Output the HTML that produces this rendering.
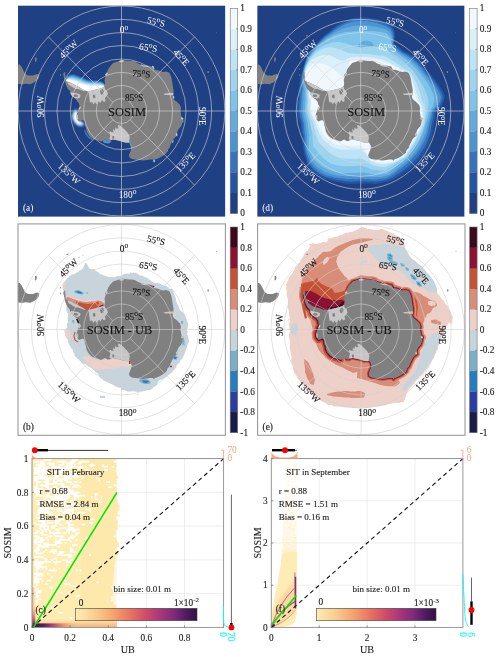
<!DOCTYPE html><html><head><meta charset="utf-8"><title>SOSIM vs UB sea ice</title>
<style>html,body{margin:0;padding:0;background:#fff}svg{display:block}text{font-family:"Liberation Serif","Times New Roman",serif;stroke-width:0.12px;paint-order:stroke}</style></head><body>
<svg width="500" height="657" viewBox="0 0 500 657">
<defs><clipPath id="pc"><rect x="0" y="0" width="207.4" height="211.4"/></clipPath>
<filter id="b1" x="-20%" y="-20%" width="140%" height="140%"><feGaussianBlur stdDeviation="0.9"/></filter>
<filter id="b05" x="-20%" y="-20%" width="140%" height="140%"><feGaussianBlur stdDeviation="0.45"/></filter>
</defs>
<rect width="500" height="657" fill="#fff"/>
<g transform="translate(18.0 5.4)"><g clip-path="url(#pc)">
<rect width="207.4" height="211.4" fill="#1f4082"/>
<g filter="url(#b05)"><path d="M47.0 75.1 C47.1 74.2 47.8 72.5 48.5 71.6 C49.2 70.6 49.9 69.9 51.0 69.4 C52.1 68.9 53.7 68.6 55.0 68.6 C56.3 68.6 57.5 69.1 59.0 69.6 C60.5 70.1 62.3 70.9 64.0 71.6 C65.7 72.3 67.3 73.1 69.0 73.6 C70.7 74.1 72.3 74.4 74.0 74.6 C75.7 74.8 77.3 74.5 79.0 74.8 C80.7 75.0 82.7 75.4 84.0 76.1 C85.3 76.8 86.6 78.0 87.0 79.1 C87.4 80.2 87.2 81.7 86.5 82.6 C85.8 83.5 84.4 84.0 83.0 84.6 C81.6 85.2 79.5 85.7 78.0 86.1 C76.5 86.5 75.3 86.8 74.0 87.1 C72.7 87.3 71.3 87.8 70.0 87.6 C68.7 87.4 67.3 86.7 66.0 86.1 C64.7 85.5 63.3 84.8 62.0 84.1 C60.7 83.4 59.3 82.8 58.0 82.1 C56.7 81.4 55.3 80.8 54.0 80.1 C52.7 79.4 51.0 78.6 50.0 78.1 C49.0 77.6 48.5 77.6 48.0 77.1 C47.5 76.6 46.9 76.0 47.0 75.1Z" fill="#2255a3"/><path d="M47.2 75.2 C47.3 74.3 48.0 72.8 48.7 71.9 C49.3 71.1 50.1 70.5 51.1 70.0 C52.2 69.6 53.7 69.3 55.0 69.4 C56.3 69.5 57.4 69.9 58.9 70.4 C60.4 70.9 62.1 71.7 63.8 72.4 C65.4 73.0 67.1 73.8 68.8 74.3 C70.4 74.8 72.1 75.1 73.8 75.3 C75.4 75.5 77.1 75.3 78.8 75.5 C80.4 75.7 82.4 76.0 83.8 76.6 C85.1 77.3 86.4 78.3 86.8 79.3 C87.3 80.3 87.1 81.7 86.5 82.6 C85.9 83.5 84.4 84.0 83.0 84.6 C81.6 85.2 79.5 85.7 78.0 86.1 C76.5 86.5 75.3 86.8 74.0 87.1 C72.7 87.3 71.3 87.8 70.0 87.6 C68.7 87.4 67.3 86.7 66.0 86.1 C64.7 85.5 63.3 84.8 62.0 84.1 C60.7 83.4 59.3 82.8 58.0 82.1 C56.7 81.4 55.3 80.8 54.0 80.1 C52.7 79.4 51.0 78.6 50.0 78.1 C49.0 77.6 48.5 77.6 48.0 77.1 C47.5 76.6 47.1 76.0 47.2 75.2Z" fill="#3574bc"/><path d="M47.3 75.2 C47.5 74.4 48.2 73.0 48.8 72.3 C49.5 71.5 50.2 71.0 51.2 70.7 C52.2 70.3 53.7 70.1 55.0 70.2 C56.3 70.3 57.4 70.8 58.8 71.3 C60.2 71.8 61.9 72.5 63.6 73.2 C65.2 73.8 66.9 74.6 68.6 75.0 C70.2 75.5 71.9 75.9 73.6 76.0 C75.2 76.2 76.9 76.0 78.6 76.2 C80.2 76.4 82.2 76.6 83.6 77.2 C84.9 77.7 86.2 78.6 86.7 79.5 C87.2 80.4 87.1 81.8 86.5 82.6 C85.9 83.4 84.4 84.0 83.0 84.6 C81.6 85.2 79.5 85.7 78.0 86.1 C76.5 86.5 75.3 86.8 74.0 87.1 C72.7 87.3 71.3 87.8 70.0 87.6 C68.7 87.4 67.3 86.7 66.0 86.1 C64.7 85.5 63.3 84.8 62.0 84.1 C60.7 83.4 59.3 82.8 58.0 82.1 C56.7 81.4 55.3 80.8 54.0 80.1 C52.7 79.4 51.0 78.6 50.0 78.1 C49.0 77.6 48.4 77.6 48.0 77.1 C47.6 76.6 47.2 76.0 47.3 75.2Z" fill="#4c93d1"/><path d="M47.5 75.3 C47.7 74.5 48.4 73.3 49.0 72.6 C49.6 71.9 50.3 71.6 51.3 71.3 C52.3 71.0 53.8 70.9 55.0 71.0 C56.2 71.2 57.3 71.6 58.7 72.1 C60.1 72.6 61.7 73.3 63.3 73.9 C64.9 74.5 66.7 75.3 68.3 75.8 C70.0 76.2 71.7 76.6 73.3 76.8 C75.0 77.0 76.7 76.7 78.3 76.9 C80.0 77.1 82.0 77.2 83.3 77.7 C84.7 78.2 86.0 78.9 86.5 79.7 C87.0 80.5 87.1 81.8 86.5 82.6 C85.9 83.4 84.4 84.0 83.0 84.6 C81.6 85.2 79.5 85.7 78.0 86.1 C76.5 86.5 75.3 86.8 74.0 87.1 C72.7 87.3 71.3 87.8 70.0 87.6 C68.7 87.4 67.3 86.7 66.0 86.1 C64.7 85.5 63.3 84.8 62.0 84.1 C60.7 83.4 59.3 82.8 58.0 82.1 C56.7 81.4 55.3 80.8 54.0 80.1 C52.7 79.4 51.0 78.6 50.0 78.1 C49.0 77.6 48.4 77.6 48.0 77.1 C47.6 76.6 47.3 76.0 47.5 75.3Z" fill="#62abdf"/><path d="M47.7 75.3 C47.9 74.6 48.5 73.5 49.2 72.9 C49.8 72.4 50.5 72.1 51.4 71.9 C52.4 71.8 53.8 71.7 55.0 71.8 C56.2 72.0 57.2 72.5 58.6 72.9 C59.9 73.4 61.5 74.1 63.1 74.7 C64.7 75.3 66.4 76.0 68.1 76.5 C69.8 77.0 71.4 77.3 73.1 77.5 C74.8 77.7 76.4 77.5 78.1 77.6 C79.8 77.7 81.7 77.8 83.1 78.2 C84.5 78.6 85.8 79.2 86.3 79.9 C86.9 80.6 87.1 81.8 86.5 82.6 C85.9 83.4 84.4 84.0 83.0 84.6 C81.6 85.2 79.5 85.7 78.0 86.1 C76.5 86.5 75.3 86.8 74.0 87.1 C72.7 87.3 71.3 87.8 70.0 87.6 C68.7 87.4 67.3 86.7 66.0 86.1 C64.7 85.5 63.3 84.8 62.0 84.1 C60.7 83.4 59.3 82.8 58.0 82.1 C56.7 81.4 55.3 80.8 54.0 80.1 C52.7 79.4 51.0 78.6 50.0 78.1 C49.0 77.6 48.4 77.6 48.0 77.1 C47.6 76.6 47.5 76.0 47.7 75.3Z" fill="#7ec3e9"/><path d="M47.8 75.4 C48.1 74.7 48.7 73.7 49.3 73.3 C50.0 72.8 50.6 72.7 51.6 72.6 C52.5 72.5 53.9 72.5 55.0 72.7 C56.1 72.9 57.1 73.3 58.4 73.8 C59.8 74.2 61.3 74.9 62.9 75.5 C64.5 76.1 66.2 76.8 67.9 77.2 C69.6 77.7 71.2 78.0 72.9 78.2 C74.6 78.4 76.2 78.2 77.9 78.3 C79.6 78.4 81.5 78.5 82.9 78.8 C84.3 79.1 85.6 79.5 86.2 80.1 C86.8 80.7 87.0 81.8 86.5 82.6 C86.0 83.3 84.4 84.0 83.0 84.6 C81.6 85.2 79.5 85.7 78.0 86.1 C76.5 86.5 75.3 86.8 74.0 87.1 C72.7 87.3 71.3 87.8 70.0 87.6 C68.7 87.4 67.3 86.7 66.0 86.1 C64.7 85.5 63.3 84.8 62.0 84.1 C60.7 83.4 59.3 82.8 58.0 82.1 C56.7 81.4 55.3 80.8 54.0 80.1 C52.7 79.4 51.0 78.6 50.0 78.1 C49.0 77.6 48.4 77.6 48.0 77.1 C47.6 76.6 47.6 76.0 47.8 75.4Z" fill="#9dd4f0"/><path d="M48.0 75.4 C48.2 74.8 48.9 74.0 49.5 73.6 C50.1 73.2 50.8 73.2 51.7 73.2 C52.6 73.2 53.9 73.2 55.0 73.5 C56.1 73.7 57.1 74.1 58.3 74.6 C59.6 75.1 61.1 75.7 62.7 76.3 C64.2 76.8 66.0 77.5 67.7 77.9 C69.3 78.4 71.0 78.8 72.7 78.9 C74.3 79.1 76.0 78.9 77.7 79.0 C79.3 79.1 81.3 79.1 82.7 79.3 C84.1 79.5 85.4 79.8 86.0 80.3 C86.6 80.8 87.0 81.9 86.5 82.6 C86.0 83.3 84.4 84.0 83.0 84.6 C81.6 85.2 79.5 85.7 78.0 86.1 C76.5 86.5 75.3 86.8 74.0 87.1 C72.7 87.3 71.3 87.8 70.0 87.6 C68.7 87.4 67.3 86.7 66.0 86.1 C64.7 85.5 63.3 84.8 62.0 84.1 C60.7 83.4 59.3 82.8 58.0 82.1 C56.7 81.4 55.3 80.8 54.0 80.1 C52.7 79.4 51.0 78.6 50.0 78.1 C49.0 77.6 48.3 77.5 48.0 77.1 C47.7 76.7 47.8 76.0 48.0 75.4Z" fill="#bde3f6"/><path d="M48.2 75.5 C48.4 75.0 49.1 74.2 49.7 73.9 C50.3 73.7 50.9 73.8 51.8 73.8 C52.7 73.9 53.9 74.0 55.0 74.3 C56.1 74.5 57.0 75.0 58.2 75.4 C59.5 75.9 60.9 76.5 62.4 77.0 C64.0 77.6 65.8 78.2 67.4 78.7 C69.1 79.1 70.8 79.5 72.4 79.7 C74.1 79.8 75.8 79.7 77.4 79.7 C79.1 79.7 81.0 79.7 82.4 79.8 C83.8 80.0 85.2 80.0 85.8 80.5 C86.5 81.0 87.0 81.9 86.5 82.6 C86.0 83.3 84.4 84.0 83.0 84.6 C81.6 85.2 79.5 85.7 78.0 86.1 C76.5 86.5 75.3 86.8 74.0 87.1 C72.7 87.3 71.3 87.8 70.0 87.6 C68.7 87.4 67.3 86.7 66.0 86.1 C64.7 85.5 63.3 84.8 62.0 84.1 C60.7 83.4 59.3 82.8 58.0 82.1 C56.7 81.4 55.3 80.8 54.0 80.1 C52.7 79.4 51.0 78.6 50.0 78.1 C49.0 77.6 48.3 77.5 48.0 77.1 C47.7 76.7 47.9 76.0 48.2 75.5Z" fill="#dcf0fa"/><path d="M48.3 75.5 C48.6 75.1 49.2 74.4 49.8 74.3 C50.4 74.1 51.0 74.3 51.9 74.5 C52.8 74.6 54.0 74.8 55.0 75.1 C56.0 75.4 56.9 75.8 58.1 76.3 C59.3 76.7 60.7 77.3 62.2 77.8 C63.7 78.3 65.6 79.0 67.2 79.4 C68.9 79.8 70.6 80.2 72.2 80.4 C73.9 80.5 75.6 80.4 77.2 80.4 C78.9 80.4 80.8 80.3 82.2 80.4 C83.6 80.4 85.0 80.3 85.7 80.7 C86.4 81.1 86.9 81.9 86.5 82.6 C86.1 83.2 84.4 84.0 83.0 84.6 C81.6 85.2 79.5 85.7 78.0 86.1 C76.5 86.5 75.3 86.8 74.0 87.1 C72.7 87.3 71.3 87.8 70.0 87.6 C68.7 87.4 67.3 86.7 66.0 86.1 C64.7 85.5 63.3 84.8 62.0 84.1 C60.7 83.4 59.3 82.8 58.0 82.1 C56.7 81.4 55.3 80.8 54.0 80.1 C52.7 79.4 51.0 78.6 50.0 78.1 C49.0 77.6 48.3 77.5 48.0 77.1 C47.7 76.7 48.0 76.0 48.3 75.5Z" fill="#f0f8fd"/><path d="M48.5 75.6 C48.8 75.2 49.4 74.7 50.0 74.6 C50.6 74.5 51.2 74.9 52.0 75.1 C52.8 75.3 54.0 75.6 55.0 75.9 C56.0 76.2 56.8 76.6 58.0 77.1 C59.2 77.5 60.5 78.1 62.0 78.6 C63.5 79.1 65.3 79.7 67.0 80.1 C68.7 80.5 70.3 80.9 72.0 81.1 C73.7 81.3 75.3 81.1 77.0 81.1 C78.7 81.1 80.6 80.9 82.0 80.9 C83.4 80.9 84.8 80.6 85.5 80.9 C86.2 81.2 86.9 82.0 86.5 82.6 C86.1 83.2 84.4 84.0 83.0 84.6 C81.6 85.2 79.5 85.7 78.0 86.1 C76.5 86.5 75.3 86.8 74.0 87.1 C72.7 87.3 71.3 87.8 70.0 87.6 C68.7 87.4 67.3 86.7 66.0 86.1 C64.7 85.5 63.3 84.8 62.0 84.1 C60.7 83.4 59.3 82.8 58.0 82.1 C56.7 81.4 55.3 80.8 54.0 80.1 C52.7 79.4 51.0 78.6 50.0 78.1 C49.0 77.6 48.2 77.5 48.0 77.1 C47.8 76.7 48.2 76.0 48.5 75.6Z" fill="#ffffff"/></g><g filter="url(#b1)"><path d="M56.5 103.6 C57.5 102.8 58.8 103.4 59.5 104.1 C60.2 104.8 60.9 106.5 61.0 107.6 C61.1 108.7 60.1 109.5 60.0 110.6 C59.9 111.7 60.1 113.1 60.5 114.1 C60.9 115.1 61.6 116.1 62.5 116.6 C63.4 117.1 65.2 116.5 66.0 117.1 C66.8 117.7 67.7 119.3 67.0 120.1 C66.3 120.9 63.6 122.0 62.0 121.8 C60.4 121.6 58.8 120.3 57.5 119.1 C56.2 117.9 54.9 116.3 54.2 114.6 C53.6 112.8 53.2 110.4 53.6 108.6 C54.0 106.8 55.5 104.3 56.5 103.6Z" fill="#2255a3"/><path d="M56.6 104.3 C57.5 103.6 58.7 104.0 59.4 104.6 C60.1 105.2 60.7 106.8 60.7 107.8 C60.8 108.9 59.9 109.7 59.8 110.7 C59.7 111.7 59.9 113.1 60.3 114.0 C60.7 115.0 61.3 116.0 62.2 116.5 C63.1 117.0 64.8 116.5 65.5 117.0 C66.2 117.6 67.0 119.1 66.3 119.8 C65.7 120.5 63.2 121.4 61.8 121.2 C60.3 121.0 58.8 119.7 57.6 118.6 C56.4 117.4 55.2 116.0 54.6 114.3 C54.0 112.7 53.7 110.5 54.0 108.8 C54.4 107.2 55.8 105.0 56.6 104.3Z" fill="#3574bc"/><path d="M56.8 104.9 C57.6 104.3 58.7 104.6 59.3 105.1 C59.9 105.7 60.4 107.2 60.5 108.1 C60.5 109.0 59.7 109.8 59.6 110.8 C59.5 111.7 59.7 113.0 60.1 113.9 C60.5 114.9 61.1 115.8 61.9 116.3 C62.8 116.8 64.4 116.4 65.0 116.9 C65.6 117.5 66.2 118.9 65.7 119.5 C65.1 120.1 62.8 120.8 61.5 120.5 C60.2 120.3 58.8 119.1 57.7 118.1 C56.6 117.0 55.5 115.6 54.9 114.1 C54.4 112.6 54.2 110.6 54.5 109.1 C54.8 107.6 56.0 105.6 56.8 104.9Z" fill="#4c93d1"/><path d="M57.0 105.6 C57.7 105.0 58.6 105.2 59.1 105.6 C59.7 106.1 60.2 107.5 60.2 108.3 C60.2 109.2 59.5 109.9 59.4 110.8 C59.3 111.8 59.5 113.0 59.9 113.8 C60.2 114.7 60.9 115.7 61.6 116.2 C62.4 116.7 63.9 116.4 64.5 116.8 C65.1 117.3 65.5 118.6 65.0 119.1 C64.5 119.7 62.5 120.2 61.2 119.9 C60.0 119.6 58.7 118.6 57.8 117.5 C56.8 116.5 55.8 115.2 55.3 113.8 C54.8 112.5 54.6 110.7 54.9 109.3 C55.2 108.0 56.2 106.2 57.0 105.6Z" fill="#7ec3e9"/><path d="M57.1 106.3 C57.7 105.7 58.6 105.8 59.0 106.2 C59.5 106.6 59.9 107.8 59.9 108.6 C60.0 109.4 59.2 110.1 59.2 110.9 C59.1 111.8 59.3 112.9 59.6 113.8 C60.0 114.6 60.6 115.6 61.4 116.1 C62.1 116.6 63.5 116.3 64.0 116.8 C64.5 117.2 64.8 118.4 64.3 118.8 C63.8 119.2 62.1 119.6 61.0 119.3 C59.9 119.0 58.7 118.0 57.8 117.0 C56.9 116.1 56.1 114.8 55.7 113.6 C55.3 112.4 55.1 110.8 55.3 109.6 C55.6 108.4 56.5 106.8 57.1 106.3Z" fill="#bde3f6"/><path d="M57.3 106.9 C57.8 106.4 58.5 106.4 58.9 106.7 C59.3 107.0 59.7 108.1 59.7 108.8 C59.7 109.6 59.0 110.2 59.0 111.0 C59.0 111.8 59.1 112.9 59.4 113.7 C59.8 114.5 60.4 115.4 61.1 115.9 C61.8 116.4 63.1 116.3 63.5 116.7 C63.9 117.1 64.1 118.2 63.7 118.5 C63.2 118.8 61.7 119.0 60.8 118.6 C59.8 118.3 58.7 117.4 57.9 116.5 C57.1 115.6 56.4 114.5 56.0 113.3 C55.7 112.2 55.6 110.9 55.8 109.8 C56.0 108.8 56.7 107.5 57.3 106.9Z" fill="#f0f8fd"/><path d="M57.4 107.6 C57.8 107.1 58.5 106.9 58.8 107.2 C59.1 107.4 59.4 108.4 59.4 109.1 C59.4 109.8 58.8 110.3 58.8 111.1 C58.8 111.8 58.9 112.8 59.2 113.6 C59.5 114.4 60.2 115.3 60.8 115.8 C61.4 116.3 62.6 116.2 63.0 116.6 C63.4 117.0 63.4 118.0 63.0 118.2 C62.6 118.4 61.3 118.4 60.5 118.0 C59.7 117.6 58.7 116.8 58.0 116.0 C57.3 115.2 56.7 114.1 56.4 113.1 C56.1 112.1 56.0 111.0 56.2 110.1 C56.4 109.2 57.0 108.1 57.4 107.6Z" fill="#ffffff"/></g><g filter="url(#b05)"><path d="M57.5 91.1 C57.8 90.7 58.3 90.7 59.0 91.1 C59.7 91.5 60.9 92.7 61.5 93.6 C62.1 94.5 62.6 95.9 62.5 96.6 C62.4 97.3 61.6 97.8 61.0 97.6 C60.4 97.4 59.6 96.3 59.0 95.6 C58.4 94.9 57.8 94.3 57.5 93.6 C57.2 92.8 57.2 91.5 57.5 91.1Z" fill="#3574bc"/><path d="M58.5 92.1 C58.7 91.8 59.0 91.8 59.5 92.1 C60.0 92.4 60.8 93.4 61.2 94.1 C61.7 94.8 62.0 95.9 62.0 96.3 C62.0 96.8 61.4 97.1 61.0 97.0 C60.6 96.9 60.0 96.0 59.6 95.5 C59.2 95.0 58.7 94.5 58.5 93.9 C58.3 93.3 58.3 92.4 58.5 92.1Z" fill="#7ec3e9"/><path d="M59.5 93.1 C59.6 92.9 59.8 92.8 60.0 93.1 C60.2 93.3 60.8 94.1 61.0 94.6 C61.2 95.1 61.5 95.8 61.5 96.1 C61.5 96.4 61.2 96.5 61.0 96.4 C60.8 96.3 60.5 95.8 60.2 95.4 C60.0 95.0 59.6 94.6 59.5 94.2 C59.4 93.8 59.4 93.3 59.5 93.1Z" fill="#dcf0fa"/></g><g filter="url(#b05)"><path d="M67.0 124.6 C67.5 125.0 68.2 127.0 69.0 128.1 C69.8 129.2 70.6 130.3 71.5 131.1 C72.4 131.9 74.1 132.5 74.5 133.1 C74.9 133.7 74.7 134.7 74.0 134.6 C73.3 134.5 71.6 133.5 70.5 132.6 C69.4 131.7 68.2 130.3 67.5 129.1 C66.8 127.9 66.3 126.3 66.2 125.6 C66.1 124.8 66.5 124.2 67.0 124.6Z" fill="#3574bc"/><path d="M85.0 135.1 C85.2 134.5 86.2 134.0 87.0 134.1 C87.8 134.2 88.8 135.3 89.5 135.6 C90.2 135.8 90.9 135.8 91.5 135.6 C92.1 135.4 92.8 134.4 93.0 134.6 C93.2 134.8 93.5 136.0 93.0 136.6 C92.5 137.2 91.2 137.9 90.0 138.0 C88.8 138.1 86.8 137.9 86.0 137.4 C85.2 136.9 84.8 135.7 85.0 135.1Z" fill="#4c93d1"/><path d="M110.8 135.6 C110.9 135.3 112.0 135.8 112.6 136.6 C113.2 137.4 113.9 139.4 114.2 140.6 C114.5 141.8 114.7 142.8 114.6 143.6 C114.5 144.3 113.7 145.4 113.4 145.1 C113.1 144.8 113.1 142.7 112.8 141.6 C112.5 140.5 112.1 139.6 111.8 138.6 C111.5 137.6 110.7 135.9 110.8 135.6Z" fill="#62abdf"/><path d="M134.0 60.6 C134.2 60.1 135.4 60.5 135.8 61.1 C136.2 61.7 136.4 63.6 136.2 64.1 C136.0 64.6 135.2 64.7 134.8 64.1 C134.4 63.5 133.8 61.1 134.0 60.6Z" fill="#9dd4f0"/><path d="M154.8 90.6 C155.0 90.2 155.8 90.2 156.0 90.6 C156.2 91.0 156.4 92.8 156.2 93.2 C156.0 93.6 155.2 93.4 155.0 93.0 C154.8 92.6 154.6 91.0 154.8 90.6Z" fill="#9dd4f0"/><path d="M164.4 114.6 C164.6 114.2 165.3 114.2 165.4 114.6 C165.5 115.0 165.4 116.8 165.2 117.2 C165.0 117.6 164.3 117.4 164.2 117.0 C164.1 116.6 164.2 115.0 164.4 114.6Z" fill="#62abdf"/><path d="M135.2 154.6 C135.5 154.2 136.7 154.1 137.0 154.4 C137.3 154.7 137.3 156.2 137.0 156.6 C136.7 157.0 135.7 156.9 135.4 156.6 C135.1 156.3 134.9 155.0 135.2 154.6Z" fill="#7ec3e9"/><path d="M154.4 135.1 C154.7 134.7 155.5 134.3 155.6 134.6 C155.7 134.9 155.5 136.6 155.2 137.0 C154.9 137.4 154.1 137.5 154.0 137.2 C153.9 136.9 154.1 135.5 154.4 135.1Z" fill="#7ec3e9"/><path d="M148.6 144.2 C148.8 144.0 149.7 144.1 149.8 144.4 C149.9 144.7 149.6 146.0 149.4 146.2 C149.2 146.4 148.5 146.1 148.4 145.8 C148.3 145.5 148.4 144.4 148.6 144.2Z" fill="#7ec3e9"/></g>
<path d="M46.3 66.6 L47.2 66.9 L47.5 71.6 L48.0 75.6 L52.0 77.1 L55.0 78.6 L58.0 80.1 L61.0 81.6 L64.0 83.6 L67.0 85.1 L70.0 86.1 L74.0 85.1 L78.0 84.1 L82.0 83.1 L85.0 82.1 L86.5 80.6 L87.0 77.6 L86.5 74.6 L87.5 71.6 L87.0 69.1 L89.0 67.1 L90.0 64.1 L92.0 61.1 L93.5 59.4 L95.0 57.6 L98.0 56.6 L101.0 55.6 L103.5 54.6 L107.0 55.1 L111.0 55.6 L115.0 55.6 L117.0 56.1 L120.0 58.1 L123.0 59.1 L126.0 60.1 L130.0 60.4 L134.0 61.1 L135.5 64.1 L139.0 64.6 L142.0 65.6 L145.0 66.6 L148.0 66.1 L151.0 67.1 L152.5 69.6 L153.5 72.6 L154.0 75.6 L154.5 78.6 L155.0 81.6 L155.5 84.6 L155.5 87.6 L155.0 90.1 L154.7 91.6 L155.5 93.6 L157.0 95.1 L158.5 96.1 L160.0 97.6 L162.0 99.6 L163.0 102.6 L162.5 105.6 L163.0 108.6 L163.5 111.6 L165.5 113.1 L164.5 115.6 L164.0 118.6 L163.0 121.1 L161.5 122.6 L160.0 124.6 L159.0 127.6 L159.5 130.1 L157.0 132.1 L155.5 133.6 L154.0 136.6 L152.5 139.6 L151.5 142.6 L149.5 144.6 L148.5 147.6 L146.0 149.6 L143.0 151.6 L140.0 153.1 L137.0 154.1 L136.0 155.6 L135.0 154.1 L132.0 154.1 L129.0 154.6 L125.0 155.1 L121.0 154.6 L117.0 154.1 L114.0 153.6 L111.5 152.1 L111.0 149.6 L112.0 147.1 L113.0 144.6 L114.0 142.1 L113.0 139.1 L111.5 136.9 L110.2 137.3 L106.8 137.1 L102.0 135.6 L97.7 134.7 L94.8 134.0 L93.0 134.6 L91.5 135.6 L89.5 135.6 L87.0 134.1 L85.0 135.1 L83.0 136.1 L80.5 135.1 L77.0 134.1 L74.5 133.1 L72.0 131.1 L70.0 128.6 L68.5 125.6 L68.0 122.6 L67.0 119.6 L66.5 116.1 L65.0 114.6 L61.0 116.1 L59.0 113.6 L58.5 109.6 L59.5 106.6 L60.5 103.6 L62.0 100.6 L61.0 99.1 L60.5 96.6 L59.0 94.6 L57.0 93.1 L55.0 91.6 L53.5 89.6 L53.0 87.1 L51.5 85.1 L49.5 83.1 L48.0 79.6 L47.0 76.6 L46.0 72.6Z" fill="#808080"/><path d="M70.5 86.1 L74.0 85.1 L78.0 84.1 L82.0 83.1 L85.0 82.1 L86.5 81.1 L87.0 83.6 L89.0 85.6 L90.0 88.6 L88.5 90.6 L87.0 92.6 L87.5 95.6 L86.0 96.6 L84.0 94.6 L82.5 97.6 L80.5 95.6 L78.5 99.1 L77.0 96.6 L75.5 99.1 L74.0 96.6 L72.0 97.1 L71.5 93.6 L71.0 89.6Z" fill="#c6c6c6"/><path d="M93.0 134.6 L94.8 134.0 L97.7 134.7 L102.0 135.6 L106.8 137.1 L110.2 137.3 L111.5 136.9 L111.1 135.4 L111.8 132.5 L111.1 129.6 L109.2 126.8 L106.8 124.4 L104.4 122.0 L102.0 120.0 L100.3 119.6 L99.8 121.0 L100.8 122.9 L98.6 123.4 L97.7 121.7 L97.2 123.4 L96.7 125.3 L95.5 123.4 L95.0 125.3 L95.8 126.8 L93.8 126.8 L91.9 125.8 L91.2 127.7 L92.4 129.6 L91.9 131.6 L91.4 133.5Z" fill="#c6c6c6"/><path d="M145.5 88.4 L150.0 87.9 L155.4 87.4 L155.2 89.8 L150.0 89.6 L147.0 89.6Z" fill="#c6c6c6"/><path d="M49.5 76.6 L53.0 77.6 L56.0 79.1 L59.0 80.8 L62.0 82.4 L65.0 84.1 L67.5 85.4 L66.0 85.8 L63.0 84.6 L60.0 83.6 L58.0 83.6 L55.0 82.1 L52.0 80.1 L50.0 78.6Z" fill="#c6c6c6"/><path d="M52.5 86.6 L56.0 87.6 L60.0 88.1 L62.5 89.6 L62.0 92.1 L60.0 93.1 L57.0 92.6 L54.0 90.6 L52.5 88.6Z" fill="#c6c6c6"/><path d="M87.0 69.1 L89.0 67.1 L90.0 68.1 L88.5 70.1Z" fill="#c6c6c6"/><path d="M101.0 55.6 L103.5 54.6 L106.0 55.1 L105.5 56.6 L102.0 56.9Z" fill="#c6c6c6"/><path d="M163.5 111.6 L165.5 113.1 L164.5 114.6 L163.0 113.6Z" fill="#c6c6c6"/><path d="M159.0 127.6 L159.5 130.1 L158.0 130.6 L157.8 128.1Z" fill="#c6c6c6"/><path d="M58.5 109.6 L59.0 113.6 L60.3 113.6 L59.9 109.6Z" fill="#c6c6c6"/><path d="M60.5 103.6 L62.0 100.6 L63.0 101.6 L61.7 104.6Z" fill="#c6c6c6"/><path d="M123.0 59.1 L126.0 60.1 L130.0 60.4 L129.5 61.4 L125.5 61.2 L123.0 60.2Z" fill="#c6c6c6"/><path d="M82.5 84.6 L85.0 83.6 L86.0 86.6 L85.0 89.6 L83.0 89.1 L82.0 86.6Z" fill="#808080"/><path d="M75.0 89.6 L77.0 89.1 L77.5 92.1 L76.0 93.1 L74.8 91.6Z" fill="#808080"/><path d="M56.0 89.1 L59.5 89.4 L60.0 91.4 L57.0 91.6 L55.5 90.6Z" fill="#808080"/><path d="M94.3 130.6 L96.2 130.6 L96.2 133.5 L94.5 133.3Z" fill="#808080"/><path d="M0.0 59.2 L1.6 59.2 L3.4 61.0 L5.2 64.6 L7.0 68.2 L10.0 70.0 L14.8 70.0 L19.0 68.6 L21.4 69.4 L20.8 72.4 L19.0 74.8 L16.0 77.2 L12.4 78.8 L7.6 78.4 L4.0 79.0 L0.0 78.4Z" fill="#808080"/><path d="M17.0 52.4 L18.3 51.8 L18.8 53.6 L18.2 56.1 L17.0 56.6Z" fill="#808080"/><path d="M48.5 30.0 L50.5 29.6 L50.6 30.6 L48.8 31.0Z" fill="#808080"/><path d="M45.3 68.1 L46.3 67.6 L46.6 70.6 L45.6 71.1Z" fill="#808080"/><path d="M42.0 63.1 L42.8 63.1 L42.8 64.6 L42.0 64.6Z" fill="#808080"/><path d="M42.2 68.6 L43.0 68.6 L43.0 70.6 L42.2 70.6Z" fill="#808080"/><path d="M189.5 65.6 L190.8 65.6 L190.8 67.6 L189.5 67.6Z" fill="#808080"/><path d="M198.0 27.1 L198.8 27.1 L198.8 27.9 L198.0 27.9Z" fill="#808080"/>
<g fill="none" stroke="#d6d6d6" stroke-width="0.60"><ellipse cx="103.5" cy="105.6" rx="12.3" ry="12.5"/><ellipse cx="103.5" cy="105.6" rx="25.1" ry="25.5"/><ellipse cx="103.5" cy="105.6" rx="38.0" ry="38.6"/><ellipse cx="103.5" cy="105.6" rx="51.2" ry="52.0"/><ellipse cx="103.5" cy="105.6" rx="64.5" ry="65.5"/><ellipse cx="103.5" cy="105.6" rx="77.0" ry="78.3"/><ellipse cx="103.5" cy="105.6" rx="90.1" ry="91.6"/><ellipse cx="103.5" cy="105.6" rx="103.3" ry="105.0"/><path d="M103.5 0.6 V210.6 M0.2 105.6 H206.8"/><path d="M112.2 96.8 L176.6 31.4"/><path d="M112.2 114.4 L176.6 179.8"/><path d="M94.8 114.4 L30.4 179.8"/><path d="M94.8 96.8 L30.4 31.4"/></g>
<text transform="translate(106.0 27.8) rotate(0)" text-anchor="middle" font-size="9.3" fill="#fff">0<tspan font-size="7.6" dy="-3.3">o</tspan><tspan font-size="9.3" dy="3.3"></tspan></text><text transform="translate(109.6 192.2) rotate(0)" text-anchor="middle" font-size="9.3" fill="#fff">180<tspan font-size="7.6" dy="-3.3">o</tspan><tspan font-size="9.3" dy="3.3"></tspan></text><text transform="translate(137.3 19.5) rotate(13)" text-anchor="middle" font-size="9.3" fill="#fff">55<tspan font-size="7.6" dy="-3.3">o</tspan><tspan font-size="9.3" dy="3.3">S</tspan></text><text transform="translate(129.8 45.2) rotate(9)" text-anchor="middle" font-size="9.3" fill="#fff">65<tspan font-size="7.6" dy="-3.3">o</tspan><tspan font-size="9.3" dy="3.3">S</tspan></text><text transform="translate(123.0 71.5) rotate(5)" text-anchor="middle" font-size="9.3" fill="#111" stroke="#111">75<tspan font-size="7.6" dy="-3.3">o</tspan><tspan font-size="9.3" dy="3.3">S</tspan></text><text transform="translate(116.0 95.8) rotate(0)" text-anchor="middle" font-size="9.3" fill="#111" stroke="#111">85<tspan font-size="7.6" dy="-3.3">o</tspan><tspan font-size="9.3" dy="3.3">S</tspan></text><text transform="translate(52.8 46.2) rotate(-45)" text-anchor="middle" font-size="9.3" fill="#fff">45<tspan font-size="7.6" dy="-3.3">o</tspan><tspan font-size="9.3" dy="3.3">W</tspan></text><text transform="translate(161.0 54.0) rotate(48)" text-anchor="middle" font-size="9.3" fill="#fff">45<tspan font-size="7.6" dy="-3.3">o</tspan><tspan font-size="9.3" dy="3.3">E</tspan></text><text transform="translate(49.0 170.5) rotate(43)" text-anchor="middle" font-size="9.3" fill="#fff">135<tspan font-size="7.6" dy="-3.3">o</tspan><tspan font-size="9.3" dy="3.3">W</tspan></text><text transform="translate(169.8 158.8) rotate(-45)" text-anchor="middle" font-size="9.3" fill="#fff">135<tspan font-size="7.6" dy="-3.3">o</tspan><tspan font-size="9.3" dy="3.3">E</tspan></text><text transform="translate(25.8 101.2) rotate(-90)" text-anchor="middle" font-size="9.3" fill="#fff">90<tspan font-size="7.6" dy="-3.3">o</tspan><tspan font-size="9.3" dy="3.3">W</tspan></text><text transform="translate(181.0 111.0) rotate(90)" text-anchor="middle" font-size="9.3" fill="#fff">90<tspan font-size="7.6" dy="-3.3">o</tspan><tspan font-size="9.3" dy="3.3">E</tspan></text><text x="109.0" y="110.3" text-anchor="middle" font-size="12.4" fill="#111" stroke="#111">SOSIM</text>
<text x="5" y="205.5" font-size="9.3" fill="#fff">(a)</text>
</g>
</g>
<g transform="translate(257.2 5.4)"><g clip-path="url(#pc)">
<rect width="207.4" height="211.4" fill="#1f4082"/>
<path d="M103.5 11.8 C105.1 11.8 106.7 11.9 108.3 12.1 C109.9 12.2 111.5 12.4 113.1 12.6 C114.7 12.8 116.3 13.1 117.9 13.4 C119.4 13.7 121.0 14.2 122.5 14.7 C124.1 15.1 125.6 15.7 127.1 16.3 C128.5 16.8 130.1 17.3 131.5 18.1 C132.9 18.9 134.5 19.2 135.5 20.8 C136.5 22.4 137.3 24.8 137.7 27.6 C138.0 30.5 136.9 35.9 137.4 38.1 C137.8 40.2 139.4 39.7 140.5 40.6 C141.5 41.4 142.4 42.3 143.4 43.2 C144.4 44.0 145.4 44.8 146.5 45.5 C147.6 46.2 148.8 46.6 150.0 47.2 C151.2 47.8 152.4 48.5 153.5 49.2 C154.7 49.8 155.8 50.5 156.9 51.3 C158.0 52.1 159.0 53.0 160.0 53.9 C161.0 54.8 162.1 55.7 163.0 56.6 C164.0 57.6 164.9 58.6 165.8 59.6 C166.7 60.6 167.5 61.7 168.4 62.8 C169.2 63.9 169.9 65.0 170.8 66.1 C171.7 67.2 172.8 68.1 173.8 69.2 C174.8 70.3 175.7 71.4 176.7 72.5 C177.6 73.6 178.5 74.8 179.4 76.0 C180.3 77.2 181.1 78.4 182.0 79.7 C182.8 81.0 183.6 82.2 184.4 83.6 C185.2 84.9 186.1 86.2 186.6 87.6 C187.2 89.1 187.7 90.5 187.6 92.1 C187.5 93.6 186.8 95.2 186.1 96.8 C185.4 98.3 184.7 99.9 183.6 101.3 C182.4 102.8 180.1 104.2 179.3 105.6 C178.5 107.0 178.9 108.3 178.7 109.6 C178.5 110.9 178.3 112.2 178.0 113.6 C177.7 114.9 177.3 116.1 177.0 117.4 C176.8 118.7 176.6 120.0 176.4 121.3 C176.2 122.7 176.1 124.0 175.9 125.3 C175.6 126.6 175.4 127.9 175.1 129.2 C174.8 130.5 174.5 131.9 174.1 133.1 C173.7 134.4 173.2 135.7 172.7 136.9 C172.2 138.2 171.6 139.4 171.0 140.6 C170.4 141.8 169.8 142.9 169.1 144.1 C168.5 145.3 167.8 146.4 167.0 147.5 C166.3 148.7 165.6 149.8 164.8 150.8 C164.0 151.9 163.1 152.9 162.2 153.9 C161.4 154.9 160.5 155.9 159.6 156.9 C158.6 157.8 157.7 158.8 156.7 159.7 C155.8 160.6 154.8 161.5 153.8 162.4 C152.8 163.2 151.8 164.1 150.7 164.9 C149.7 165.7 148.6 166.4 147.5 167.2 C146.4 167.9 145.3 168.6 144.2 169.3 C143.1 170.0 142.0 170.8 140.9 171.4 C139.8 172.1 138.6 172.7 137.5 173.3 C136.3 173.9 135.1 174.5 133.9 175.0 C132.7 175.5 131.5 175.9 130.2 176.3 C129.0 176.7 127.7 177.0 126.4 177.2 C125.1 177.5 123.9 177.7 122.6 178.0 C121.3 178.2 120.0 178.4 118.7 178.5 C117.5 178.6 116.1 178.5 114.9 178.4 C113.6 178.4 112.3 178.2 111.0 178.2 C109.7 178.2 108.5 178.3 107.2 178.3 C106.0 178.2 104.8 178.1 103.5 178.1 C102.2 178.1 101.0 178.3 99.7 178.4 C98.5 178.5 97.2 178.5 96.0 178.5 C94.7 178.5 93.4 178.4 92.2 178.4 C90.9 178.3 89.6 178.2 88.3 178.1 C87.1 177.9 85.8 177.8 84.5 177.6 C83.3 177.4 82.0 177.1 80.7 176.9 C79.4 176.6 78.2 176.3 76.9 176.0 C75.6 175.7 74.3 175.4 73.1 175.1 C71.8 174.7 70.5 174.3 69.2 173.9 C68.0 173.5 66.7 173.1 65.5 172.5 C64.3 172.0 63.1 171.2 62.0 170.5 C60.9 169.8 59.7 169.1 58.7 168.3 C57.6 167.5 56.5 166.7 55.6 165.8 C54.6 164.8 53.8 163.7 52.9 162.7 C52.1 161.6 51.1 160.7 50.5 159.5 C49.8 158.3 49.4 156.8 48.9 155.5 C48.5 154.2 48.1 152.9 47.7 151.5 C47.3 150.2 47.0 148.9 46.7 147.6 C46.4 146.2 46.1 144.9 45.9 143.6 C45.7 142.3 45.5 141.0 45.4 139.7 C45.3 138.4 45.2 137.1 45.1 135.8 C45.0 134.6 45.0 133.3 44.8 132.1 C44.7 131.0 44.4 129.9 44.2 128.7 C44.1 127.6 43.9 126.4 43.8 125.3 C43.7 124.2 43.7 123.0 43.6 121.9 C43.5 120.8 43.4 119.7 43.2 118.6 C42.9 117.6 42.4 116.5 42.1 115.5 C41.8 114.4 41.5 113.3 41.2 112.3 C40.9 111.2 40.6 110.1 40.4 109.0 C40.2 107.9 39.9 106.7 39.8 105.6 C39.7 104.5 39.8 103.3 39.8 102.2 C39.9 101.1 39.9 99.9 40.0 98.8 C40.1 97.7 40.3 96.6 40.4 95.4 C40.5 94.3 40.6 93.2 40.7 92.0 C40.8 90.9 40.8 89.7 40.9 88.6 C41.0 87.4 41.1 86.2 41.3 85.1 C41.5 83.9 41.7 82.7 41.9 81.6 C42.0 80.4 42.1 79.1 42.3 77.9 C42.4 76.7 42.6 75.4 42.9 74.2 C43.1 73.0 43.4 71.7 43.6 70.5 C43.9 69.2 44.3 68.0 44.6 66.7 C45.0 65.5 45.3 64.2 45.7 62.9 C46.1 61.6 46.5 60.4 46.9 59.0 C47.3 57.7 47.7 56.3 48.1 54.9 C48.6 53.5 48.9 52.1 49.6 50.8 C50.2 49.5 51.1 48.5 51.9 47.4 C52.7 46.2 53.6 45.2 54.4 44.0 C55.3 42.9 56.2 41.8 57.1 40.7 C58.0 39.6 58.9 38.4 59.9 37.4 C60.9 36.3 61.9 35.3 62.9 34.2 C63.9 33.1 64.9 31.8 66.0 30.8 C67.1 29.7 68.3 28.9 69.5 27.9 C70.7 27.0 71.9 26.2 73.1 25.2 C74.3 24.1 75.5 22.9 76.7 21.9 C78.0 20.9 79.3 20.0 80.7 19.1 C82.1 18.3 83.4 17.3 84.9 16.6 C86.3 15.9 87.8 15.3 89.3 14.7 C90.8 14.2 92.4 13.5 93.9 13.1 C95.5 12.7 97.1 12.5 98.7 12.3 C100.3 12.1 101.9 11.8 103.5 11.8Z" fill="#2255a3"/><path d="M103.5 13.6 C105.1 13.6 106.7 13.8 108.2 13.9 C109.8 14.0 111.4 14.2 112.9 14.5 C114.5 14.7 116.0 14.9 117.6 15.3 C119.1 15.6 120.6 16.1 122.1 16.5 C123.6 17.0 125.1 17.6 126.6 18.2 C128.0 18.7 129.5 19.2 130.9 20.0 C132.2 20.8 133.7 21.4 134.7 23.0 C135.7 24.6 136.5 26.9 136.8 29.6 C137.1 32.4 136.2 37.4 136.7 39.4 C137.2 41.4 138.8 40.9 139.8 41.8 C140.8 42.6 141.7 43.5 142.7 44.3 C143.7 45.1 144.6 45.9 145.7 46.5 C146.8 47.2 148.0 47.7 149.1 48.3 C150.3 48.9 151.4 49.6 152.5 50.3 C153.6 51.0 154.7 51.7 155.8 52.5 C156.8 53.2 157.8 54.1 158.8 55.0 C159.8 55.9 160.8 56.8 161.7 57.7 C162.6 58.7 163.5 59.6 164.4 60.6 C165.3 61.6 166.1 62.7 166.9 63.7 C167.8 64.8 168.5 65.9 169.3 67.0 C170.2 68.0 171.3 69.0 172.2 70.0 C173.2 71.1 174.1 72.1 175.0 73.3 C175.9 74.4 176.7 75.5 177.6 76.7 C178.4 77.9 179.3 79.1 180.1 80.3 C180.9 81.5 181.7 82.8 182.5 84.1 C183.3 85.4 184.2 86.7 184.7 88.1 C185.2 89.4 185.7 90.9 185.6 92.4 C185.5 93.9 184.8 95.5 184.1 97.0 C183.5 98.5 182.8 100.0 181.6 101.4 C180.5 102.9 178.1 104.3 177.3 105.6 C176.5 106.9 176.9 108.2 176.7 109.5 C176.4 110.8 176.2 112.1 175.9 113.3 C175.6 114.6 175.1 115.8 174.9 117.1 C174.6 118.3 174.4 119.6 174.2 120.9 C173.9 122.1 173.8 123.4 173.5 124.7 C173.3 125.9 173.0 127.2 172.7 128.4 C172.4 129.7 172.0 131.0 171.6 132.2 C171.2 133.4 170.7 134.6 170.2 135.8 C169.7 137.0 169.1 138.1 168.5 139.3 C167.9 140.4 167.3 141.5 166.6 142.6 C166.0 143.8 165.3 144.9 164.6 145.9 C163.9 147.0 163.1 148.0 162.4 149.1 C161.6 150.1 160.8 151.1 159.9 152.0 C159.1 153.0 158.2 154.0 157.4 154.9 C156.5 155.8 155.6 156.7 154.6 157.6 C153.7 158.5 152.8 159.3 151.9 160.2 C150.9 161.0 149.9 161.8 148.9 162.6 C147.9 163.4 146.9 164.2 145.9 164.9 C144.9 165.6 143.8 166.3 142.8 167.0 C141.7 167.8 140.7 168.5 139.6 169.2 C138.6 169.9 137.5 170.6 136.4 171.3 C135.3 171.9 134.2 172.6 133.1 173.1 C131.9 173.7 130.7 174.0 129.5 174.4 C128.3 174.7 127.0 175.0 125.8 175.2 C124.5 175.5 123.3 175.7 122.0 175.8 C120.8 176.0 119.5 176.2 118.3 176.3 C117.0 176.3 115.8 176.3 114.5 176.2 C113.3 176.2 112.0 176.0 110.8 176.0 C109.5 175.9 108.3 175.9 107.1 175.9 C105.9 175.8 104.7 175.6 103.5 175.6 C102.3 175.6 101.1 175.8 99.9 175.9 C98.7 176.0 97.4 176.0 96.2 176.1 C95.0 176.1 93.8 176.0 92.5 176.0 C91.3 175.9 90.1 175.9 88.8 175.8 C87.6 175.7 86.3 175.6 85.1 175.4 C83.9 175.2 82.6 175.0 81.4 174.8 C80.1 174.6 78.9 174.3 77.6 174.1 C76.4 173.8 75.1 173.5 73.9 173.2 C72.6 172.9 71.4 172.6 70.1 172.2 C68.9 171.8 67.6 171.4 66.4 170.9 C65.2 170.4 64.1 169.6 63.0 169.0 C61.9 168.3 60.8 167.6 59.7 166.8 C58.7 166.1 57.6 165.3 56.7 164.3 C55.8 163.4 55.0 162.3 54.1 161.3 C53.3 160.3 52.4 159.3 51.8 158.2 C51.1 157.0 50.7 155.6 50.2 154.4 C49.7 153.1 49.3 151.8 48.9 150.5 C48.5 149.3 48.1 148.0 47.8 146.7 C47.5 145.4 47.3 144.1 47.2 142.8 C47.0 141.5 46.9 140.2 46.8 138.9 C46.7 137.6 46.7 136.3 46.6 135.1 C46.6 133.8 46.5 132.6 46.4 131.4 C46.3 130.3 46.0 129.2 45.9 128.1 C45.7 127.0 45.6 125.9 45.5 124.8 C45.4 123.7 45.4 122.5 45.3 121.5 C45.2 120.4 45.1 119.3 44.9 118.3 C44.7 117.2 44.2 116.2 43.9 115.2 C43.6 114.2 43.3 113.1 43.1 112.1 C42.8 111.0 42.6 109.9 42.4 108.9 C42.2 107.8 42.0 106.7 41.9 105.6 C41.8 104.5 41.9 103.4 41.9 102.3 C41.9 101.2 41.9 100.1 42.0 99.0 C42.1 97.9 42.2 96.9 42.3 95.8 C42.4 94.7 42.6 93.6 42.6 92.5 C42.7 91.3 42.7 90.2 42.7 89.1 C42.8 87.9 42.9 86.8 43.0 85.6 C43.2 84.5 43.4 83.4 43.5 82.2 C43.6 81.0 43.5 79.7 43.6 78.5 C43.6 77.2 43.7 76.0 43.8 74.7 C44.0 73.4 44.2 72.2 44.4 70.9 C44.6 69.7 44.9 68.4 45.2 67.1 C45.5 65.8 45.8 64.5 46.1 63.2 C46.5 61.9 46.9 60.7 47.3 59.3 C47.7 58.0 48.1 56.7 48.6 55.3 C49.0 54.0 49.5 52.6 50.1 51.3 C50.7 50.1 51.6 49.0 52.4 47.9 C53.2 46.8 54.1 45.7 54.9 44.6 C55.8 43.5 56.6 42.4 57.5 41.3 C58.4 40.2 59.3 39.1 60.3 38.0 C61.3 37.0 62.4 36.1 63.4 35.0 C64.4 34.0 65.4 32.8 66.5 31.8 C67.6 30.8 68.8 30.0 70.0 29.1 C71.2 28.2 72.4 27.4 73.6 26.4 C74.8 25.4 76.0 24.3 77.2 23.4 C78.5 22.4 79.8 21.6 81.1 20.7 C82.5 19.9 83.8 19.0 85.2 18.3 C86.7 17.6 88.1 17.0 89.6 16.5 C91.1 15.9 92.6 15.2 94.1 14.8 C95.6 14.5 97.2 14.3 98.8 14.1 C100.3 13.9 101.9 13.6 103.5 13.6Z" fill="#3574bc"/><path d="M103.5 15.4 C105.0 15.4 106.6 15.6 108.1 15.7 C109.7 15.9 111.2 16.1 112.7 16.3 C114.3 16.5 115.8 16.8 117.3 17.1 C118.8 17.5 120.3 17.9 121.7 18.4 C123.2 18.9 124.6 19.5 126.1 20.1 C127.5 20.6 129.0 21.1 130.3 21.9 C131.6 22.8 133.0 23.5 133.9 25.1 C134.8 26.7 135.6 29.0 135.9 31.6 C136.3 34.2 135.5 38.8 136.0 40.7 C136.6 42.6 138.1 42.2 139.1 43.0 C140.1 43.7 141.0 44.6 142.0 45.4 C143.0 46.1 143.9 46.9 145.0 47.6 C146.0 48.3 147.2 48.8 148.3 49.4 C149.4 50.1 150.4 50.7 151.5 51.4 C152.6 52.1 153.6 52.8 154.6 53.6 C155.7 54.4 156.6 55.3 157.6 56.1 C158.5 57.0 159.5 57.9 160.4 58.8 C161.3 59.7 162.2 60.7 163.0 61.7 C163.9 62.6 164.7 63.7 165.5 64.7 C166.3 65.7 167.0 66.8 167.8 67.8 C168.7 68.9 169.7 69.8 170.6 70.8 C171.5 71.9 172.4 72.9 173.3 74.0 C174.1 75.1 174.9 76.3 175.8 77.4 C176.6 78.6 177.4 79.7 178.2 80.9 C179.0 82.1 179.8 83.4 180.6 84.6 C181.3 85.9 182.3 87.1 182.8 88.5 C183.3 89.8 183.8 91.2 183.7 92.7 C183.6 94.1 182.9 95.7 182.2 97.2 C181.5 98.7 180.8 100.1 179.7 101.5 C178.5 102.9 176.2 104.3 175.3 105.6 C174.5 106.9 174.9 108.1 174.6 109.4 C174.4 110.6 174.1 111.9 173.8 113.1 C173.4 114.3 173.0 115.5 172.7 116.7 C172.4 118.0 172.2 119.2 171.9 120.4 C171.7 121.6 171.5 122.8 171.2 124.0 C170.9 125.2 170.6 126.4 170.3 127.6 C169.9 128.8 169.6 130.0 169.1 131.2 C168.7 132.4 168.2 133.5 167.7 134.7 C167.2 135.8 166.6 136.9 166.0 138.0 C165.4 139.1 164.8 140.1 164.2 141.2 C163.5 142.3 162.9 143.3 162.2 144.3 C161.5 145.3 160.7 146.3 160.0 147.3 C159.2 148.3 158.4 149.2 157.6 150.2 C156.8 151.1 156.0 152.0 155.2 152.9 C154.3 153.8 153.4 154.6 152.6 155.5 C151.7 156.3 150.8 157.2 149.9 158.0 C149.0 158.8 148.1 159.6 147.2 160.4 C146.2 161.2 145.3 161.9 144.3 162.6 C143.3 163.4 142.3 164.0 141.3 164.7 C140.3 165.5 139.4 166.3 138.4 167.0 C137.4 167.8 136.4 168.5 135.4 169.2 C134.4 169.9 133.4 170.7 132.3 171.2 C131.2 171.8 130.0 172.1 128.8 172.5 C127.6 172.8 126.3 173.0 125.1 173.2 C123.9 173.4 122.7 173.6 121.5 173.7 C120.3 173.9 119.0 174.0 117.8 174.1 C116.6 174.1 115.4 174.1 114.2 174.0 C112.9 173.9 111.7 173.8 110.5 173.7 C109.4 173.6 108.2 173.6 107.0 173.5 C105.8 173.4 104.7 173.1 103.5 173.1 C102.3 173.1 101.2 173.4 100.0 173.5 C98.8 173.5 97.6 173.6 96.5 173.6 C95.3 173.6 94.1 173.6 92.9 173.6 C91.7 173.6 90.5 173.5 89.3 173.5 C88.1 173.4 86.9 173.3 85.7 173.2 C84.5 173.1 83.2 172.9 82.0 172.7 C80.8 172.6 79.6 172.3 78.4 172.1 C77.1 171.9 75.9 171.7 74.7 171.4 C73.5 171.1 72.2 170.8 71.0 170.4 C69.8 170.1 68.5 169.8 67.3 169.3 C66.2 168.7 65.1 168.0 64.0 167.4 C62.9 166.8 61.8 166.1 60.8 165.4 C59.7 164.6 58.7 163.8 57.8 162.9 C56.9 162.0 56.1 161.0 55.3 160.0 C54.5 158.9 53.7 158.0 53.1 156.9 C52.4 155.7 52.0 154.4 51.5 153.2 C51.0 152.0 50.5 150.8 50.1 149.5 C49.7 148.3 49.2 147.1 49.0 145.9 C48.7 144.6 48.6 143.2 48.4 141.9 C48.3 140.6 48.2 139.4 48.1 138.1 C48.1 136.8 48.1 135.5 48.1 134.3 C48.1 133.1 48.1 131.9 48.0 130.7 C47.9 129.6 47.6 128.5 47.5 127.5 C47.3 126.4 47.2 125.3 47.1 124.2 C47.0 123.1 47.0 122.1 46.9 121.0 C46.9 119.9 46.8 118.9 46.6 117.9 C46.4 116.9 46.0 115.9 45.7 114.9 C45.4 113.9 45.2 112.9 45.0 111.9 C44.8 110.8 44.6 109.8 44.4 108.7 C44.2 107.7 44.0 106.7 44.0 105.6 C43.9 104.5 43.9 103.5 43.9 102.4 C43.9 101.4 44.0 100.3 44.0 99.2 C44.1 98.2 44.2 97.1 44.3 96.1 C44.4 95.0 44.5 94.0 44.5 92.9 C44.6 91.8 44.5 90.7 44.6 89.6 C44.6 88.4 44.7 87.3 44.8 86.2 C44.9 85.1 45.1 84.0 45.2 82.8 C45.2 81.7 44.9 80.3 44.9 79.1 C44.8 77.8 44.8 76.5 44.8 75.2 C44.9 73.9 45.0 72.6 45.1 71.3 C45.3 70.1 45.5 68.8 45.7 67.5 C46.0 66.2 46.3 64.9 46.6 63.6 C46.9 62.3 47.3 61.0 47.7 59.7 C48.1 58.4 48.5 57.0 49.0 55.7 C49.5 54.4 50.0 53.1 50.6 51.9 C51.3 50.6 52.1 49.6 52.9 48.5 C53.7 47.4 54.5 46.3 55.4 45.2 C56.2 44.1 57.1 43.0 58.0 41.9 C58.8 40.8 59.8 39.7 60.8 38.7 C61.8 37.7 62.8 36.9 63.9 35.9 C64.9 34.9 65.9 33.8 67.0 32.9 C68.1 31.9 69.3 31.1 70.5 30.2 C71.7 29.4 72.9 28.5 74.1 27.6 C75.3 26.7 76.4 25.7 77.7 24.8 C78.9 23.9 80.2 23.1 81.5 22.3 C82.9 21.5 84.2 20.7 85.6 20.0 C87.0 19.3 88.4 18.8 89.9 18.2 C91.3 17.6 92.8 17.0 94.3 16.6 C95.8 16.2 97.3 16.1 98.9 15.9 C100.4 15.7 102.0 15.4 103.5 15.4Z" fill="#4c93d1"/><path d="M103.5 20.1 C105.0 20.0 106.4 20.1 107.9 20.2 C109.4 20.2 110.8 20.3 112.3 20.5 C113.8 20.6 115.2 20.8 116.7 21.0 C118.1 21.2 119.6 21.5 121.0 21.9 C122.4 22.2 123.9 22.6 125.3 23.1 C126.7 23.5 128.2 23.7 129.4 24.5 C130.7 25.2 132.0 26.1 132.9 27.6 C133.9 29.2 134.6 31.3 135.0 33.7 C135.4 36.0 134.9 40.2 135.4 41.9 C136.0 43.7 137.5 43.4 138.4 44.1 C139.4 44.9 140.3 45.7 141.3 46.5 C142.2 47.3 143.2 48.0 144.2 48.7 C145.2 49.4 146.3 49.9 147.3 50.6 C148.4 51.3 149.4 51.9 150.4 52.7 C151.4 53.4 152.4 54.1 153.4 54.9 C154.4 55.7 155.3 56.5 156.2 57.3 C157.2 58.2 158.1 59.0 159.0 59.9 C159.9 60.8 160.7 61.8 161.6 62.7 C162.4 63.7 163.2 64.7 164.0 65.7 C164.8 66.7 165.5 67.7 166.3 68.7 C167.1 69.8 168.1 70.7 168.9 71.7 C169.8 72.7 170.6 73.8 171.4 74.9 C172.2 76.0 173.0 77.1 173.7 78.2 C174.5 79.3 175.2 80.5 175.9 81.7 C176.6 82.9 177.3 84.1 178.0 85.3 C178.6 86.6 179.4 87.8 179.8 89.1 C180.3 90.4 180.7 91.8 180.7 93.2 C180.7 94.6 180.2 96.1 179.7 97.5 C179.2 98.9 178.6 100.3 177.7 101.6 C176.7 103.0 174.7 104.3 174.0 105.6 C173.3 106.9 173.5 108.1 173.3 109.3 C173.0 110.5 172.7 111.8 172.3 112.9 C172.0 114.1 171.5 115.3 171.2 116.5 C170.9 117.7 170.6 118.9 170.3 120.0 C170.0 121.2 169.7 122.4 169.4 123.5 C169.1 124.7 168.7 125.9 168.4 127.0 C168.0 128.2 167.6 129.3 167.1 130.4 C166.7 131.5 166.2 132.6 165.7 133.7 C165.2 134.8 164.6 135.9 164.0 137.0 C163.5 138.0 162.9 139.0 162.3 140.1 C161.6 141.1 161.0 142.1 160.3 143.1 C159.6 144.1 158.9 145.0 158.2 146.0 C157.5 147.0 156.8 147.9 156.1 148.9 C155.3 149.8 154.5 150.7 153.7 151.6 C153.0 152.5 152.1 153.3 151.3 154.2 C150.5 155.0 149.6 155.8 148.7 156.6 C147.8 157.4 146.9 158.2 146.0 158.9 C145.0 159.6 144.1 160.4 143.1 161.0 C142.2 161.7 141.1 162.3 140.2 163.0 C139.2 163.7 138.4 164.6 137.4 165.3 C136.5 166.1 135.5 166.8 134.6 167.5 C133.6 168.2 132.6 169.0 131.5 169.6 C130.5 170.1 129.3 170.4 128.1 170.7 C126.9 171.0 125.7 171.1 124.5 171.3 C123.3 171.5 122.1 171.6 120.9 171.7 C119.7 171.8 118.6 171.9 117.4 171.9 C116.2 171.8 115.0 171.7 113.8 171.6 C112.6 171.4 111.4 171.2 110.3 171.0 C109.1 170.9 108.0 170.9 106.9 170.7 C105.7 170.6 104.6 170.3 103.5 170.3 C102.4 170.3 101.3 170.6 100.1 170.7 C99.0 170.8 97.9 170.8 96.7 170.9 C95.6 170.9 94.5 170.9 93.3 170.9 C92.2 170.9 91.0 170.9 89.8 170.9 C88.7 170.9 87.5 170.8 86.3 170.7 C85.2 170.6 84.0 170.5 82.8 170.3 C81.6 170.2 80.4 170.0 79.3 169.8 C78.1 169.6 76.9 169.3 75.7 169.0 C74.5 168.7 73.4 168.4 72.2 168.1 C71.0 167.7 69.8 167.4 68.7 166.9 C67.5 166.4 66.5 165.8 65.5 165.1 C64.4 164.5 63.3 163.9 62.3 163.2 C61.3 162.5 60.3 161.7 59.4 160.9 C58.5 160.1 57.8 159.1 56.9 158.1 C56.1 157.2 55.3 156.3 54.6 155.3 C54.0 154.2 53.5 153.0 52.9 151.9 C52.4 150.7 51.9 149.6 51.5 148.4 C51.0 147.3 50.5 146.2 50.2 144.9 C49.9 143.7 49.9 142.3 49.8 141.0 C49.7 139.7 49.7 138.4 49.7 137.2 C49.7 135.9 49.8 134.6 49.8 133.4 C49.8 132.2 49.9 131.0 49.8 129.9 C49.7 128.8 49.4 127.8 49.3 126.8 C49.1 125.7 49.0 124.7 48.9 123.6 C48.8 122.6 48.8 121.5 48.7 120.5 C48.6 119.5 48.5 118.5 48.3 117.5 C48.1 116.5 47.7 115.6 47.4 114.6 C47.2 113.6 46.9 112.7 46.7 111.7 C46.5 110.7 46.3 109.7 46.1 108.7 C46.0 107.6 45.8 106.6 45.7 105.6 C45.6 104.6 45.6 103.5 45.7 102.5 C45.7 101.5 45.7 100.5 45.8 99.4 C45.8 98.4 46.0 97.4 46.0 96.4 C46.1 95.3 46.2 94.3 46.3 93.2 C46.3 92.2 46.2 91.1 46.2 90.0 C46.2 88.9 46.2 87.8 46.3 86.7 C46.4 85.6 46.7 84.6 46.6 83.4 C46.6 82.2 46.1 80.9 45.9 79.6 C45.8 78.3 45.6 76.9 45.5 75.6 C45.5 74.3 45.5 73.0 45.6 71.6 C45.7 70.3 45.9 69.0 46.1 67.7 C46.3 66.4 46.6 65.1 46.9 63.8 C47.2 62.5 47.6 61.2 48.0 59.9 C48.4 58.7 48.9 57.4 49.4 56.1 C49.9 54.9 50.4 53.5 51.1 52.3 C51.7 51.1 52.6 50.1 53.3 49.0 C54.1 47.9 54.9 46.8 55.8 45.7 C56.6 44.7 57.5 43.6 58.4 42.5 C59.3 41.5 60.3 40.4 61.2 39.5 C62.2 38.5 63.3 37.6 64.3 36.7 C65.4 35.7 66.4 34.7 67.5 33.8 C68.6 32.9 69.8 32.2 71.0 31.4 C72.2 30.6 73.4 29.8 74.6 29.0 C75.8 28.3 77.0 27.4 78.3 26.7 C79.6 26.0 80.9 25.4 82.2 24.8 C83.5 24.2 84.9 23.6 86.2 23.1 C87.6 22.6 89.0 22.2 90.4 21.9 C91.9 21.5 93.3 21.1 94.7 20.8 C96.2 20.6 97.6 20.5 99.1 20.3 C100.6 20.2 102.0 20.1 103.5 20.1Z" fill="#62abdf"/><path d="M103.5 25.8 C104.9 25.8 106.2 25.6 107.6 25.5 C109.0 25.5 110.4 25.5 111.8 25.5 C113.2 25.5 114.6 25.6 115.9 25.7 C117.3 25.8 118.7 26.0 120.1 26.1 C121.5 26.3 122.9 26.5 124.3 26.8 C125.7 27.0 127.2 27.0 128.4 27.6 C129.7 28.3 130.9 29.3 131.8 30.7 C132.7 32.2 133.4 34.1 133.9 36.2 C134.4 38.3 134.1 41.8 134.7 43.4 C135.3 44.9 136.7 44.8 137.6 45.6 C138.6 46.3 139.5 47.1 140.4 47.9 C141.3 48.6 142.2 49.4 143.2 50.1 C144.1 50.8 145.2 51.4 146.2 52.1 C147.1 52.7 148.1 53.4 149.1 54.2 C150.0 54.9 150.9 55.7 151.9 56.5 C152.8 57.2 153.7 58.0 154.6 58.8 C155.5 59.6 156.4 60.5 157.3 61.3 C158.2 62.2 159.0 63.1 159.8 64.0 C160.6 64.9 161.4 65.9 162.2 66.9 C163.0 67.8 163.7 68.9 164.4 69.8 C165.2 70.8 166.1 71.8 166.8 72.8 C167.6 73.8 168.4 74.8 169.1 75.9 C169.9 77.0 170.6 78.1 171.2 79.2 C171.9 80.3 172.5 81.4 173.1 82.6 C173.7 83.8 174.3 85.0 174.8 86.2 C175.3 87.4 175.9 88.6 176.3 89.9 C176.6 91.1 177.0 92.4 177.0 93.8 C177.1 95.1 176.9 96.5 176.6 97.8 C176.3 99.1 175.9 100.5 175.2 101.8 C174.5 103.1 173.0 104.4 172.4 105.6 C171.8 106.8 171.9 108.0 171.5 109.2 C171.2 110.4 170.9 111.6 170.5 112.8 C170.2 113.9 169.7 115.1 169.3 116.2 C169.0 117.3 168.7 118.5 168.3 119.6 C168.0 120.7 167.6 121.9 167.3 123.0 C166.9 124.1 166.5 125.2 166.0 126.3 C165.6 127.3 165.1 128.4 164.7 129.5 C164.2 130.5 163.7 131.6 163.2 132.6 C162.7 133.7 162.2 134.7 161.6 135.7 C161.1 136.7 160.5 137.7 159.9 138.7 C159.3 139.7 158.7 140.6 158.0 141.6 C157.4 142.5 156.7 143.5 156.1 144.4 C155.4 145.4 154.8 146.3 154.1 147.3 C153.4 148.2 152.7 149.1 152.0 150.0 C151.3 150.9 150.6 151.8 149.8 152.6 C149.0 153.4 148.1 154.2 147.2 154.9 C146.3 155.7 145.4 156.4 144.5 157.1 C143.6 157.8 142.7 158.5 141.7 159.1 C140.8 159.7 139.8 160.3 138.9 161.0 C138.0 161.6 137.2 162.5 136.3 163.3 C135.4 164.0 134.5 164.8 133.5 165.5 C132.6 166.2 131.7 167.0 130.6 167.5 C129.6 168.1 128.4 168.3 127.3 168.6 C126.1 168.8 124.9 168.9 123.8 169.0 C122.6 169.1 121.4 169.1 120.3 169.2 C119.1 169.2 118.0 169.3 116.8 169.2 C115.6 169.1 114.5 168.8 113.3 168.6 C112.2 168.3 111.0 168.0 109.9 167.8 C108.8 167.6 107.8 167.5 106.7 167.4 C105.6 167.2 104.6 166.8 103.5 166.8 C102.4 166.8 101.4 167.1 100.3 167.3 C99.3 167.4 98.2 167.5 97.1 167.5 C96.0 167.6 94.9 167.6 93.8 167.6 C92.7 167.7 91.6 167.7 90.5 167.7 C89.4 167.7 88.3 167.7 87.1 167.7 C86.0 167.6 84.9 167.5 83.7 167.4 C82.6 167.3 81.5 167.1 80.3 166.9 C79.2 166.7 78.1 166.5 77.0 166.2 C75.8 165.9 74.7 165.6 73.6 165.2 C72.5 164.9 71.4 164.5 70.3 164.1 C69.2 163.6 68.2 163.0 67.2 162.4 C66.2 161.8 65.2 161.2 64.2 160.5 C63.3 159.8 62.3 159.2 61.4 158.4 C60.5 157.6 59.7 156.8 58.9 155.9 C58.1 155.1 57.2 154.3 56.5 153.3 C55.8 152.4 55.3 151.3 54.7 150.2 C54.2 149.2 53.7 148.1 53.2 147.0 C52.7 146.0 52.0 145.0 51.8 143.8 C51.5 142.6 51.6 141.2 51.5 139.9 C51.5 138.6 51.5 137.3 51.6 136.1 C51.7 134.8 51.8 133.5 51.9 132.3 C52.0 131.1 52.1 130.0 52.0 128.9 C51.9 127.8 51.6 126.9 51.4 125.9 C51.3 124.9 51.2 123.9 51.1 122.9 C51.0 121.9 50.9 120.9 50.8 119.9 C50.7 119.0 50.7 118.0 50.4 117.1 C50.2 116.1 49.8 115.2 49.6 114.3 C49.3 113.3 49.1 112.4 48.8 111.4 C48.6 110.5 48.4 109.5 48.2 108.5 C48.1 107.6 47.9 106.6 47.8 105.6 C47.7 104.6 47.8 103.6 47.8 102.6 C47.8 101.6 47.8 100.7 47.9 99.7 C48.0 98.7 48.1 97.7 48.2 96.7 C48.2 95.7 48.3 94.7 48.3 93.7 C48.4 92.7 48.2 91.6 48.2 90.5 C48.2 89.5 48.2 88.4 48.2 87.3 C48.2 86.3 48.5 85.3 48.4 84.1 C48.2 82.9 47.6 81.5 47.3 80.1 C46.9 78.8 46.6 77.4 46.4 76.0 C46.2 74.7 46.2 73.3 46.2 72.0 C46.3 70.7 46.4 69.3 46.6 68.0 C46.7 66.7 47.0 65.4 47.3 64.1 C47.6 62.8 48.0 61.5 48.4 60.3 C48.9 59.0 49.4 57.8 49.9 56.6 C50.5 55.4 51.0 54.1 51.7 52.9 C52.3 51.8 53.1 50.7 53.9 49.6 C54.7 48.5 55.5 47.4 56.3 46.4 C57.2 45.3 58.0 44.3 59.0 43.3 C59.9 42.3 60.8 41.3 61.8 40.4 C62.8 39.4 63.8 38.5 64.9 37.6 C65.9 36.7 67.0 35.8 68.1 35.0 C69.2 34.2 70.4 33.4 71.6 32.7 C72.8 32.0 74.0 31.4 75.2 30.8 C76.5 30.1 77.7 29.5 79.0 29.0 C80.3 28.6 81.7 28.2 83.0 27.8 C84.3 27.5 85.7 27.1 87.0 26.9 C88.4 26.6 89.8 26.5 91.1 26.3 C92.5 26.2 93.9 26.1 95.3 26.0 C96.6 26.0 98.0 25.8 99.4 25.8 C100.8 25.8 102.1 25.8 103.5 25.8Z" fill="#7ec3e9"/><path d="M101.0 40.0 C101.2 39.1 102.7 37.3 104.0 36.5 C105.3 35.7 107.3 35.4 109.0 35.4 C110.7 35.4 112.8 35.8 114.0 36.5 C115.2 37.2 116.4 38.6 116.4 39.5 C116.4 40.4 115.4 41.5 114.0 42.0 C112.6 42.5 109.8 42.6 108.0 42.6 C106.2 42.6 104.2 42.4 103.0 42.0 C101.8 41.6 100.8 40.9 101.0 40.0Z" fill="#62abdf"/><path d="M103.5 42.1 C104.6 42.1 105.7 41.8 106.8 41.7 C107.9 41.6 109.0 41.6 110.1 41.6 C111.2 41.5 112.4 41.6 113.5 41.5 C114.6 41.5 115.8 41.5 116.9 41.5 C118.0 41.5 119.2 41.5 120.4 41.6 C121.5 41.7 122.7 41.7 123.9 41.9 C125.0 42.0 126.3 42.1 127.3 42.5 C128.4 42.9 129.5 43.5 130.3 44.4 C131.2 45.3 131.7 46.9 132.5 47.7 C133.4 48.6 134.4 48.9 135.4 49.5 C136.3 50.1 137.2 50.8 138.1 51.4 C139.0 52.1 139.9 52.7 140.8 53.4 C141.7 54.0 142.7 54.6 143.6 55.3 C144.5 56.0 145.3 56.7 146.2 57.4 C147.1 58.1 147.8 59.0 148.7 59.6 C149.6 60.3 150.7 60.9 151.7 61.5 C152.6 62.2 153.7 62.8 154.5 63.6 C155.4 64.4 156.1 65.3 156.8 66.2 C157.5 67.1 158.2 68.1 158.8 69.1 C159.4 70.1 160.0 71.1 160.6 72.1 C161.2 73.1 162.0 74.0 162.6 75.0 C163.3 76.0 163.9 77.0 164.5 78.0 C165.1 79.0 165.7 80.0 166.3 81.1 C166.8 82.2 167.3 83.3 167.8 84.4 C168.3 85.5 168.7 86.6 169.1 87.7 C169.5 88.9 170.0 90.0 170.3 91.2 C170.6 92.3 170.9 93.5 171.0 94.7 C171.2 95.9 171.2 97.2 171.2 98.4 C171.2 99.6 171.2 100.8 170.9 102.0 C170.7 103.2 170.2 104.4 169.9 105.6 C169.7 106.8 169.6 107.9 169.4 109.1 C169.2 110.3 168.9 111.4 168.7 112.6 C168.4 113.7 168.1 114.8 167.8 115.9 C167.5 117.1 167.2 118.2 166.9 119.3 C166.5 120.4 166.2 121.5 165.8 122.6 C165.5 123.7 165.1 124.7 164.6 125.8 C164.2 126.8 163.8 127.9 163.3 128.9 C162.8 130.0 162.4 131.0 161.9 132.0 C161.4 133.0 160.9 134.0 160.3 135.0 C159.8 136.0 159.2 137.0 158.6 137.9 C158.0 138.9 157.4 139.8 156.8 140.8 C156.2 141.7 155.5 142.6 154.9 143.6 C154.3 144.5 153.7 145.5 153.1 146.4 C152.4 147.3 151.8 148.2 151.1 149.1 C150.4 150.0 149.7 151.0 148.9 151.8 C148.1 152.6 147.2 153.2 146.3 153.9 C145.4 154.6 144.5 155.2 143.5 155.8 C142.6 156.5 141.7 157.1 140.7 157.6 C139.7 158.2 138.7 158.7 137.8 159.3 C136.9 159.9 136.0 160.6 135.1 161.2 C134.1 161.8 133.2 162.3 132.2 162.9 C131.3 163.4 130.3 164.1 129.3 164.5 C128.3 164.8 127.1 165.0 126.0 165.1 C124.8 165.1 123.6 165.0 122.5 165.0 C121.3 164.9 120.2 164.9 119.1 164.7 C118.0 164.6 116.9 164.6 115.8 164.3 C114.7 164.0 113.5 163.5 112.5 163.1 C111.4 162.7 110.3 162.1 109.3 161.8 C108.3 161.4 107.3 161.3 106.4 161.1 C105.4 160.8 104.4 160.3 103.5 160.2 C102.6 160.1 101.6 160.5 100.7 160.5 C99.7 160.6 98.8 160.7 97.8 160.7 C96.8 160.8 95.9 160.8 94.9 160.8 C93.9 160.8 92.9 160.8 91.9 160.9 C90.9 160.9 89.9 160.9 88.9 160.9 C87.9 160.9 86.9 160.8 85.9 160.8 C84.8 160.7 83.8 160.6 82.8 160.4 C81.8 160.2 80.8 160.0 79.8 159.8 C78.8 159.5 77.7 159.3 76.7 159.0 C75.7 158.7 74.7 158.4 73.7 158.0 C72.8 157.6 71.9 156.9 71.1 156.3 C70.2 155.8 69.3 155.2 68.5 154.5 C67.7 153.9 66.9 153.3 66.1 152.6 C65.3 151.9 64.6 151.1 63.9 150.3 C63.1 149.6 62.4 148.8 61.8 148.0 C61.1 147.2 60.4 146.4 59.7 145.6 C59.1 144.8 58.5 144.0 57.9 143.1 C57.3 142.3 56.5 141.6 56.1 140.6 C55.8 139.6 55.8 138.3 55.6 137.2 C55.5 136.1 55.4 135.0 55.4 133.9 C55.3 132.7 55.3 131.6 55.3 130.6 C55.2 129.5 55.2 128.5 55.1 127.5 C54.9 126.5 54.6 125.7 54.4 124.8 C54.1 123.9 53.9 122.9 53.8 122.0 C53.6 121.1 53.5 120.2 53.4 119.3 C53.2 118.3 53.1 117.4 52.8 116.6 C52.5 115.7 52.1 114.8 51.7 113.9 C51.4 113.0 51.1 112.1 50.8 111.2 C50.5 110.3 50.3 109.4 50.0 108.4 C49.8 107.5 49.5 106.6 49.4 105.6 C49.3 104.6 49.3 103.7 49.3 102.7 C49.3 101.8 49.4 100.8 49.4 99.8 C49.5 98.9 49.6 97.9 49.6 96.9 C49.7 96.0 49.8 95.0 49.8 94.0 C49.7 93.0 49.6 91.9 49.5 90.9 C49.4 89.9 49.4 88.8 49.4 87.7 C49.4 86.7 49.7 85.7 49.5 84.5 C49.3 83.3 48.5 81.9 48.1 80.6 C47.7 79.2 47.3 77.8 47.1 76.4 C46.8 75.0 46.8 73.7 46.7 72.3 C46.7 70.9 46.8 69.6 46.9 68.3 C47.1 66.9 47.4 65.7 47.7 64.4 C48.0 63.1 48.4 61.8 48.8 60.6 C49.3 59.4 49.9 58.2 50.4 57.1 C51.0 55.9 51.6 54.7 52.3 53.6 C53.0 52.4 53.8 51.4 54.6 50.4 C55.3 49.3 56.1 48.2 57.0 47.3 C57.9 46.3 58.8 45.4 59.8 44.5 C60.8 43.7 61.9 42.9 63.0 42.2 C64.0 41.4 65.2 40.8 66.4 40.2 C67.5 39.6 68.7 39.1 69.9 38.7 C71.2 38.2 72.4 37.8 73.7 37.5 C74.9 37.2 76.2 37.0 77.5 36.8 C78.8 36.7 80.1 36.6 81.5 36.7 C82.8 36.8 84.2 37.1 85.5 37.3 C86.8 37.5 88.1 37.8 89.4 38.1 C90.7 38.5 91.9 39.0 93.2 39.4 C94.4 39.9 95.6 40.6 96.8 41.0 C98.0 41.3 99.1 41.2 100.2 41.4 C101.3 41.6 102.4 42.1 103.5 42.1Z" fill="#9dd4f0"/><path d="M103.5 48.4 C104.5 48.4 105.5 48.4 106.5 48.4 C107.4 48.4 108.4 48.5 109.4 48.5 C110.4 48.6 111.4 48.7 112.3 48.8 C113.3 48.9 114.3 49.0 115.3 49.1 C116.3 49.2 117.3 49.3 118.3 49.5 C119.3 49.6 120.3 49.8 121.3 50.0 C122.3 50.1 123.4 50.0 124.4 50.1 C125.5 50.3 126.5 50.5 127.5 50.8 C128.5 51.1 129.4 51.7 130.3 52.1 C131.2 52.6 132.1 53.1 133.0 53.6 C133.9 54.2 134.8 54.7 135.7 55.3 C136.5 55.8 137.4 56.4 138.3 57.0 C139.1 57.5 140.0 58.1 140.9 58.7 C141.8 59.2 142.6 59.9 143.5 60.5 C144.3 61.1 145.0 61.9 145.9 62.5 C146.9 63.0 148.0 63.4 149.0 63.9 C150.1 64.4 151.2 64.9 152.1 65.6 C153.0 66.3 153.7 67.2 154.3 68.1 C155.0 68.9 155.5 69.9 156.1 70.9 C156.6 71.9 157.1 72.9 157.6 73.8 C158.1 74.8 158.6 75.8 159.0 76.8 C159.5 77.8 159.9 78.9 160.3 79.9 C160.7 80.9 161.1 82.0 161.4 83.0 C161.8 84.0 162.2 85.1 162.5 86.1 C162.9 87.2 163.2 88.2 163.5 89.3 C163.8 90.3 164.1 91.4 164.4 92.5 C164.7 93.5 164.9 94.6 165.3 95.7 C165.7 96.7 166.2 97.8 166.6 98.9 C166.9 100.0 167.3 101.1 167.5 102.2 C167.7 103.3 167.9 104.5 168.0 105.6 C168.0 106.7 167.8 107.9 167.7 109.0 C167.6 110.2 167.5 111.3 167.3 112.4 C167.1 113.5 167.0 114.7 166.7 115.8 C166.5 116.9 166.2 118.0 165.8 119.1 C165.5 120.1 165.1 121.2 164.7 122.3 C164.3 123.3 163.9 124.4 163.4 125.4 C162.9 126.4 162.4 127.4 161.9 128.4 C161.5 129.4 161.0 130.4 160.5 131.4 C160.0 132.4 159.5 133.4 159.0 134.3 C158.5 135.3 157.9 136.3 157.4 137.2 C156.8 138.1 156.2 139.0 155.6 140.0 C155.0 140.9 154.3 141.8 153.8 142.7 C153.2 143.6 152.7 144.6 152.1 145.6 C151.5 146.5 150.9 147.4 150.2 148.4 C149.6 149.3 149.0 150.3 148.2 151.1 C147.5 151.8 146.4 152.4 145.5 153.0 C144.6 153.6 143.6 154.2 142.7 154.8 C141.8 155.4 140.8 155.9 139.8 156.4 C138.9 156.9 137.9 157.4 136.9 157.8 C135.9 158.3 134.9 158.8 134.0 159.2 C133.0 159.6 132.0 160.0 131.0 160.4 C130.0 160.8 129.0 161.3 128.0 161.4 C126.9 161.6 125.8 161.6 124.6 161.5 C123.5 161.5 122.3 161.2 121.2 161.0 C120.1 160.8 119.0 160.6 117.9 160.3 C116.8 160.0 115.8 159.9 114.8 159.4 C113.7 158.9 112.6 158.1 111.6 157.5 C110.6 156.8 109.6 155.9 108.6 155.3 C107.7 154.8 106.9 154.6 106.0 154.2 C105.2 153.8 104.3 153.2 103.5 153.0 C102.7 152.8 101.9 153.2 101.0 153.3 C100.2 153.3 99.4 153.4 98.6 153.4 C97.7 153.4 96.9 153.4 96.1 153.4 C95.2 153.4 94.4 153.4 93.5 153.4 C92.6 153.4 91.8 153.4 90.9 153.4 C90.0 153.4 89.1 153.3 88.3 153.2 C87.4 153.2 86.5 153.0 85.6 152.9 C84.8 152.7 83.9 152.5 83.0 152.3 C82.2 152.1 81.3 151.8 80.5 151.5 C79.6 151.3 78.7 151.0 77.9 150.6 C77.1 150.3 76.3 149.8 75.5 149.4 C74.7 148.9 74.0 148.5 73.2 148.0 C72.5 147.5 71.7 146.9 71.0 146.3 C70.4 145.7 69.7 145.1 69.1 144.4 C68.5 143.7 68.0 143.0 67.3 142.4 C66.7 141.7 65.9 141.2 65.2 140.6 C64.5 140.0 63.9 139.4 63.2 138.7 C62.6 138.1 61.8 137.5 61.3 136.8 C60.8 136.0 60.6 135.0 60.3 134.1 C60.0 133.2 59.7 132.3 59.5 131.4 C59.2 130.5 59.1 129.6 58.8 128.7 C58.6 127.9 58.4 127.0 58.1 126.1 C57.9 125.3 57.5 124.5 57.3 123.6 C57.0 122.8 56.7 122.0 56.5 121.1 C56.3 120.3 56.1 119.4 55.9 118.6 C55.7 117.7 55.5 116.9 55.1 116.0 C54.8 115.2 54.3 114.4 53.9 113.6 C53.5 112.7 53.2 111.9 52.8 111.0 C52.5 110.1 52.2 109.3 51.9 108.3 C51.6 107.4 51.2 106.5 51.1 105.6 C50.9 104.7 51.0 103.7 50.9 102.8 C50.9 101.9 50.9 100.9 51.0 100.0 C51.0 99.1 51.1 98.1 51.1 97.2 C51.2 96.2 51.2 95.3 51.2 94.3 C51.1 93.3 50.8 92.3 50.7 91.2 C50.6 90.2 50.5 89.1 50.5 88.1 C50.4 87.0 50.7 86.1 50.4 84.9 C50.1 83.7 49.4 82.3 48.9 80.9 C48.5 79.5 48.0 78.1 47.7 76.7 C47.4 75.3 47.3 74.0 47.3 72.6 C47.2 71.2 47.2 69.8 47.3 68.5 C47.4 67.2 47.7 65.9 48.0 64.6 C48.3 63.4 48.7 62.1 49.2 60.9 C49.7 59.7 50.3 58.6 51.0 57.5 C51.6 56.4 52.2 55.3 52.9 54.2 C53.6 53.1 54.5 52.2 55.3 51.2 C56.1 50.2 56.9 49.1 57.8 48.2 C58.7 47.4 59.7 46.6 60.8 45.9 C61.8 45.1 63.0 44.5 64.1 44.0 C65.3 43.4 66.4 42.8 67.6 42.5 C68.9 42.1 70.2 42.0 71.6 41.9 C72.9 41.9 74.3 41.9 75.7 42.1 C77.1 42.3 78.5 42.7 79.9 43.2 C81.3 43.7 82.8 44.5 84.1 44.9 C85.4 45.4 86.6 45.7 87.8 46.1 C89.0 46.5 90.2 47.2 91.3 47.5 C92.5 47.8 93.5 47.7 94.5 47.9 C95.5 48.0 96.6 48.3 97.6 48.4 C98.6 48.5 99.6 48.3 100.5 48.3 C101.5 48.3 102.5 48.4 103.5 48.4Z" fill="#bde3f6"/><path d="M103.5 51.3 C104.4 51.3 105.4 51.3 106.3 51.3 C107.2 51.3 108.2 51.4 109.1 51.5 C110.0 51.6 111.0 51.7 111.9 51.8 C112.8 51.9 113.7 52.0 114.7 52.2 C115.6 52.3 116.5 52.5 117.5 52.7 C118.4 52.8 119.3 53.1 120.2 53.3 C121.2 53.5 122.2 53.5 123.1 53.7 C124.1 53.9 125.0 54.1 125.9 54.4 C126.8 54.8 127.7 55.2 128.6 55.6 C129.5 56.0 130.4 56.3 131.3 56.7 C132.2 57.1 133.0 57.5 133.9 58.0 C134.8 58.4 135.7 58.9 136.6 59.3 C137.5 59.8 138.4 60.2 139.2 60.7 C140.1 61.2 141.0 61.8 141.9 62.3 C142.7 62.9 143.4 63.5 144.4 64.0 C145.4 64.5 146.6 64.8 147.7 65.2 C148.7 65.6 150.0 66.0 150.9 66.6 C151.8 67.2 152.4 68.2 153.0 69.1 C153.5 70.0 153.9 71.1 154.3 72.1 C154.7 73.1 155.1 74.1 155.5 75.1 C155.9 76.1 156.2 77.1 156.6 78.1 C156.9 79.1 157.2 80.1 157.5 81.2 C157.8 82.2 158.0 83.2 158.3 84.2 C158.6 85.2 158.9 86.2 159.3 87.2 C159.6 88.2 160.0 89.1 160.3 90.1 C160.6 91.1 160.8 92.1 161.2 93.1 C161.5 94.1 161.8 95.1 162.2 96.1 C162.7 97.2 163.4 98.1 163.8 99.2 C164.3 100.2 164.8 101.2 165.1 102.3 C165.4 103.4 165.7 104.5 165.8 105.6 C165.9 106.7 165.9 107.8 165.9 108.9 C165.9 110.0 165.9 111.1 165.9 112.3 C165.8 113.4 165.8 114.5 165.6 115.6 C165.5 116.7 165.2 117.8 164.8 118.8 C164.5 119.9 164.1 121.0 163.7 122.0 C163.2 123.0 162.8 124.0 162.3 125.0 C161.9 126.0 161.3 127.0 160.9 128.0 C160.4 129.0 159.9 129.9 159.5 130.9 C159.0 131.9 158.5 132.9 158.0 133.8 C157.5 134.8 157.0 135.7 156.4 136.7 C155.9 137.6 155.3 138.5 154.7 139.4 C154.1 140.3 153.5 141.2 153.0 142.1 C152.4 143.1 151.9 144.1 151.4 145.0 C150.8 145.9 150.2 146.9 149.6 147.8 C149.0 148.7 148.5 149.7 147.7 150.5 C146.9 151.3 145.8 151.7 144.9 152.3 C144.0 152.9 143.0 153.5 142.0 154.0 C141.1 154.5 140.1 155.0 139.1 155.5 C138.2 155.9 137.2 156.4 136.2 156.8 C135.2 157.1 134.1 157.4 133.1 157.6 C132.0 157.9 131.0 158.1 129.9 158.3 C128.9 158.5 127.9 158.8 126.8 158.9 C125.8 158.9 124.6 158.8 123.5 158.6 C122.4 158.5 121.3 158.2 120.2 158.0 C119.2 157.7 118.1 157.4 117.1 157.1 C116.0 156.7 115.1 156.9 114.0 156.0 C113.0 155.1 111.7 153.2 110.7 151.8 C109.7 150.3 108.7 148.4 107.8 147.4 C107.0 146.3 106.3 146.2 105.6 145.5 C104.8 144.9 104.2 143.9 103.5 143.6 C102.8 143.3 102.2 143.8 101.5 143.8 C100.9 143.9 100.2 144.0 99.5 144.0 C98.9 144.0 98.2 144.0 97.5 144.0 C96.8 144.0 96.1 144.1 95.4 144.1 C94.7 144.2 94.0 144.2 93.3 144.2 C92.6 144.2 91.9 144.2 91.2 144.2 C90.4 144.2 89.7 144.2 88.9 144.2 C88.2 144.1 87.4 144.2 86.6 144.2 C85.8 144.1 85.0 144.1 84.2 144.0 C83.5 143.9 82.6 143.9 81.9 143.7 C81.1 143.6 80.3 143.3 79.5 143.1 C78.7 142.9 77.9 142.7 77.2 142.4 C76.4 142.1 75.7 141.8 75.0 141.4 C74.3 141.0 73.7 140.5 73.0 140.0 C72.4 139.5 71.8 139.0 71.1 138.5 C70.5 138.0 69.9 137.5 69.3 136.9 C68.6 136.4 68.0 135.9 67.4 135.3 C66.8 134.7 66.2 134.2 65.7 133.5 C65.2 132.9 64.7 132.2 64.3 131.5 C63.9 130.8 63.4 130.1 63.0 129.4 C62.6 128.6 62.2 127.9 61.9 127.2 C61.5 126.4 61.1 125.7 60.8 124.9 C60.5 124.2 60.2 123.4 59.9 122.6 C59.6 121.8 59.3 121.1 59.0 120.3 C58.8 119.5 58.6 118.7 58.4 117.9 C58.1 117.1 57.9 116.3 57.5 115.5 C57.1 114.8 56.6 114.0 56.1 113.2 C55.7 112.4 55.3 111.6 54.9 110.8 C54.5 110.0 54.1 109.1 53.8 108.2 C53.5 107.4 53.0 106.5 52.8 105.6 C52.6 104.7 52.7 103.8 52.6 102.9 C52.6 102.0 52.6 101.1 52.6 100.2 C52.6 99.2 52.7 98.3 52.7 97.4 C52.6 96.5 52.7 95.6 52.5 94.6 C52.4 93.6 52.1 92.6 51.9 91.6 C51.8 90.5 51.6 89.5 51.5 88.4 C51.4 87.4 51.5 86.4 51.2 85.2 C50.9 84.0 50.1 82.6 49.6 81.2 C49.1 79.9 48.6 78.4 48.3 77.0 C48.0 75.6 47.8 74.2 47.7 72.9 C47.6 71.5 47.5 70.1 47.7 68.7 C47.8 67.4 48.1 66.2 48.4 64.9 C48.8 63.7 49.2 62.5 49.7 61.4 C50.3 60.2 51.0 59.2 51.7 58.2 C52.3 57.1 52.9 55.9 53.8 55.0 C54.6 54.2 55.9 53.7 57.0 53.1 C58.0 52.4 59.1 51.8 60.2 51.3 C61.4 50.8 62.6 50.4 63.9 50.1 C65.1 49.9 66.4 49.7 67.7 49.6 C69.0 49.6 70.3 49.4 71.8 49.7 C73.2 50.1 75.0 51.1 76.5 51.8 C78.0 52.5 79.5 53.2 80.8 53.8 C82.1 54.3 83.4 55.0 84.5 55.2 C85.5 55.4 86.4 55.3 87.3 55.0 C88.2 54.7 88.9 54.0 89.8 53.6 C90.6 53.1 91.5 52.6 92.4 52.3 C93.2 52.0 94.2 52.0 95.1 51.9 C96.1 51.8 97.0 51.7 97.9 51.6 C98.8 51.5 99.8 51.4 100.7 51.4 C101.6 51.3 102.6 51.3 103.5 51.3Z" fill="#dcf0fa"/><path d="M103.5 53.0 C104.4 53.0 105.3 53.0 106.2 53.1 C107.1 53.1 108.0 53.2 108.9 53.3 C109.8 53.4 110.7 53.5 111.6 53.6 C112.5 53.8 113.4 53.9 114.3 54.1 C115.2 54.2 116.1 54.4 117.0 54.6 C117.8 54.7 118.7 55.0 119.6 55.2 C120.5 55.4 121.5 55.5 122.4 55.7 C123.3 55.9 124.2 56.1 125.1 56.4 C125.9 56.7 126.8 57.0 127.7 57.3 C128.6 57.6 129.5 57.9 130.4 58.3 C131.3 58.6 132.2 59.0 133.1 59.3 C134.0 59.7 134.8 60.1 135.7 60.5 C136.6 60.9 137.5 61.4 138.4 61.8 C139.3 62.3 140.1 62.8 141.0 63.3 C141.9 63.8 142.6 64.4 143.6 64.9 C144.6 65.3 145.8 65.5 146.9 65.9 C148.0 66.3 149.3 66.5 150.2 67.1 C151.1 67.8 151.7 68.7 152.3 69.6 C152.8 70.5 153.1 71.6 153.5 72.6 C153.9 73.6 154.3 74.6 154.6 75.6 C154.9 76.6 155.2 77.7 155.4 78.7 C155.7 79.7 155.9 80.8 156.1 81.8 C156.3 82.8 156.3 83.9 156.6 84.9 C156.8 85.9 157.1 86.8 157.4 87.8 C157.7 88.8 158.1 89.7 158.4 90.7 C158.7 91.6 158.9 92.6 159.2 93.6 C159.6 94.5 159.9 95.5 160.4 96.4 C160.9 97.4 161.8 98.3 162.4 99.3 C163.0 100.3 163.5 101.3 163.9 102.4 C164.2 103.4 164.2 104.5 164.3 105.6 C164.4 106.7 164.6 107.8 164.6 108.9 C164.7 109.9 164.8 111.0 164.8 112.1 C164.8 113.2 164.9 114.4 164.8 115.5 C164.7 116.6 164.4 117.6 164.1 118.7 C163.7 119.7 163.3 120.8 162.9 121.8 C162.5 122.8 162.0 123.8 161.6 124.8 C161.1 125.8 160.6 126.7 160.1 127.7 C159.7 128.7 159.2 129.6 158.7 130.6 C158.3 131.6 157.8 132.5 157.3 133.5 C156.8 134.4 156.3 135.3 155.8 136.3 C155.2 137.2 154.6 138.1 154.0 139.0 C153.5 139.9 152.9 140.7 152.3 141.7 C151.8 142.6 151.3 143.6 150.8 144.5 C150.2 145.5 149.7 146.4 149.1 147.3 C148.5 148.2 148.0 149.3 147.2 150.0 C146.4 150.8 145.4 151.2 144.4 151.8 C143.5 152.4 142.6 152.9 141.6 153.4 C140.7 153.9 139.7 154.4 138.7 154.9 C137.8 155.3 136.9 155.9 135.8 156.2 C134.8 156.5 133.6 156.6 132.5 156.7 C131.4 156.8 130.4 157.0 129.3 157.0 C128.2 157.1 127.1 157.2 126.1 157.2 C125.0 157.1 123.9 157.1 122.9 156.9 C121.8 156.8 120.8 156.7 119.8 156.5 C118.7 156.3 117.7 156.1 116.7 155.8 C115.8 155.6 114.9 156.1 113.8 155.0 C112.8 153.9 111.4 151.2 110.3 149.3 C109.2 147.4 108.2 144.6 107.4 143.4 C106.6 142.1 106.0 142.3 105.4 141.8 C104.7 141.3 104.1 140.4 103.5 140.1 C102.9 139.8 102.3 140.2 101.7 140.2 C101.1 140.2 100.5 140.2 99.9 140.2 C99.3 140.2 98.7 140.1 98.1 140.1 C97.5 140.1 96.9 140.1 96.3 140.1 C95.7 140.1 95.0 140.1 94.4 140.1 C93.8 140.1 93.1 140.1 92.5 140.0 C91.8 140.0 91.2 140.0 90.5 140.0 C89.8 140.0 89.1 140.0 88.4 140.0 C87.7 140.0 87.0 140.0 86.3 140.0 C85.5 140.0 84.8 139.9 84.1 139.8 C83.3 139.7 82.6 139.6 81.8 139.5 C81.1 139.4 80.3 139.3 79.6 139.1 C78.8 138.9 78.1 138.7 77.4 138.4 C76.7 138.0 76.1 137.6 75.5 137.2 C74.8 136.8 74.2 136.4 73.6 136.0 C73.0 135.6 72.4 135.1 71.8 134.6 C71.2 134.1 70.7 133.6 70.1 133.1 C69.6 132.6 69.0 132.0 68.5 131.5 C67.9 130.9 67.5 130.3 67.0 129.7 C66.5 129.1 66.0 128.5 65.5 127.9 C65.1 127.2 64.6 126.6 64.2 125.9 C63.8 125.3 63.4 124.6 63.0 123.9 C62.6 123.3 62.2 122.6 61.9 121.8 C61.5 121.1 61.2 120.4 60.8 119.7 C60.5 119.0 60.3 118.2 59.9 117.5 C59.6 116.7 59.3 116.0 58.9 115.2 C58.5 114.5 58.0 113.8 57.6 113.0 C57.2 112.2 56.8 111.4 56.4 110.6 C56.0 109.8 55.6 109.0 55.3 108.2 C54.9 107.3 54.5 106.5 54.3 105.6 C54.1 104.7 54.1 103.8 54.0 103.0 C53.9 102.1 53.9 101.2 53.9 100.3 C53.9 99.4 53.9 98.5 53.9 97.6 C53.8 96.7 53.8 95.8 53.7 94.8 C53.5 93.9 53.1 92.8 52.9 91.8 C52.6 90.8 52.4 89.7 52.3 88.7 C52.1 87.6 52.2 86.7 51.9 85.5 C51.5 84.3 50.7 82.8 50.2 81.5 C49.6 80.1 49.1 78.6 48.7 77.2 C48.4 75.9 48.2 74.5 48.1 73.1 C48.0 71.7 47.8 70.2 48.0 69.0 C48.2 67.7 48.7 66.6 49.3 65.6 C49.8 64.5 50.5 63.5 51.3 62.6 C52.0 61.7 53.0 61.0 53.8 60.2 C54.7 59.4 55.3 58.2 56.5 57.9 C57.8 57.5 59.7 57.9 61.3 58.0 C62.8 58.0 64.2 57.9 65.9 58.4 C67.6 58.9 69.6 59.8 71.5 60.9 C73.4 61.9 75.5 63.4 77.4 64.8 C79.4 66.3 81.5 68.4 83.1 69.7 C84.6 70.9 85.8 71.8 86.8 72.3 C87.8 72.8 88.4 72.8 89.1 72.7 C89.8 72.7 90.3 72.6 90.8 72.0 C91.3 71.4 91.7 70.9 91.9 69.2 C92.1 67.5 91.8 64.4 92.0 62.0 C92.2 59.6 92.3 56.1 92.9 54.7 C93.4 53.4 94.6 54.2 95.5 54.0 C96.3 53.8 97.2 53.5 98.1 53.4 C99.0 53.2 99.9 53.2 100.8 53.1 C101.7 53.1 102.6 53.0 103.5 53.0Z" fill="#f0f8fd"/>
<path d="M46.3 66.6 L47.2 66.9 L47.5 71.6 L48.0 75.6 L52.0 77.1 L55.0 78.6 L58.0 80.1 L61.0 81.6 L64.0 83.6 L67.0 85.1 L70.0 86.1 L74.0 85.1 L78.0 84.1 L82.0 83.1 L85.0 82.1 L86.5 80.6 L87.0 77.6 L86.5 74.6 L87.5 71.6 L87.0 69.1 L89.0 67.1 L90.0 64.1 L92.0 61.1 L93.5 59.4 L95.0 57.6 L98.0 56.6 L101.0 55.6 L103.5 54.6 L107.0 55.1 L111.0 55.6 L115.0 55.6 L117.0 56.1 L120.0 58.1 L123.0 59.1 L126.0 60.1 L130.0 60.4 L134.0 61.1 L135.5 64.1 L139.0 64.6 L142.0 65.6 L145.0 66.6 L148.0 66.1 L151.0 67.1 L152.5 69.6 L153.5 72.6 L154.0 75.6 L154.5 78.6 L155.0 81.6 L155.5 84.6 L155.5 87.6 L155.0 90.1 L154.7 91.6 L155.5 93.6 L157.0 95.1 L158.5 96.1 L160.0 97.6 L162.0 99.6 L163.0 102.6 L162.5 105.6 L163.0 108.6 L163.5 111.6 L165.5 113.1 L164.5 115.6 L164.0 118.6 L163.0 121.1 L161.5 122.6 L160.0 124.6 L159.0 127.6 L159.5 130.1 L157.0 132.1 L155.5 133.6 L154.0 136.6 L152.5 139.6 L151.5 142.6 L149.5 144.6 L148.5 147.6 L146.0 149.6 L143.0 151.6 L140.0 153.1 L137.0 154.1 L136.0 155.6 L135.0 154.1 L132.0 154.1 L129.0 154.6 L125.0 155.1 L121.0 154.6 L117.0 154.1 L114.0 153.6 L111.5 152.1 L111.0 149.6 L112.0 147.1 L113.0 144.6 L114.0 142.1 L113.0 139.1 L111.5 136.9 L110.2 137.3 L106.8 137.1 L102.0 135.6 L97.7 134.7 L94.8 134.0 L93.0 134.6 L91.5 135.6 L89.5 135.6 L87.0 134.1 L85.0 135.1 L83.0 136.1 L80.5 135.1 L77.0 134.1 L74.5 133.1 L72.0 131.1 L70.0 128.6 L68.5 125.6 L68.0 122.6 L67.0 119.6 L66.5 116.1 L65.0 114.6 L61.0 116.1 L59.0 113.6 L58.5 109.6 L59.5 106.6 L60.5 103.6 L62.0 100.6 L61.0 99.1 L60.5 96.6 L59.0 94.6 L57.0 93.1 L55.0 91.6 L53.5 89.6 L53.0 87.1 L51.5 85.1 L49.5 83.1 L48.0 79.6 L47.0 76.6 L46.0 72.6Z" fill="#808080"/><path d="M70.5 86.1 L74.0 85.1 L78.0 84.1 L82.0 83.1 L85.0 82.1 L86.5 81.1 L87.0 83.6 L89.0 85.6 L90.0 88.6 L88.5 90.6 L87.0 92.6 L87.5 95.6 L86.0 96.6 L84.0 94.6 L82.5 97.6 L80.5 95.6 L78.5 99.1 L77.0 96.6 L75.5 99.1 L74.0 96.6 L72.0 97.1 L71.5 93.6 L71.0 89.6Z" fill="#c6c6c6"/><path d="M93.0 134.6 L94.8 134.0 L97.7 134.7 L102.0 135.6 L106.8 137.1 L110.2 137.3 L111.5 136.9 L111.1 135.4 L111.8 132.5 L111.1 129.6 L109.2 126.8 L106.8 124.4 L104.4 122.0 L102.0 120.0 L100.3 119.6 L99.8 121.0 L100.8 122.9 L98.6 123.4 L97.7 121.7 L97.2 123.4 L96.7 125.3 L95.5 123.4 L95.0 125.3 L95.8 126.8 L93.8 126.8 L91.9 125.8 L91.2 127.7 L92.4 129.6 L91.9 131.6 L91.4 133.5Z" fill="#c6c6c6"/><path d="M145.5 88.4 L150.0 87.9 L155.4 87.4 L155.2 89.8 L150.0 89.6 L147.0 89.6Z" fill="#c6c6c6"/><path d="M49.5 76.6 L53.0 77.6 L56.0 79.1 L59.0 80.8 L62.0 82.4 L65.0 84.1 L67.5 85.4 L66.0 85.8 L63.0 84.6 L60.0 83.6 L58.0 83.6 L55.0 82.1 L52.0 80.1 L50.0 78.6Z" fill="#c6c6c6"/><path d="M52.5 86.6 L56.0 87.6 L60.0 88.1 L62.5 89.6 L62.0 92.1 L60.0 93.1 L57.0 92.6 L54.0 90.6 L52.5 88.6Z" fill="#c6c6c6"/><path d="M87.0 69.1 L89.0 67.1 L90.0 68.1 L88.5 70.1Z" fill="#c6c6c6"/><path d="M101.0 55.6 L103.5 54.6 L106.0 55.1 L105.5 56.6 L102.0 56.9Z" fill="#c6c6c6"/><path d="M163.5 111.6 L165.5 113.1 L164.5 114.6 L163.0 113.6Z" fill="#c6c6c6"/><path d="M159.0 127.6 L159.5 130.1 L158.0 130.6 L157.8 128.1Z" fill="#c6c6c6"/><path d="M58.5 109.6 L59.0 113.6 L60.3 113.6 L59.9 109.6Z" fill="#c6c6c6"/><path d="M60.5 103.6 L62.0 100.6 L63.0 101.6 L61.7 104.6Z" fill="#c6c6c6"/><path d="M123.0 59.1 L126.0 60.1 L130.0 60.4 L129.5 61.4 L125.5 61.2 L123.0 60.2Z" fill="#c6c6c6"/><path d="M82.5 84.6 L85.0 83.6 L86.0 86.6 L85.0 89.6 L83.0 89.1 L82.0 86.6Z" fill="#808080"/><path d="M75.0 89.6 L77.0 89.1 L77.5 92.1 L76.0 93.1 L74.8 91.6Z" fill="#808080"/><path d="M56.0 89.1 L59.5 89.4 L60.0 91.4 L57.0 91.6 L55.5 90.6Z" fill="#808080"/><path d="M94.3 130.6 L96.2 130.6 L96.2 133.5 L94.5 133.3Z" fill="#808080"/><path d="M0.0 59.2 L1.6 59.2 L3.4 61.0 L5.2 64.6 L7.0 68.2 L10.0 70.0 L14.8 70.0 L19.0 68.6 L21.4 69.4 L20.8 72.4 L19.0 74.8 L16.0 77.2 L12.4 78.8 L7.6 78.4 L4.0 79.0 L0.0 78.4Z" fill="#808080"/><path d="M17.0 52.4 L18.3 51.8 L18.8 53.6 L18.2 56.1 L17.0 56.6Z" fill="#808080"/><path d="M48.5 30.0 L50.5 29.6 L50.6 30.6 L48.8 31.0Z" fill="#808080"/><path d="M45.3 68.1 L46.3 67.6 L46.6 70.6 L45.6 71.1Z" fill="#808080"/><path d="M42.0 63.1 L42.8 63.1 L42.8 64.6 L42.0 64.6Z" fill="#808080"/><path d="M42.2 68.6 L43.0 68.6 L43.0 70.6 L42.2 70.6Z" fill="#808080"/><path d="M189.5 65.6 L190.8 65.6 L190.8 67.6 L189.5 67.6Z" fill="#808080"/><path d="M198.0 27.1 L198.8 27.1 L198.8 27.9 L198.0 27.9Z" fill="#808080"/>
<g fill="none" stroke="#d6d6d6" stroke-width="0.60"><ellipse cx="103.5" cy="105.6" rx="12.3" ry="12.5"/><ellipse cx="103.5" cy="105.6" rx="25.1" ry="25.5"/><ellipse cx="103.5" cy="105.6" rx="38.0" ry="38.6"/><ellipse cx="103.5" cy="105.6" rx="51.2" ry="52.0"/><ellipse cx="103.5" cy="105.6" rx="64.5" ry="65.5"/><ellipse cx="103.5" cy="105.6" rx="77.0" ry="78.3"/><ellipse cx="103.5" cy="105.6" rx="90.1" ry="91.6"/><ellipse cx="103.5" cy="105.6" rx="103.3" ry="105.0"/><path d="M103.5 0.6 V210.6 M0.2 105.6 H206.8"/><path d="M112.2 96.8 L176.6 31.4"/><path d="M112.2 114.4 L176.6 179.8"/><path d="M94.8 114.4 L30.4 179.8"/><path d="M94.8 96.8 L30.4 31.4"/></g>
<text transform="translate(106.0 27.8) rotate(0)" text-anchor="middle" font-size="9.3" fill="#fff">0<tspan font-size="7.6" dy="-3.3">o</tspan><tspan font-size="9.3" dy="3.3"></tspan></text><text transform="translate(109.6 192.2) rotate(0)" text-anchor="middle" font-size="9.3" fill="#fff">180<tspan font-size="7.6" dy="-3.3">o</tspan><tspan font-size="9.3" dy="3.3"></tspan></text><text transform="translate(137.3 19.5) rotate(13)" text-anchor="middle" font-size="9.3" fill="#fff">55<tspan font-size="7.6" dy="-3.3">o</tspan><tspan font-size="9.3" dy="3.3">S</tspan></text><text transform="translate(129.8 45.2) rotate(9)" text-anchor="middle" font-size="9.3" fill="#fff">65<tspan font-size="7.6" dy="-3.3">o</tspan><tspan font-size="9.3" dy="3.3">S</tspan></text><text transform="translate(123.0 71.5) rotate(5)" text-anchor="middle" font-size="9.3" fill="#111" stroke="#111">75<tspan font-size="7.6" dy="-3.3">o</tspan><tspan font-size="9.3" dy="3.3">S</tspan></text><text transform="translate(116.0 95.8) rotate(0)" text-anchor="middle" font-size="9.3" fill="#111" stroke="#111">85<tspan font-size="7.6" dy="-3.3">o</tspan><tspan font-size="9.3" dy="3.3">S</tspan></text><text transform="translate(52.8 46.2) rotate(-45)" text-anchor="middle" font-size="9.3" fill="#fff">45<tspan font-size="7.6" dy="-3.3">o</tspan><tspan font-size="9.3" dy="3.3">W</tspan></text><text transform="translate(161.0 54.0) rotate(48)" text-anchor="middle" font-size="9.3" fill="#fff">45<tspan font-size="7.6" dy="-3.3">o</tspan><tspan font-size="9.3" dy="3.3">E</tspan></text><text transform="translate(49.0 170.5) rotate(43)" text-anchor="middle" font-size="9.3" fill="#fff">135<tspan font-size="7.6" dy="-3.3">o</tspan><tspan font-size="9.3" dy="3.3">W</tspan></text><text transform="translate(169.8 158.8) rotate(-45)" text-anchor="middle" font-size="9.3" fill="#fff">135<tspan font-size="7.6" dy="-3.3">o</tspan><tspan font-size="9.3" dy="3.3">E</tspan></text><text transform="translate(25.8 101.2) rotate(-90)" text-anchor="middle" font-size="9.3" fill="#fff">90<tspan font-size="7.6" dy="-3.3">o</tspan><tspan font-size="9.3" dy="3.3">W</tspan></text><text transform="translate(181.0 111.0) rotate(90)" text-anchor="middle" font-size="9.3" fill="#fff">90<tspan font-size="7.6" dy="-3.3">o</tspan><tspan font-size="9.3" dy="3.3">E</tspan></text><text x="109.0" y="110.3" text-anchor="middle" font-size="12.4" fill="#111" stroke="#111">SOSIM</text>
<text x="5" y="205.5" font-size="9.3" fill="#fff">(d)</text>
</g>
</g>
<g transform="translate(18.0 223.9)"><g clip-path="url(#pc)">
<rect width="207.4" height="211.4" fill="#fff"/>
<path d="M45.0 60.1 L45.6 58.8 L46.8 57.6 L48.0 56.1 L49.5 54.2 L50.0 53.9 L52.0 52.1 L53.7 50.7 L56.7 50.1 L58.0 49.1 L60.1 48.1 L61.5 46.6 L63.0 46.1 L64.2 45.3 L65.0 43.8 L66.0 42.1 L66.6 40.5 L67.0 40.2 L67.0 39.1 L67.4 38.8 L68.8 39.7 L69.0 40.1 L70.0 42.0 L70.6 43.4 L71.0 44.1 L72.2 44.9 L73.6 45.4 L75.0 45.1 L76.5 45.2 L76.5 46.0 L78.0 47.1 L80.0 48.0 L80.8 48.8 L82.0 50.1 L84.0 50.6 L85.8 51.6 L88.0 52.1 L90.1 53.0 L92.3 53.4 L94.0 53.1 L96.5 53.5 L98.2 52.0 L100.0 52.1 L102.5 52.1 L104.6 50.9 L106.0 50.1 L108.3 49.5 L110.5 49.8 L112.0 49.5 L112.7 48.4 L114.5 49.3 L115.0 48.1 L116.1 49.2 L118.2 48.9 L120.0 50.1 L121.7 51.5 L124.5 51.5 L126.0 53.1 L128.2 53.5 L130.3 54.9 L132.0 56.1 L134.5 57.8 L136.0 58.8 L138.0 59.1 L139.7 59.2 L142.1 59.8 L144.0 61.1 L145.6 61.6 L148.2 62.0 L150.0 63.1 L150.7 64.3 L152.4 65.1 L154.0 65.1 L155.6 67.3 L155.9 69.8 L157.0 72.1 L157.9 74.9 L158.4 77.6 L159.0 80.1 L160.6 82.1 L160.9 84.4 L162.0 86.1 L163.0 87.2 L165.3 88.8 L166.0 90.1 L167.1 91.4 L167.9 94.2 L169.0 96.1 L168.7 97.6 L169.9 98.2 L170.0 100.1 L169.8 102.1 L169.6 103.9 L169.0 106.1 L169.6 108.4 L169.0 109.5 L170.0 112.1 L170.6 114.4 L170.3 115.4 L171.0 117.1 L170.5 118.8 L169.5 120.8 L169.0 123.1 L168.2 125.2 L167.4 126.9 L167.0 129.1 L166.4 130.4 L165.1 133.4 L164.0 135.1 L162.4 136.4 L161.8 138.1 L160.0 140.1 L158.6 141.7 L158.3 142.9 L157.0 145.1 L155.1 146.5 L154.1 148.3 L152.0 150.1 L150.5 151.0 L147.8 153.0 L146.0 154.1 L144.5 155.4 L141.6 156.2 L140.0 158.1 L139.4 159.0 L139.1 161.2 L138.0 162.1 L135.6 163.1 L134.4 165.0 L132.0 166.1 L130.4 166.2 L127.5 166.5 L126.0 167.1 L124.4 167.1 L121.8 167.6 L120.0 168.0 L117.2 167.7 L115.3 167.3 L112.0 167.6 L109.3 167.7 L108.5 167.2 L106.0 166.0 L103.9 165.8 L102.6 163.9 L100.0 163.5 L97.7 162.6 L94.9 160.9 L92.0 159.5 L89.7 158.5 L87.6 157.3 L86.0 157.1 L84.8 155.8 L83.8 154.5 L82.0 154.1 L81.9 153.0 L81.3 152.0 L80.0 150.1 L79.6 149.2 L77.3 148.4 L77.0 147.1 L74.9 145.5 L73.9 144.5 L72.0 143.1 L70.2 142.7 L68.8 140.9 L67.0 140.1 L65.0 139.6 L63.6 138.5 L62.0 137.1 L60.5 135.3 L59.4 134.9 L58.0 133.1 L56.5 131.8 L56.6 130.2 L55.0 128.1 L54.5 125.4 L53.2 124.6 L52.0 122.1 L50.7 119.8 L50.3 118.1 L50.0 116.1 L48.9 113.7 L48.4 110.7 L47.0 109.1 L46.7 107.2 L47.1 105.8 L48.0 105.1 L49.3 103.3 L48.8 100.4 L50.0 98.1 L49.7 95.2 L49.8 93.0 L50.0 90.1 L49.8 89.2 L48.9 88.5 L49.0 88.1 L48.1 85.5 L48.6 82.6 L48.0 80.1 L46.7 76.3 L46.5 73.6 L46.0 70.1 L46.1 67.6 L45.8 65.6 L45.0 63.1 L44.9 61.9 L45.0 61.4Z" fill="#c8d4dc" /><rect x="82.0" y="172.0" width="5.0" height="2.0" fill="#c8d4dc"/><rect x="60.0" y="33.0" width="2.0" height="1.2" fill="#c8d4dc"/><rect x="64.0" y="31.0" width="1.5" height="1.0" fill="#c8d4dc"/><rect x="45.5" y="66.0" width="1.0" height="4.0" fill="#c8d4dc"/><rect x="119.0" y="170.0" width="1.2" height="1.0" fill="#c8d4dc"/><path d="M64.0 133.1 L67.1 132.9 L70.0 132.1 L74.4 134.1 L78.0 135.1 L82.3 135.9 L86.0 135.7 L90.4 135.4 L96.0 135.1 L102.5 135.8 L108.0 136.1 L109.0 138.6 L109.0 142.1 L104.5 142.8 L100.0 144.1 L95.1 144.7 L90.0 145.1 L84.4 145.3 L80.0 146.1 L76.7 145.1 L74.0 143.1 L71.3 140.7 L68.0 139.1 L66.4 135.7Z" fill="#edd1c9" /><path d="M46.0 106.0 L48.3 106.1 L50.0 105.5 L51.5 106.5 L53.0 108.0 L53.0 110.2 L54.0 112.0 L53.0 114.3 L52.0 116.0 L50.4 115.8 L49.0 115.0 L47.8 113.3 L47.0 111.0 L46.7 108.4Z" fill="#edd1c9" /><path d="M44.5 61.0 L45.1 59.5 L46.0 58.5 L47.1 58.7 L48.0 59.5 L47.5 61.1 L47.0 63.0 L46.4 65.0 L46.5 67.0 L45.4 66.4 L45.0 66.0 L44.4 63.2Z" fill="#edd1c9" /><path d="M47.0 78.0 L49.2 78.2 L52.0 77.5 L54.6 78.5 L58.0 79.0 L60.6 80.2 L64.0 82.0 L68.5 83.5 L72.0 85.5 L76.1 84.7 L80.0 84.0 L83.5 82.7 L87.0 81.5 L86.7 80.1 L87.0 78.0 L84.1 76.5 L82.0 75.5 L77.5 75.5 L74.0 76.0 L69.9 76.7 L66.0 76.6 L61.9 75.1 L58.0 74.3 L54.8 73.9 L52.0 72.6 L49.3 72.2 L47.5 71.5 L47.1 74.9Z" fill="#edd1c9" /><path d="M108.0 136.0 L110.0 135.4 L112.0 135.0 L112.2 138.3 L113.0 141.0 L111.1 143.0 L110.0 145.0 L108.8 143.7 L107.0 143.0 L107.5 139.6Z" fill="#edd1c9" /><path d="M153.0 86.0 L154.6 85.4 L156.0 85.0 L156.6 87.3 L157.0 90.0 L156.3 91.8 L155.0 93.0 L154.1 91.7 L153.0 91.0 L153.0 88.4Z" fill="#edd1c9" /><path d="M48.5 72.8 L50.7 73.3 L53.0 74.1 L54.8 75.1 L57.0 75.6 L58.5 76.2 L60.0 76.6 L62.0 77.0 L64.0 77.6 L66.1 77.9 L68.0 78.1 L70.7 77.9 L73.0 77.6 L75.2 77.3 L77.0 77.1 L78.3 76.6 L80.0 76.6 L82.1 76.9 L84.0 77.6 L85.1 78.7 L86.0 79.6 L85.7 81.2 L86.0 82.5 L83.7 83.7 L82.0 84.5 L79.2 85.3 L76.0 86.5 L73.1 86.9 L70.0 87.0 L66.8 85.6 L64.0 84.0 L60.8 82.5 L58.0 80.5 L55.1 79.3 L52.0 77.5 L49.7 76.5 L48.0 75.8 L48.3 74.4Z" fill="#d88d78" /><path d="M58.0 77.6 L62.0 78.6 L66.0 79.6 L70.0 80.1 L74.0 79.6 L78.0 78.6 L80.5 77.6 L81.0 79.6 L80.0 82.5 L76.0 85.5 L72.0 87.0 L68.0 86.0 L64.0 83.5 L61.0 81.5 L58.5 79.6Z" fill="#c45235" /><path d="M80.0 82.8 L83.0 81.4 L85.5 80.7 L86.2 82.0 L83.0 84.0 L80.5 84.6Z" fill="#8c1233" /><path d="M51.5 84.0 L53.0 84.5 L54.0 88.0 L52.6 88.2Z" fill="#3d0a1b" /><path d="M58.0 95.0 L60.0 94.6 L61.6 99.0 L60.0 99.6Z" fill="#3d0a1b" /><path d="M50.5 82.0 L52.0 82.0 L52.5 84.5 L51.0 84.5Z" fill="#8c1233" /><path d="M60.5 93.0 L62.0 93.5 L61.5 96.0 L60.0 95.5Z" fill="#8c1233" /><path d="M134.5 61.5 L136.5 62.0 L136.0 63.6 L134.0 63.0Z" fill="#8c1233" /><path d="M111.0 137.0 L112.3 137.0 L112.5 140.0 L111.2 140.0Z" fill="#8c1233" /><path d="M152.5 141.5 L154.0 142.0 L153.5 143.5 L152.0 143.0Z" fill="#8c1233" /><path d="M57 108 L56 112 L57 116 L60 118.2" fill="none" stroke="#c45235" stroke-width="1.1"/><path d="M56.0 67.3 L57.5 66.7 L59.0 66.0 L61.3 66.6 L63.0 67.3 L64.5 68.2 L66.0 69.0 L65.3 69.8 L65.0 70.6 L63.1 70.6 L61.0 70.2 L59.3 69.7 L58.0 69.4 L56.8 68.5Z" fill="#7bafc8" /><path d="M58.0 67.5 L61.0 67.3 L64.0 68.6 L63.0 69.8 L60.0 69.2Z" fill="#237dbe" /><path d="M68.0 68.8 L70.0 68.4 L70.4 69.6 L68.4 70.0Z" fill="#7bafc8" /><path d="M121.0 155.5 L123.5 155.4 L126.0 155.2 L128.6 155.4 L131.0 156.0 L131.7 157.2 L133.0 158.5 L131.4 159.5 L130.0 160.2 L127.6 160.0 L125.0 159.6 L123.5 158.9 L122.0 158.0 L121.3 156.7Z" fill="#7bafc8" /><path d="M124.0 156.5 L129.0 156.6 L131.0 158.2 L128.0 159.2 L125.0 158.4Z" fill="#237dbe" /><path d="M154.0 132.2 L158.0 131.5 L160.0 133.5 L158.0 136.0 L155.0 135.0Z" fill="#7bafc8" /><path d="M156.0 133.0 L158.5 133.0 L158.0 135.0 L156.0 134.6Z" fill="#237dbe" /><path d="M163.0 114.0 L165.5 114.0 L167.0 118.0 L166.5 122.0 L164.5 121.0 L164.0 117.5Z" fill="#7bafc8" /><path d="M163.0 97.0 L165.0 97.0 L165.0 100.0 L163.4 100.0Z" fill="#7bafc8" /><path d="M54.0 96.0 L56.0 96.0 L56.5 99.0 L55.0 99.5Z" fill="#7bafc8" /><path d="M60.0 112.0 L62.0 112.5 L62.0 115.5 L60.5 115.0Z" fill="#7bafc8" />
<path d="M46.3 66.6 L47.2 66.9 L47.5 71.6 L48.0 75.6 L52.0 77.1 L55.0 78.6 L58.0 80.1 L61.0 81.6 L64.0 83.6 L67.0 85.1 L70.0 86.1 L74.0 85.1 L78.0 84.1 L82.0 83.1 L85.0 82.1 L86.5 80.6 L87.0 77.6 L86.5 74.6 L87.5 71.6 L87.0 69.1 L89.0 67.1 L90.0 64.1 L92.0 61.1 L93.5 59.4 L95.0 57.6 L98.0 56.6 L101.0 55.6 L103.5 54.6 L107.0 55.1 L111.0 55.6 L115.0 55.6 L117.0 56.1 L120.0 58.1 L123.0 59.1 L126.0 60.1 L130.0 60.4 L134.0 61.1 L135.5 64.1 L139.0 64.6 L142.0 65.6 L145.0 66.6 L148.0 66.1 L151.0 67.1 L152.5 69.6 L153.5 72.6 L154.0 75.6 L154.5 78.6 L155.0 81.6 L155.5 84.6 L155.5 87.6 L155.0 90.1 L154.7 91.6 L155.5 93.6 L157.0 95.1 L158.5 96.1 L160.0 97.6 L162.0 99.6 L163.0 102.6 L162.5 105.6 L163.0 108.6 L163.5 111.6 L165.5 113.1 L164.5 115.6 L164.0 118.6 L163.0 121.1 L161.5 122.6 L160.0 124.6 L159.0 127.6 L159.5 130.1 L157.0 132.1 L155.5 133.6 L154.0 136.6 L152.5 139.6 L151.5 142.6 L149.5 144.6 L148.5 147.6 L146.0 149.6 L143.0 151.6 L140.0 153.1 L137.0 154.1 L136.0 155.6 L135.0 154.1 L132.0 154.1 L129.0 154.6 L125.0 155.1 L121.0 154.6 L117.0 154.1 L114.0 153.6 L111.5 152.1 L111.0 149.6 L112.0 147.1 L113.0 144.6 L114.0 142.1 L113.0 139.1 L111.5 136.9 L110.2 137.3 L106.8 137.1 L102.0 135.6 L97.7 134.7 L94.8 134.0 L93.0 134.6 L91.5 135.6 L89.5 135.6 L87.0 134.1 L85.0 135.1 L83.0 136.1 L80.5 135.1 L77.0 134.1 L74.5 133.1 L72.0 131.1 L70.0 128.6 L68.5 125.6 L68.0 122.6 L67.0 119.6 L66.5 116.1 L65.0 114.6 L61.0 116.1 L59.0 113.6 L58.5 109.6 L59.5 106.6 L60.5 103.6 L62.0 100.6 L61.0 99.1 L60.5 96.6 L59.0 94.6 L57.0 93.1 L55.0 91.6 L53.5 89.6 L53.0 87.1 L51.5 85.1 L49.5 83.1 L48.0 79.6 L47.0 76.6 L46.0 72.6Z" fill="#808080"/><path d="M70.5 86.1 L74.0 85.1 L78.0 84.1 L82.0 83.1 L85.0 82.1 L86.5 81.1 L87.0 83.6 L89.0 85.6 L90.0 88.6 L88.5 90.6 L87.0 92.6 L87.5 95.6 L86.0 96.6 L84.0 94.6 L82.5 97.6 L80.5 95.6 L78.5 99.1 L77.0 96.6 L75.5 99.1 L74.0 96.6 L72.0 97.1 L71.5 93.6 L71.0 89.6Z" fill="#c6c6c6"/><path d="M93.0 134.6 L94.8 134.0 L97.7 134.7 L102.0 135.6 L106.8 137.1 L110.2 137.3 L111.5 136.9 L111.1 135.4 L111.8 132.5 L111.1 129.6 L109.2 126.8 L106.8 124.4 L104.4 122.0 L102.0 120.0 L100.3 119.6 L99.8 121.0 L100.8 122.9 L98.6 123.4 L97.7 121.7 L97.2 123.4 L96.7 125.3 L95.5 123.4 L95.0 125.3 L95.8 126.8 L93.8 126.8 L91.9 125.8 L91.2 127.7 L92.4 129.6 L91.9 131.6 L91.4 133.5Z" fill="#c6c6c6"/><path d="M145.5 88.4 L150.0 87.9 L155.4 87.4 L155.2 89.8 L150.0 89.6 L147.0 89.6Z" fill="#c6c6c6"/><path d="M49.5 76.6 L53.0 77.6 L56.0 79.1 L59.0 80.8 L62.0 82.4 L65.0 84.1 L67.5 85.4 L66.0 85.8 L63.0 84.6 L60.0 83.6 L58.0 83.6 L55.0 82.1 L52.0 80.1 L50.0 78.6Z" fill="#c6c6c6"/><path d="M52.5 86.6 L56.0 87.6 L60.0 88.1 L62.5 89.6 L62.0 92.1 L60.0 93.1 L57.0 92.6 L54.0 90.6 L52.5 88.6Z" fill="#c6c6c6"/><path d="M87.0 69.1 L89.0 67.1 L90.0 68.1 L88.5 70.1Z" fill="#c6c6c6"/><path d="M101.0 55.6 L103.5 54.6 L106.0 55.1 L105.5 56.6 L102.0 56.9Z" fill="#c6c6c6"/><path d="M163.5 111.6 L165.5 113.1 L164.5 114.6 L163.0 113.6Z" fill="#c6c6c6"/><path d="M159.0 127.6 L159.5 130.1 L158.0 130.6 L157.8 128.1Z" fill="#c6c6c6"/><path d="M58.5 109.6 L59.0 113.6 L60.3 113.6 L59.9 109.6Z" fill="#c6c6c6"/><path d="M60.5 103.6 L62.0 100.6 L63.0 101.6 L61.7 104.6Z" fill="#c6c6c6"/><path d="M123.0 59.1 L126.0 60.1 L130.0 60.4 L129.5 61.4 L125.5 61.2 L123.0 60.2Z" fill="#c6c6c6"/><path d="M82.5 84.6 L85.0 83.6 L86.0 86.6 L85.0 89.6 L83.0 89.1 L82.0 86.6Z" fill="#808080"/><path d="M75.0 89.6 L77.0 89.1 L77.5 92.1 L76.0 93.1 L74.8 91.6Z" fill="#808080"/><path d="M56.0 89.1 L59.5 89.4 L60.0 91.4 L57.0 91.6 L55.5 90.6Z" fill="#808080"/><path d="M94.3 130.6 L96.2 130.6 L96.2 133.5 L94.5 133.3Z" fill="#808080"/><path d="M0.0 59.2 L1.6 59.2 L3.4 61.0 L5.2 64.6 L7.0 68.2 L10.0 70.0 L14.8 70.0 L19.0 68.6 L21.4 69.4 L20.8 72.4 L19.0 74.8 L16.0 77.2 L12.4 78.8 L7.6 78.4 L4.0 79.0 L0.0 78.4Z" fill="#808080"/><path d="M17.0 52.4 L18.3 51.8 L18.8 53.6 L18.2 56.1 L17.0 56.6Z" fill="#808080"/><path d="M48.5 30.0 L50.5 29.6 L50.6 30.6 L48.8 31.0Z" fill="#808080"/><path d="M45.3 68.1 L46.3 67.6 L46.6 70.6 L45.6 71.1Z" fill="#808080"/><path d="M42.0 63.1 L42.8 63.1 L42.8 64.6 L42.0 64.6Z" fill="#808080"/><path d="M42.2 68.6 L43.0 68.6 L43.0 70.6 L42.2 70.6Z" fill="#808080"/><path d="M189.5 65.6 L190.8 65.6 L190.8 67.6 L189.5 67.6Z" fill="#808080"/><path d="M198.0 27.1 L198.8 27.1 L198.8 27.9 L198.0 27.9Z" fill="#808080"/>
<g fill="none" stroke="#d0d0d0" stroke-width="0.60"><ellipse cx="103.5" cy="105.6" rx="12.3" ry="12.5"/><ellipse cx="103.5" cy="105.6" rx="25.1" ry="25.5"/><ellipse cx="103.5" cy="105.6" rx="38.0" ry="38.6"/><ellipse cx="103.5" cy="105.6" rx="51.2" ry="52.0"/><ellipse cx="103.5" cy="105.6" rx="64.5" ry="65.5"/><ellipse cx="103.5" cy="105.6" rx="77.0" ry="78.3"/><ellipse cx="103.5" cy="105.6" rx="90.1" ry="91.6"/><ellipse cx="103.5" cy="105.6" rx="103.3" ry="105.0"/><path d="M103.5 0.6 V210.6 M0.2 105.6 H206.8"/><path d="M112.2 96.8 L176.6 31.4"/><path d="M112.2 114.4 L176.6 179.8"/><path d="M94.8 114.4 L30.4 179.8"/><path d="M94.8 96.8 L30.4 31.4"/></g>
<text transform="translate(106.0 27.8) rotate(0)" text-anchor="middle" font-size="9.3" fill="#111" stroke="#111">0<tspan font-size="7.6" dy="-3.3">o</tspan><tspan font-size="9.3" dy="3.3"></tspan></text><text transform="translate(109.6 192.2) rotate(0)" text-anchor="middle" font-size="9.3" fill="#111" stroke="#111">180<tspan font-size="7.6" dy="-3.3">o</tspan><tspan font-size="9.3" dy="3.3"></tspan></text><text transform="translate(137.3 19.5) rotate(13)" text-anchor="middle" font-size="9.3" fill="#111" stroke="#111">55<tspan font-size="7.6" dy="-3.3">o</tspan><tspan font-size="9.3" dy="3.3">S</tspan></text><text transform="translate(129.8 45.2) rotate(9)" text-anchor="middle" font-size="9.3" fill="#111" stroke="#111">65<tspan font-size="7.6" dy="-3.3">o</tspan><tspan font-size="9.3" dy="3.3">S</tspan></text><text transform="translate(123.0 71.5) rotate(5)" text-anchor="middle" font-size="9.3" fill="#111" stroke="#111">75<tspan font-size="7.6" dy="-3.3">o</tspan><tspan font-size="9.3" dy="3.3">S</tspan></text><text transform="translate(116.0 95.8) rotate(0)" text-anchor="middle" font-size="9.3" fill="#111" stroke="#111">85<tspan font-size="7.6" dy="-3.3">o</tspan><tspan font-size="9.3" dy="3.3">S</tspan></text><text transform="translate(52.8 46.2) rotate(-45)" text-anchor="middle" font-size="9.3" fill="#111" stroke="#111">45<tspan font-size="7.6" dy="-3.3">o</tspan><tspan font-size="9.3" dy="3.3">W</tspan></text><text transform="translate(161.0 54.0) rotate(48)" text-anchor="middle" font-size="9.3" fill="#111" stroke="#111">45<tspan font-size="7.6" dy="-3.3">o</tspan><tspan font-size="9.3" dy="3.3">E</tspan></text><text transform="translate(49.0 170.5) rotate(43)" text-anchor="middle" font-size="9.3" fill="#111" stroke="#111">135<tspan font-size="7.6" dy="-3.3">o</tspan><tspan font-size="9.3" dy="3.3">W</tspan></text><text transform="translate(169.8 158.8) rotate(-45)" text-anchor="middle" font-size="9.3" fill="#111" stroke="#111">135<tspan font-size="7.6" dy="-3.3">o</tspan><tspan font-size="9.3" dy="3.3">E</tspan></text><text transform="translate(25.8 101.2) rotate(-90)" text-anchor="middle" font-size="9.3" fill="#111" stroke="#111">90<tspan font-size="7.6" dy="-3.3">o</tspan><tspan font-size="9.3" dy="3.3">W</tspan></text><text transform="translate(181.0 111.0) rotate(90)" text-anchor="middle" font-size="9.3" fill="#111" stroke="#111">90<tspan font-size="7.6" dy="-3.3">o</tspan><tspan font-size="9.3" dy="3.3">E</tspan></text><text x="101.5" y="110.3" text-anchor="middle" font-size="12.4" fill="#111" stroke="#111">SOSIM - UB</text>
<text x="5" y="205.8" font-size="9.3" fill="#111" stroke="#111">(b)</text>
</g>
<rect x="0" y="0" width="207.4" height="211.4" fill="none" stroke="#9a9a9a" stroke-width="1.1"/>
</g>
<g transform="translate(257.6 223.9)"><g clip-path="url(#pc)">
<rect width="207.4" height="211.4" fill="#fff"/>
<path d="M31.4 110.1 L31.3 107.0 L32.3 103.4 L32.4 100.1 L31.7 97.2 L32.2 93.5 L31.4 90.1 L31.1 86.4 L30.0 83.3 L30.4 80.1 L30.3 77.5 L30.4 75.7 L29.8 74.1 L28.9 70.1 L29.4 67.8 L28.2 64.1 L29.0 62.9 L28.1 61.2 L29.0 60.1 L29.5 58.0 L30.7 56.7 L30.6 55.3 L31.2 54.1 L32.2 52.7 L33.8 50.5 L34.8 49.0 L35.7 47.3 L37.0 45.7 L37.6 43.5 L39.6 42.1 L40.2 40.9 L41.4 38.9 L42.5 38.3 L42.6 36.1 L44.0 35.1 L44.8 33.8 L45.8 32.1 L46.1 30.5 L47.9 28.5 L48.2 27.3 L50.1 26.8 L50.7 25.0 L52.2 24.1 L51.9 22.9 L52.4 21.8 L51.4 20.9 L51.8 19.8 L53.8 20.5 L54.6 19.3 L56.2 19.6 L57.9 20.2 L59.4 20.1 L60.6 19.7 L62.7 19.2 L64.2 18.5 L65.6 17.8 L67.7 18.6 L69.8 17.7 L69.9 16.8 L70.1 15.0 L70.6 14.5 L71.6 14.7 L74.2 13.8 L75.4 13.7 L77.8 13.1 L80.2 12.7 L81.8 11.3 L83.8 11.2 L86.7 9.8 L88.2 8.9 L90.9 8.6 L92.3 8.0 L94.6 8.1 L96.7 6.8 L97.2 6.9 L99.4 5.7 L99.8 5.8 L99.9 5.3 L99.4 6.1 L101.1 4.8 L103.3 3.6 L105.4 3.1 L106.8 3.5 L110.0 5.1 L111.4 5.1 L114.4 5.4 L116.4 6.4 L119.4 6.1 L121.4 6.1 L122.7 5.0 L125.4 5.1 L127.9 6.5 L129.9 7.2 L131.4 8.1 L133.3 9.2 L135.9 9.8 L137.4 11.1 L139.4 12.1 L141.8 13.1 L143.4 15.1 L144.7 17.1 L144.7 17.9 L146.4 19.1 L146.9 21.3 L147.2 22.1 L147.4 24.1 L148.3 26.7 L150.0 27.6 L150.4 30.1 L151.2 31.2 L152.4 33.4 L154.4 35.1 L155.6 36.9 L158.0 37.2 L159.4 39.1 L161.5 40.5 L163.4 42.0 L165.4 44.1 L166.6 45.7 L168.6 48.4 L170.4 50.1 L172.1 51.5 L174.0 54.6 L175.4 56.1 L176.8 58.5 L176.7 60.0 L178.4 62.1 L178.1 64.5 L178.6 66.4 L179.4 68.1 L180.4 70.4 L181.8 71.5 L183.4 74.1 L184.6 75.5 L186.6 77.1 L187.4 79.1 L188.4 80.8 L190.0 81.9 L190.4 84.1 L191.5 85.4 L192.7 87.4 L193.4 88.1 L193.8 90.4 L194.8 92.2 L195.4 94.1 L194.3 96.5 L195.0 97.9 L193.8 100.1 L193.1 100.1 L192.3 98.2 L192.4 98.1 L190.1 100.5 L189.4 102.0 L187.4 104.1 L186.9 105.4 L186.3 108.0 L185.4 110.1 L184.8 111.9 L183.9 113.7 L183.4 116.1 L181.8 118.3 L181.0 121.1 L180.4 123.1 L180.2 125.4 L179.0 126.7 L178.4 129.1 L177.2 131.1 L176.6 133.7 L175.4 135.1 L173.5 137.1 L172.7 139.4 L171.4 141.1 L170.6 143.5 L168.9 145.5 L167.4 147.1 L166.0 149.6 L164.3 151.4 L162.4 153.1 L160.4 155.4 L158.9 156.6 L157.4 158.1 L156.5 160.4 L155.4 160.7 L153.4 163.1 L151.8 164.8 L150.6 166.6 L149.4 169.1 L148.8 170.2 L147.8 173.1 L147.4 174.1 L147.4 175.4 L146.2 177.4 L146.4 178.1 L144.4 178.0 L141.5 179.0 L139.4 179.1 L137.0 179.1 L134.7 179.5 L131.4 180.1 L128.4 181.3 L125.6 181.7 L123.4 182.1 L120.3 182.6 L117.8 182.6 L115.4 183.1 L113.4 183.4 L110.0 183.9 L107.4 184.1 L104.4 183.6 L101.9 183.8 L99.4 184.1 L102.3 184.9 L105.4 184.8 L109.4 184.5 L106.7 184.7 L102.1 184.2 L99.4 184.1 L95.4 184.1 L93.0 183.5 L89.4 183.7 L85.4 183.4 L82.2 182.6 L79.4 182.5 L76.7 182.6 L73.9 181.1 L71.4 181.1 L69.8 180.6 L67.4 178.5 L65.4 178.1 L63.0 176.6 L61.5 175.0 L59.4 174.1 L57.8 172.9 L56.0 171.3 L53.4 169.1 L51.1 167.5 L49.5 166.3 L48.4 164.1 L47.1 162.8 L44.6 160.2 L43.4 159.1 L42.5 157.6 L40.9 155.7 L39.4 154.1 L38.8 151.9 L37.1 149.9 L36.4 148.1 L35.5 145.6 L35.6 142.2 L34.4 140.1 L33.5 136.8 L34.0 133.0 L33.4 130.1 L32.7 126.1 L32.1 123.4 L32.4 120.1 L32.3 117.0 L31.3 112.9 L31.4 110.1 L32.3 106.8 L31.9 103.7 L32.4 100.1 L32.4 96.8 L31.1 93.9 L31.4 90.1 L31.0 96.1 L31.2 103.5Z" fill="#edd1c9" /><path d="M111.4 23.1 L114.9 21.7 L117.4 21.1 L120.8 21.2 L125.4 20.1 L129.0 20.1 L133.4 21.1 L136.6 21.4 L139.4 22.1 L142.9 22.3 L145.4 23.1 L147.0 23.4 L147.4 24.1 L149.0 27.6 L150.4 30.1 L152.6 33.1 L154.4 35.1 L157.1 36.6 L159.4 39.1 L162.9 41.7 L165.4 44.1 L167.7 46.7 L170.4 50.1 L173.3 53.2 L175.4 56.1 L177.4 59.4 L178.4 62.1 L179.5 65.2 L179.4 68.1 L178.1 68.7 L176.4 69.1 L173.6 68.6 L171.4 67.1 L168.2 65.9 L165.4 64.1 L162.9 62.8 L159.4 61.1 L156.0 60.0 L153.4 58.1 L151.6 55.7 L149.4 54.1 L147.4 52.1 L146.4 50.1 L144.3 49.1 L143.4 47.1 L140.4 46.1 L137.4 45.1 L134.3 44.3 L131.4 43.1 L128.9 41.9 L125.4 41.1 L122.7 39.7 L120.4 38.1 L118.7 36.2 L117.4 34.1 L115.5 32.0 L113.4 30.1 L112.1 28.1 L110.4 26.1 L110.4 25.2Z" fill="#c8d4dc" /><path d="M103.4 37.1 L109.4 36.7 L109.8 38.7 L103.8 39.3Z" fill="#c8d4dc" /><path d="M169.4 114.1 L172.4 112.6 L174.4 110.1 L177.4 109.1 L179.4 109.1 L181.5 110.5 L183.4 112.1 L182.9 114.7 L182.4 118.1 L180.5 121.0 L179.4 124.1 L178.1 127.0 L177.4 130.1 L175.3 132.6 L174.4 136.1 L172.7 139.0 L170.4 142.1 L168.4 144.9 L166.4 147.1 L163.7 149.1 L161.4 152.1 L159.2 154.7 L156.4 157.1 L154.6 159.2 L152.4 161.1 L151.0 163.4 L148.4 166.1 L147.2 166.4 L145.4 167.1 L145.0 165.8 L144.4 164.1 L145.7 161.1 L147.4 159.1 L149.4 156.9 L151.4 154.1 L154.0 151.5 L156.4 149.1 L158.1 146.2 L159.4 144.1 L160.0 140.9 L161.4 138.1 L162.8 134.7 L163.4 132.1 L163.9 128.6 L165.4 126.1 L165.3 122.8 L166.4 120.1 L168.0 117.5Z" fill="#c8d4dc" /><path d="M33.4 101.1 L35.1 99.9 L36.4 98.1 L37.6 99.0 L39.4 99.1 L39.7 101.7 L40.4 104.1 L39.6 107.3 L39.4 110.1 L37.6 111.3 L36.4 112.1 L35.1 110.8 L33.4 109.1 L33.4 105.4Z" fill="#c8d4dc" /><path d="M129.4 30.1 L132.4 29.1 L135.4 32.1 L135.0 37.1 L131.4 37.1 L129.4 34.1Z" fill="#7bafc8" /><path d="M131.4 37.1 L136.4 37.1 L140.4 39.1 L139.4 41.5 L134.4 40.7Z" fill="#7bafc8" /><path d="M142.4 39.1 L146.4 39.7 L147.4 42.5 L143.8 42.7Z" fill="#7bafc8" /><path d="M147.4 43.1 L151.0 44.1 L151.4 47.1 L148.4 46.5Z" fill="#7bafc8" /><path d="M152.4 50.1 L156.4 51.1 L159.4 55.1 L157.4 56.5 L153.8 54.1Z" fill="#7bafc8" /><path d="M158.4 57.1 L162.4 58.1 L164.4 62.1 L161.8 63.1 L159.4 60.5Z" fill="#7bafc8" /><path d="M130.4 31.1 L133.4 30.5 L134.4 34.1 L131.4 35.7Z" fill="#3f8fc0" /><path d="M153.4 51.1 L156.0 52.1 L157.8 54.9 L155.4 54.5Z" fill="#3f8fc0" /><path d="M159.4 58.1 L161.8 59.1 L163.0 61.7 L160.6 60.9Z" fill="#3f8fc0" /><path d="M44.4 70.1 L43.4 67.5 L42.6 64.1 L43.3 61.8 L43.4 60.1 L44.1 57.8 L44.2 55.3 L45.0 53.3 L46.6 50.5 L48.0 47.9 L49.8 45.7 L51.7 43.0 L53.8 40.1 L55.5 37.9 L57.8 35.3 L60.1 33.3 L61.8 31.3 L63.7 29.8 L65.0 28.1 L67.3 27.8 L69.0 28.1 L70.9 27.7 L73.0 27.3 L74.6 26.1 L77.0 24.1 L80.3 22.1 L83.4 20.9 L87.5 19.2 L91.4 17.7 L95.1 16.2 L99.4 15.3 L103.4 14.4 L107.4 14.3 L109.4 14.3 L111.2 14.2 L112.9 14.8 L115.2 14.8 L114.8 15.2 L115.2 16.1 L111.9 16.6 L108.0 17.7 L104.7 18.6 L101.6 19.3 L98.0 20.1 L94.6 20.9 L92.2 22.1 L89.8 23.3 L87.0 25.2 L85.0 26.5 L83.2 27.7 L81.8 29.7 L80.5 32.0 L79.4 33.7 L79.1 35.7 L78.6 37.7 L79.4 39.8 L80.2 42.5 L81.5 44.4 L82.6 46.5 L83.8 48.2 L85.8 50.5 L87.0 52.3 L89.0 53.7 L90.5 55.7 L91.4 57.3 L91.6 59.6 L92.4 62.5 L91.3 64.7 L89.4 67.1 L86.1 68.2 L83.4 69.1 L80.5 69.6 L77.4 70.1 L72.4 68.4 L67.4 67.1 L62.9 64.1 L58.4 61.1 L56.1 60.6 L53.4 60.1 L50.3 63.5 L47.4 66.1 L45.5 68.3Z" fill="#d88d78" /><path d="M65.0 38.5 L65.9 36.7 L66.6 35.3 L68.0 34.2 L69.8 32.9 L70.6 33.5 L71.9 33.7 L71.4 35.0 L70.6 36.9 L69.5 38.3 L68.2 39.6 L67.1 40.5 L65.8 40.9 L65.7 39.6Z" fill="#edd1c9" /><path d="M152.4 66.1 L155.0 67.3 L157.4 68.1 L160.9 68.8 L163.4 70.1 L165.5 71.9 L168.4 73.1 L170.7 74.5 L173.4 76.1 L176.2 76.8 L178.4 78.1 L179.3 80.1 L179.4 82.1 L177.0 83.5 L175.4 84.1 L174.5 85.7 L173.4 88.1 L171.7 89.4 L169.4 90.1 L168.6 92.3 L167.4 94.1 L166.9 96.6 L165.4 100.1 L162.9 100.2 L159.4 100.1 L158.7 96.2 L158.4 92.1 L157.7 88.3 L157.4 84.1 L157.1 80.1 L156.4 76.1 L154.5 72.0 L153.4 68.1 L152.7 67.3Z" fill="#d88d78" /><path d="M154.4 69.1 L159.4 77.1 L160.4 84.1 L159.4 90.1 L161.4 100.1 L159.0 100.1 L157.8 92.1 L157.0 84.1 L156.2 76.1 L153.4 69.1Z" fill="#c45235" /><path d="M170.4 77.7 L172.2 77.1 L174.4 76.9 L176.5 77.5 L178.4 78.5 L177.9 80.1 L177.8 81.7 L175.8 81.7 L173.8 82.1 L172.1 81.5 L170.6 80.5 L170.3 78.9Z" fill="#edd1c9" /><path d="M173.4 96.1 L178.4 95.7 L183.4 98.1 L183.0 101.1 L178.4 100.1 L173.8 99.1Z" fill="#d88d78" /><path d="M46.4 135.1 L47.9 136.0 L49.4 137.1 L51.2 139.4 L52.4 142.1 L53.9 145.5 L55.4 149.1 L56.3 153.0 L57.4 156.1 L56.6 158.6 L56.4 161.1 L54.2 160.5 L52.4 160.1 L51.3 157.0 L49.4 154.1 L48.5 151.0 L47.4 148.1 L47.4 144.6 L47.0 141.1 L46.4 138.0Z" fill="#d88d78" /><path d="M69.4 170.1 L73.4 168.9 L77.4 168.1 L81.0 167.7 L85.4 167.1 L89.2 167.2 L93.4 167.7 L97.3 167.5 L101.4 167.1 L104.8 168.1 L107.4 169.1 L107.3 171.0 L106.4 172.1 L102.7 172.8 L99.4 174.1 L95.1 174.2 L91.4 173.7 L87.5 173.7 L83.4 173.1 L79.8 172.9 L75.4 172.5 L72.9 171.8 L70.4 171.7 L69.5 171.1Z" fill="#d88d78" /><path d="M99.4 167.1 L104.4 167.7 L107.4 170.1 L106.4 173.7 L101.4 174.1 L99.4 173.1Z" fill="#d88d78" /><path d="M50.4 90.1 L51.5 93.8 L53.4 98.1 L54.3 102.2 L55.4 106.1 L56.1 109.8 L57.4 114.1 L58.2 118.3 L59.4 122.1 L61.1 125.8 L63.4 129.1 L66.0 131.3 L68.4 134.1 L71.4 136.1 L74.4 138.1 L77.8 140.5 L81.4 142.1 L85.1 143.7 L89.4 146.1 L92.8 147.5 L95.4 149.1 L97.2 148.5 L99.4 148.1 L100.3 146.5 L101.4 144.1 L102.7 145.9 L104.4 148.1 L107.0 150.1 L109.4 152.1 L112.8 153.4 L115.4 154.1 L117.3 153.9 L119.4 154.1 L119.7 147.5 L119.4 140.1 L113.0 139.3 L107.4 138.1 L101.7 137.2 L95.4 136.1 L87.2 134.8 L79.4 133.1 L74.6 129.4 L69.4 126.1 L67.0 120.9 L64.4 116.1 L62.0 109.0 L60.4 102.1 L58.8 96.0 L57.4 90.1 L54.0 90.4Z" fill="#d88d78" /><path d="M99.4 154.1 L103.1 154.9 L107.4 156.1 L112.2 157.9 L117.4 159.1 L122.4 160.8 L127.4 162.1 L132.1 162.3 L137.4 162.5 L140.2 160.8 L142.4 159.1 L141.3 156.9 L139.4 154.1 L134.3 154.2 L129.4 155.1 L123.6 153.3 L117.4 152.1 L112.0 150.3 L107.4 148.1 L103.7 144.4 L99.4 140.1 L99.8 146.9Z" fill="#d88d78" /><g fill="none" stroke-linejoin="round"><path d="M46.3 66.6 L47.2 66.9 L47.5 71.6 L48.0 75.6 L52.0 77.1 L55.0 78.6 L58.0 80.1 L61.0 81.6 L64.0 83.6 L67.0 85.1 L70.0 86.1 L74.0 85.1 L78.0 84.1 L82.0 83.1 L85.0 82.1 L86.5 80.6 L87.0 77.6 L86.5 74.6 L87.5 71.6 L87.0 69.1 L89.0 67.1 L90.0 64.1 L92.0 61.1 L93.5 59.4 L95.0 57.6 L98.0 56.6 L101.0 55.6 L103.5 54.6 L107.0 55.1 L111.0 55.6 L115.0 55.6 L117.0 56.1 L120.0 58.1 L123.0 59.1 L126.0 60.1 L130.0 60.4 L134.0 61.1 L135.5 64.1 L139.0 64.6 L142.0 65.6 L145.0 66.6 L148.0 66.1 L151.0 67.1 L152.5 69.6 L153.5 72.6 L154.0 75.6 L154.5 78.6 L155.0 81.6 L155.5 84.6 L155.5 87.6 L155.0 90.1 L154.7 91.6 L155.5 93.6 L157.0 95.1 L158.5 96.1 L160.0 97.6 L162.0 99.6 L163.0 102.6 L162.5 105.6 L163.0 108.6 L163.5 111.6 L165.5 113.1 L164.5 115.6 L164.0 118.6 L163.0 121.1 L161.5 122.6 L160.0 124.6 L159.0 127.6 L159.5 130.1 L157.0 132.1 L155.5 133.6 L154.0 136.6 L152.5 139.6 L151.5 142.6 L149.5 144.6 L148.5 147.6 L146.0 149.6 L143.0 151.6 L140.0 153.1 L137.0 154.1 L136.0 155.6 L135.0 154.1 L132.0 154.1 L129.0 154.6 L125.0 155.1 L121.0 154.6 L117.0 154.1 L114.0 153.6 L111.5 152.1 L111.0 149.6 L112.0 147.1 L113.0 144.6 L114.0 142.1 L113.0 139.1 L111.5 136.9 L110.2 137.3 L106.8 137.1 L102.0 135.6 L97.7 134.7 L94.8 134.0 L93.0 134.6 L91.5 135.6 L89.5 135.6 L87.0 134.1 L85.0 135.1 L83.0 136.1 L80.5 135.1 L77.0 134.1 L74.5 133.1 L72.0 131.1 L70.0 128.6 L68.5 125.6 L68.0 122.6 L67.0 119.6 L66.5 116.1 L65.0 114.6 L61.0 116.1 L59.0 113.6 L58.5 109.6 L59.5 106.6 L60.5 103.6 L62.0 100.6 L61.0 99.1 L60.5 96.6 L59.0 94.6 L57.0 93.1 L55.0 91.6 L53.5 89.6 L53.0 87.1 L51.5 85.1 L49.5 83.1 L48.0 79.6 L47.0 76.6 L46.0 72.6Z" stroke="#d88d78" stroke-width="6.4"/><path d="M46.3 66.6 L47.2 66.9 L47.5 71.6 L48.0 75.6 L52.0 77.1 L55.0 78.6 L58.0 80.1 L61.0 81.6 L64.0 83.6 L67.0 85.1 L70.0 86.1 L74.0 85.1 L78.0 84.1 L82.0 83.1 L85.0 82.1 L86.5 80.6 L87.0 77.6 L86.5 74.6 L87.5 71.6 L87.0 69.1 L89.0 67.1 L90.0 64.1 L92.0 61.1 L93.5 59.4 L95.0 57.6 L98.0 56.6 L101.0 55.6 L103.5 54.6 L107.0 55.1 L111.0 55.6 L115.0 55.6 L117.0 56.1 L120.0 58.1 L123.0 59.1 L126.0 60.1 L130.0 60.4 L134.0 61.1 L135.5 64.1 L139.0 64.6 L142.0 65.6 L145.0 66.6 L148.0 66.1 L151.0 67.1 L152.5 69.6 L153.5 72.6 L154.0 75.6 L154.5 78.6 L155.0 81.6 L155.5 84.6 L155.5 87.6 L155.0 90.1 L154.7 91.6 L155.5 93.6 L157.0 95.1 L158.5 96.1 L160.0 97.6 L162.0 99.6 L163.0 102.6 L162.5 105.6 L163.0 108.6 L163.5 111.6 L165.5 113.1 L164.5 115.6 L164.0 118.6 L163.0 121.1 L161.5 122.6 L160.0 124.6 L159.0 127.6 L159.5 130.1 L157.0 132.1 L155.5 133.6 L154.0 136.6 L152.5 139.6 L151.5 142.6 L149.5 144.6 L148.5 147.6 L146.0 149.6 L143.0 151.6 L140.0 153.1 L137.0 154.1 L136.0 155.6 L135.0 154.1 L132.0 154.1 L129.0 154.6 L125.0 155.1 L121.0 154.6 L117.0 154.1 L114.0 153.6 L111.5 152.1 L111.0 149.6 L112.0 147.1 L113.0 144.6 L114.0 142.1 L113.0 139.1 L111.5 136.9 L110.2 137.3 L106.8 137.1 L102.0 135.6 L97.7 134.7 L94.8 134.0 L93.0 134.6 L91.5 135.6 L89.5 135.6 L87.0 134.1 L85.0 135.1 L83.0 136.1 L80.5 135.1 L77.0 134.1 L74.5 133.1 L72.0 131.1 L70.0 128.6 L68.5 125.6 L68.0 122.6 L67.0 119.6 L66.5 116.1 L65.0 114.6 L61.0 116.1 L59.0 113.6 L58.5 109.6 L59.5 106.6 L60.5 103.6 L62.0 100.6 L61.0 99.1 L60.5 96.6 L59.0 94.6 L57.0 93.1 L55.0 91.6 L53.5 89.6 L53.0 87.1 L51.5 85.1 L49.5 83.1 L48.0 79.6 L47.0 76.6 L46.0 72.6Z" stroke="#c45235" stroke-width="3.6"/><path d="M46.3 66.6 L47.2 66.9 L47.5 71.6 L48.0 75.6 L52.0 77.1 L55.0 78.6 L58.0 80.1 L61.0 81.6 L64.0 83.6 L67.0 85.1 L70.0 86.1 L74.0 85.1 L78.0 84.1 L82.0 83.1 L85.0 82.1 L86.5 80.6 L87.0 77.6 L86.5 74.6 L87.5 71.6 L87.0 69.1 L89.0 67.1 L90.0 64.1 L92.0 61.1 L93.5 59.4 L95.0 57.6 L98.0 56.6 L101.0 55.6 L103.5 54.6 L107.0 55.1 L111.0 55.6 L115.0 55.6 L117.0 56.1 L120.0 58.1 L123.0 59.1 L126.0 60.1 L130.0 60.4 L134.0 61.1 L135.5 64.1 L139.0 64.6 L142.0 65.6 L145.0 66.6 L148.0 66.1 L151.0 67.1 L152.5 69.6 L153.5 72.6 L154.0 75.6 L154.5 78.6 L155.0 81.6 L155.5 84.6 L155.5 87.6 L155.0 90.1 L154.7 91.6 L155.5 93.6 L157.0 95.1 L158.5 96.1 L160.0 97.6 L162.0 99.6 L163.0 102.6 L162.5 105.6 L163.0 108.6 L163.5 111.6 L165.5 113.1 L164.5 115.6 L164.0 118.6 L163.0 121.1 L161.5 122.6 L160.0 124.6 L159.0 127.6 L159.5 130.1 L157.0 132.1 L155.5 133.6 L154.0 136.6 L152.5 139.6 L151.5 142.6 L149.5 144.6 L148.5 147.6 L146.0 149.6 L143.0 151.6 L140.0 153.1 L137.0 154.1 L136.0 155.6 L135.0 154.1 L132.0 154.1 L129.0 154.6 L125.0 155.1 L121.0 154.6 L117.0 154.1 L114.0 153.6 L111.5 152.1 L111.0 149.6 L112.0 147.1 L113.0 144.6 L114.0 142.1 L113.0 139.1 L111.5 136.9 L110.2 137.3 L106.8 137.1 L102.0 135.6 L97.7 134.7 L94.8 134.0 L93.0 134.6 L91.5 135.6 L89.5 135.6 L87.0 134.1 L85.0 135.1 L83.0 136.1 L80.5 135.1 L77.0 134.1 L74.5 133.1 L72.0 131.1 L70.0 128.6 L68.5 125.6 L68.0 122.6 L67.0 119.6 L66.5 116.1 L65.0 114.6 L61.0 116.1 L59.0 113.6 L58.5 109.6 L59.5 106.6 L60.5 103.6 L62.0 100.6 L61.0 99.1 L60.5 96.6 L59.0 94.6 L57.0 93.1 L55.0 91.6 L53.5 89.6 L53.0 87.1 L51.5 85.1 L49.5 83.1 L48.0 79.6 L47.0 76.6 L46.0 72.6Z" stroke="#8c1233" stroke-width="1.7"/></g><g fill="none" stroke-linejoin="round" stroke-linecap="round"><path d="M83.0 136.1 L80.5 135.1 L77.0 134.1 L74.5 133.1 L72.0 131.1 L70.0 128.6 L68.5 125.6 L68.0 122.6 L67.0 119.6 L66.5 116.1 L65.0 114.6 L61.0 116.1 L59.0 113.6 L58.5 109.6 L59.5 106.6 L60.5 103.6 L62.0 100.6 L61.0 99.1 L60.5 96.6 L59.0 94.6 L57.0 93.1 L55.0 91.6 L53.5 89.6 L53.0 87.1 L51.5 85.1 L49.5 83.1 L48.0 79.6 L47.0 76.6 L46.0 72.6 L46.3 66.6" stroke="#d88d78" stroke-width="9"/><path d="M83.0 136.1 L80.5 135.1 L77.0 134.1 L74.5 133.1 L72.0 131.1 L70.0 128.6 L68.5 125.6 L68.0 122.6 L67.0 119.6 L66.5 116.1 L65.0 114.6 L61.0 116.1 L59.0 113.6 L58.5 109.6 L59.5 106.6 L60.5 103.6 L62.0 100.6 L61.0 99.1 L60.5 96.6 L59.0 94.6 L57.0 93.1 L55.0 91.6 L53.5 89.6 L53.0 87.1 L51.5 85.1 L49.5 83.1 L48.0 79.6 L47.0 76.6 L46.0 72.6 L46.3 66.6" stroke="#c45235" stroke-width="6.2"/><path d="M83.0 136.1 L80.5 135.1 L77.0 134.1 L74.5 133.1 L72.0 131.1 L70.0 128.6 L68.5 125.6 L68.0 122.6 L67.0 119.6 L66.5 116.1 L65.0 114.6 L61.0 116.1 L59.0 113.6 L58.5 109.6 L59.5 106.6 L60.5 103.6 L62.0 100.6 L61.0 99.1 L60.5 96.6 L59.0 94.6 L57.0 93.1 L55.0 91.6 L53.5 89.6 L53.0 87.1 L51.5 85.1 L49.5 83.1 L48.0 79.6 L47.0 76.6 L46.0 72.6 L46.3 66.6" stroke="#8c1233" stroke-width="2.8"/><path d="M83.0 136.1 L80.5 135.1 L77.0 134.1 L74.5 133.1 L72.0 131.1 L70.0 128.6 L68.5 125.6 L68.0 122.6 L67.0 119.6 L66.5 116.1 L65.0 114.6 L61.0 116.1 L59.0 113.6 L58.5 109.6 L59.5 106.6 L60.5 103.6 L62.0 100.6 L61.0 99.1 L60.5 96.6 L59.0 94.6 L57.0 93.1 L55.0 91.6 L53.5 89.6 L53.0 87.1 L51.5 85.1 L49.5 83.1 L48.0 79.6 L47.0 76.6 L46.0 72.6 L46.3 66.6" stroke="#3d0a1b" stroke-width="1.2" stroke-dasharray="5 4"/></g><path d="M44.4 70.1 L43.4 60.1 L48.2 58.5 L53.0 57.7 L57.0 56.9 L59.4 53.7 L61.0 57.7 L64.2 60.1 L69.0 62.5 L73.8 64.1 L77.4 69.1 L83.4 68.1 L88.4 66.1 L90.4 63.1 L92.4 59.1 L93.8 62.5 L91.4 70.1 L87.4 76.1 L79.4 79.1 L67.4 77.1 L57.4 72.1 L47.4 70.1Z" fill="#c45235" /><path d="M43.0 70.1 L45.0 70.1 L46.2 78.1 L47.8 86.1 L49.4 94.1 L47.4 94.9 L45.4 87.1 L43.8 78.1Z" fill="#c45235" /><path d="M47.4 67.3 L52.4 66.9 L57.4 69.1 L62.4 72.1 L67.4 74.3 L73.4 75.5 L79.4 76.5 L84.4 75.7 L87.0 77.7 L85.4 83.1 L79.4 87.7 L74.4 89.1 L69.4 87.1 L64.4 84.1 L59.4 81.1 L54.4 78.1 L49.4 75.1 L45.8 71.1Z" fill="#8c1233" /><path d="M69.4 83.1 L74.4 85.7 L79.4 84.9 L84.8 81.7 L87.0 77.7 L85.4 77.7 L83.8 79.7 L80.4 82.1 L75.4 83.7 L71.4 82.5Z" fill="#3d0a1b" />
<path d="M46.3 66.6 L47.2 66.9 L47.5 71.6 L48.0 75.6 L52.0 77.1 L55.0 78.6 L58.0 80.1 L61.0 81.6 L64.0 83.6 L67.0 85.1 L70.0 86.1 L74.0 85.1 L78.0 84.1 L82.0 83.1 L85.0 82.1 L86.5 80.6 L87.0 77.6 L86.5 74.6 L87.5 71.6 L87.0 69.1 L89.0 67.1 L90.0 64.1 L92.0 61.1 L93.5 59.4 L95.0 57.6 L98.0 56.6 L101.0 55.6 L103.5 54.6 L107.0 55.1 L111.0 55.6 L115.0 55.6 L117.0 56.1 L120.0 58.1 L123.0 59.1 L126.0 60.1 L130.0 60.4 L134.0 61.1 L135.5 64.1 L139.0 64.6 L142.0 65.6 L145.0 66.6 L148.0 66.1 L151.0 67.1 L152.5 69.6 L153.5 72.6 L154.0 75.6 L154.5 78.6 L155.0 81.6 L155.5 84.6 L155.5 87.6 L155.0 90.1 L154.7 91.6 L155.5 93.6 L157.0 95.1 L158.5 96.1 L160.0 97.6 L162.0 99.6 L163.0 102.6 L162.5 105.6 L163.0 108.6 L163.5 111.6 L165.5 113.1 L164.5 115.6 L164.0 118.6 L163.0 121.1 L161.5 122.6 L160.0 124.6 L159.0 127.6 L159.5 130.1 L157.0 132.1 L155.5 133.6 L154.0 136.6 L152.5 139.6 L151.5 142.6 L149.5 144.6 L148.5 147.6 L146.0 149.6 L143.0 151.6 L140.0 153.1 L137.0 154.1 L136.0 155.6 L135.0 154.1 L132.0 154.1 L129.0 154.6 L125.0 155.1 L121.0 154.6 L117.0 154.1 L114.0 153.6 L111.5 152.1 L111.0 149.6 L112.0 147.1 L113.0 144.6 L114.0 142.1 L113.0 139.1 L111.5 136.9 L110.2 137.3 L106.8 137.1 L102.0 135.6 L97.7 134.7 L94.8 134.0 L93.0 134.6 L91.5 135.6 L89.5 135.6 L87.0 134.1 L85.0 135.1 L83.0 136.1 L80.5 135.1 L77.0 134.1 L74.5 133.1 L72.0 131.1 L70.0 128.6 L68.5 125.6 L68.0 122.6 L67.0 119.6 L66.5 116.1 L65.0 114.6 L61.0 116.1 L59.0 113.6 L58.5 109.6 L59.5 106.6 L60.5 103.6 L62.0 100.6 L61.0 99.1 L60.5 96.6 L59.0 94.6 L57.0 93.1 L55.0 91.6 L53.5 89.6 L53.0 87.1 L51.5 85.1 L49.5 83.1 L48.0 79.6 L47.0 76.6 L46.0 72.6Z" fill="#808080"/><path d="M70.5 86.1 L74.0 85.1 L78.0 84.1 L82.0 83.1 L85.0 82.1 L86.5 81.1 L87.0 83.6 L89.0 85.6 L90.0 88.6 L88.5 90.6 L87.0 92.6 L87.5 95.6 L86.0 96.6 L84.0 94.6 L82.5 97.6 L80.5 95.6 L78.5 99.1 L77.0 96.6 L75.5 99.1 L74.0 96.6 L72.0 97.1 L71.5 93.6 L71.0 89.6Z" fill="#c6c6c6"/><path d="M93.0 134.6 L94.8 134.0 L97.7 134.7 L102.0 135.6 L106.8 137.1 L110.2 137.3 L111.5 136.9 L111.1 135.4 L111.8 132.5 L111.1 129.6 L109.2 126.8 L106.8 124.4 L104.4 122.0 L102.0 120.0 L100.3 119.6 L99.8 121.0 L100.8 122.9 L98.6 123.4 L97.7 121.7 L97.2 123.4 L96.7 125.3 L95.5 123.4 L95.0 125.3 L95.8 126.8 L93.8 126.8 L91.9 125.8 L91.2 127.7 L92.4 129.6 L91.9 131.6 L91.4 133.5Z" fill="#c6c6c6"/><path d="M145.5 88.4 L150.0 87.9 L155.4 87.4 L155.2 89.8 L150.0 89.6 L147.0 89.6Z" fill="#c6c6c6"/><path d="M49.5 76.6 L53.0 77.6 L56.0 79.1 L59.0 80.8 L62.0 82.4 L65.0 84.1 L67.5 85.4 L66.0 85.8 L63.0 84.6 L60.0 83.6 L58.0 83.6 L55.0 82.1 L52.0 80.1 L50.0 78.6Z" fill="#c6c6c6"/><path d="M52.5 86.6 L56.0 87.6 L60.0 88.1 L62.5 89.6 L62.0 92.1 L60.0 93.1 L57.0 92.6 L54.0 90.6 L52.5 88.6Z" fill="#c6c6c6"/><path d="M87.0 69.1 L89.0 67.1 L90.0 68.1 L88.5 70.1Z" fill="#c6c6c6"/><path d="M101.0 55.6 L103.5 54.6 L106.0 55.1 L105.5 56.6 L102.0 56.9Z" fill="#c6c6c6"/><path d="M163.5 111.6 L165.5 113.1 L164.5 114.6 L163.0 113.6Z" fill="#c6c6c6"/><path d="M159.0 127.6 L159.5 130.1 L158.0 130.6 L157.8 128.1Z" fill="#c6c6c6"/><path d="M58.5 109.6 L59.0 113.6 L60.3 113.6 L59.9 109.6Z" fill="#c6c6c6"/><path d="M60.5 103.6 L62.0 100.6 L63.0 101.6 L61.7 104.6Z" fill="#c6c6c6"/><path d="M123.0 59.1 L126.0 60.1 L130.0 60.4 L129.5 61.4 L125.5 61.2 L123.0 60.2Z" fill="#c6c6c6"/><path d="M82.5 84.6 L85.0 83.6 L86.0 86.6 L85.0 89.6 L83.0 89.1 L82.0 86.6Z" fill="#808080"/><path d="M75.0 89.6 L77.0 89.1 L77.5 92.1 L76.0 93.1 L74.8 91.6Z" fill="#808080"/><path d="M56.0 89.1 L59.5 89.4 L60.0 91.4 L57.0 91.6 L55.5 90.6Z" fill="#808080"/><path d="M94.3 130.6 L96.2 130.6 L96.2 133.5 L94.5 133.3Z" fill="#808080"/><path d="M0.0 59.2 L1.6 59.2 L3.4 61.0 L5.2 64.6 L7.0 68.2 L10.0 70.0 L14.8 70.0 L19.0 68.6 L21.4 69.4 L20.8 72.4 L19.0 74.8 L16.0 77.2 L12.4 78.8 L7.6 78.4 L4.0 79.0 L0.0 78.4Z" fill="#808080"/><path d="M17.0 52.4 L18.3 51.8 L18.8 53.6 L18.2 56.1 L17.0 56.6Z" fill="#808080"/><path d="M48.5 30.0 L50.5 29.6 L50.6 30.6 L48.8 31.0Z" fill="#808080"/><path d="M45.3 68.1 L46.3 67.6 L46.6 70.6 L45.6 71.1Z" fill="#808080"/><path d="M42.0 63.1 L42.8 63.1 L42.8 64.6 L42.0 64.6Z" fill="#808080"/><path d="M42.2 68.6 L43.0 68.6 L43.0 70.6 L42.2 70.6Z" fill="#808080"/><path d="M189.5 65.6 L190.8 65.6 L190.8 67.6 L189.5 67.6Z" fill="#808080"/><path d="M198.0 27.1 L198.8 27.1 L198.8 27.9 L198.0 27.9Z" fill="#808080"/>
<path d="M49.7 76.9 L53.2 77.9 L56.2 79.4 L59.2 81.1 L62.2 82.7 L65.2 84.4 L67.7 85.7 L66.2 86.1 L63.2 84.9 L60.2 83.9 L58.2 83.9 L55.2 82.4 L52.2 80.4 L50.2 78.9Z" fill="#8c1233"/>
<g fill="none" stroke="#d0d0d0" stroke-width="0.60"><ellipse cx="103.5" cy="105.6" rx="12.3" ry="12.5"/><ellipse cx="103.5" cy="105.6" rx="25.1" ry="25.5"/><ellipse cx="103.5" cy="105.6" rx="38.0" ry="38.6"/><ellipse cx="103.5" cy="105.6" rx="51.2" ry="52.0"/><ellipse cx="103.5" cy="105.6" rx="64.5" ry="65.5"/><ellipse cx="103.5" cy="105.6" rx="77.0" ry="78.3"/><ellipse cx="103.5" cy="105.6" rx="90.1" ry="91.6"/><ellipse cx="103.5" cy="105.6" rx="103.3" ry="105.0"/><path d="M103.5 0.6 V210.6 M0.2 105.6 H206.8"/><path d="M112.2 96.8 L176.6 31.4"/><path d="M112.2 114.4 L176.6 179.8"/><path d="M94.8 114.4 L30.4 179.8"/><path d="M94.8 96.8 L30.4 31.4"/></g>
<text transform="translate(106.0 27.8) rotate(0)" text-anchor="middle" font-size="9.3" fill="#111" stroke="#111">0<tspan font-size="7.6" dy="-3.3">o</tspan><tspan font-size="9.3" dy="3.3"></tspan></text><text transform="translate(109.6 192.2) rotate(0)" text-anchor="middle" font-size="9.3" fill="#111" stroke="#111">180<tspan font-size="7.6" dy="-3.3">o</tspan><tspan font-size="9.3" dy="3.3"></tspan></text><text transform="translate(137.3 19.5) rotate(13)" text-anchor="middle" font-size="9.3" fill="#111" stroke="#111">55<tspan font-size="7.6" dy="-3.3">o</tspan><tspan font-size="9.3" dy="3.3">S</tspan></text><text transform="translate(129.8 45.2) rotate(9)" text-anchor="middle" font-size="9.3" fill="#111" stroke="#111">65<tspan font-size="7.6" dy="-3.3">o</tspan><tspan font-size="9.3" dy="3.3">S</tspan></text><text transform="translate(123.0 71.5) rotate(5)" text-anchor="middle" font-size="9.3" fill="#111" stroke="#111">75<tspan font-size="7.6" dy="-3.3">o</tspan><tspan font-size="9.3" dy="3.3">S</tspan></text><text transform="translate(116.0 95.8) rotate(0)" text-anchor="middle" font-size="9.3" fill="#111" stroke="#111">85<tspan font-size="7.6" dy="-3.3">o</tspan><tspan font-size="9.3" dy="3.3">S</tspan></text><text transform="translate(52.8 46.2) rotate(-45)" text-anchor="middle" font-size="9.3" fill="#111" stroke="#111">45<tspan font-size="7.6" dy="-3.3">o</tspan><tspan font-size="9.3" dy="3.3">W</tspan></text><text transform="translate(161.0 54.0) rotate(48)" text-anchor="middle" font-size="9.3" fill="#111" stroke="#111">45<tspan font-size="7.6" dy="-3.3">o</tspan><tspan font-size="9.3" dy="3.3">E</tspan></text><text transform="translate(49.0 170.5) rotate(43)" text-anchor="middle" font-size="9.3" fill="#111" stroke="#111">135<tspan font-size="7.6" dy="-3.3">o</tspan><tspan font-size="9.3" dy="3.3">W</tspan></text><text transform="translate(169.8 158.8) rotate(-45)" text-anchor="middle" font-size="9.3" fill="#111" stroke="#111">135<tspan font-size="7.6" dy="-3.3">o</tspan><tspan font-size="9.3" dy="3.3">E</tspan></text><text transform="translate(25.8 101.2) rotate(-90)" text-anchor="middle" font-size="9.3" fill="#111" stroke="#111">90<tspan font-size="7.6" dy="-3.3">o</tspan><tspan font-size="9.3" dy="3.3">W</tspan></text><text transform="translate(181.0 111.0) rotate(90)" text-anchor="middle" font-size="9.3" fill="#111" stroke="#111">90<tspan font-size="7.6" dy="-3.3">o</tspan><tspan font-size="9.3" dy="3.3">E</tspan></text><text x="101.5" y="110.3" text-anchor="middle" font-size="12.4" fill="#111" stroke="#111">SOSIM - UB</text>
<text x="5" y="205.8" font-size="9.3" fill="#111" stroke="#111">(e)</text>
</g>
<rect x="0" y="0" width="207.4" height="211.4" fill="none" stroke="#9a9a9a" stroke-width="1.1"/>
</g>
<rect x="230.2" y="192.80" width="7.5" height="20.80" fill="#1f4082"/><rect x="230.2" y="172.30" width="7.5" height="20.80" fill="#2255a3"/><rect x="230.2" y="151.80" width="7.5" height="20.80" fill="#3574bc"/><rect x="230.2" y="131.30" width="7.5" height="20.80" fill="#4c93d1"/><rect x="230.2" y="110.80" width="7.5" height="20.80" fill="#62abdf"/><rect x="230.2" y="90.30" width="7.5" height="20.80" fill="#7ec3e9"/><rect x="230.2" y="69.80" width="7.5" height="20.80" fill="#9dd4f0"/><rect x="230.2" y="49.30" width="7.5" height="20.80" fill="#bde3f6"/><rect x="230.2" y="28.80" width="7.5" height="20.80" fill="#dcf0fa"/><rect x="230.2" y="8.30" width="7.5" height="20.80" fill="#f0f8fd"/><rect x="230.2" y="8.3" width="7.5" height="205.0" fill="none" stroke="#777" stroke-width="0.6"/><text x="240.3" y="216.4" font-size="9.3" fill="#222" stroke="#222">0</text><path d="M237.7 192.80 h-1.8" stroke="#555" stroke-width="0.5"/><text x="240.3" y="195.9" font-size="9.3" fill="#222" stroke="#222">0.1</text><path d="M237.7 172.30 h-1.8" stroke="#555" stroke-width="0.5"/><text x="240.3" y="175.4" font-size="9.3" fill="#222" stroke="#222">0.2</text><path d="M237.7 151.80 h-1.8" stroke="#555" stroke-width="0.5"/><text x="240.3" y="154.9" font-size="9.3" fill="#222" stroke="#222">0.3</text><path d="M237.7 131.30 h-1.8" stroke="#555" stroke-width="0.5"/><text x="240.3" y="134.4" font-size="9.3" fill="#222" stroke="#222">0.4</text><path d="M237.7 110.80 h-1.8" stroke="#555" stroke-width="0.5"/><text x="240.3" y="113.9" font-size="9.3" fill="#222" stroke="#222">0.5</text><path d="M237.7 90.30 h-1.8" stroke="#555" stroke-width="0.5"/><text x="240.3" y="93.4" font-size="9.3" fill="#222" stroke="#222">0.6</text><path d="M237.7 69.80 h-1.8" stroke="#555" stroke-width="0.5"/><text x="240.3" y="72.9" font-size="9.3" fill="#222" stroke="#222">0.7</text><path d="M237.7 49.30 h-1.8" stroke="#555" stroke-width="0.5"/><text x="240.3" y="52.4" font-size="9.3" fill="#222" stroke="#222">0.8</text><path d="M237.7 28.80 h-1.8" stroke="#555" stroke-width="0.5"/><text x="240.3" y="31.9" font-size="9.3" fill="#222" stroke="#222">0.9</text><text x="240.3" y="11.4" font-size="9.3" fill="#222" stroke="#222">1</text>
<rect x="469.6" y="192.80" width="7.5" height="20.80" fill="#1f4082"/><rect x="469.6" y="172.30" width="7.5" height="20.80" fill="#2255a3"/><rect x="469.6" y="151.80" width="7.5" height="20.80" fill="#3574bc"/><rect x="469.6" y="131.30" width="7.5" height="20.80" fill="#4c93d1"/><rect x="469.6" y="110.80" width="7.5" height="20.80" fill="#62abdf"/><rect x="469.6" y="90.30" width="7.5" height="20.80" fill="#7ec3e9"/><rect x="469.6" y="69.80" width="7.5" height="20.80" fill="#9dd4f0"/><rect x="469.6" y="49.30" width="7.5" height="20.80" fill="#bde3f6"/><rect x="469.6" y="28.80" width="7.5" height="20.80" fill="#dcf0fa"/><rect x="469.6" y="8.30" width="7.5" height="20.80" fill="#f0f8fd"/><rect x="469.6" y="8.3" width="7.5" height="205.0" fill="none" stroke="#777" stroke-width="0.6"/><text x="479.7" y="216.4" font-size="9.3" fill="#222" stroke="#222">0</text><path d="M477.1 192.80 h-1.8" stroke="#555" stroke-width="0.5"/><text x="479.7" y="195.9" font-size="9.3" fill="#222" stroke="#222">0.1</text><path d="M477.1 172.30 h-1.8" stroke="#555" stroke-width="0.5"/><text x="479.7" y="175.4" font-size="9.3" fill="#222" stroke="#222">0.2</text><path d="M477.1 151.80 h-1.8" stroke="#555" stroke-width="0.5"/><text x="479.7" y="154.9" font-size="9.3" fill="#222" stroke="#222">0.3</text><path d="M477.1 131.30 h-1.8" stroke="#555" stroke-width="0.5"/><text x="479.7" y="134.4" font-size="9.3" fill="#222" stroke="#222">0.4</text><path d="M477.1 110.80 h-1.8" stroke="#555" stroke-width="0.5"/><text x="479.7" y="113.9" font-size="9.3" fill="#222" stroke="#222">0.5</text><path d="M477.1 90.30 h-1.8" stroke="#555" stroke-width="0.5"/><text x="479.7" y="93.4" font-size="9.3" fill="#222" stroke="#222">0.6</text><path d="M477.1 69.80 h-1.8" stroke="#555" stroke-width="0.5"/><text x="479.7" y="72.9" font-size="9.3" fill="#222" stroke="#222">0.7</text><path d="M477.1 49.30 h-1.8" stroke="#555" stroke-width="0.5"/><text x="479.7" y="52.4" font-size="9.3" fill="#222" stroke="#222">0.8</text><path d="M477.1 28.80 h-1.8" stroke="#555" stroke-width="0.5"/><text x="479.7" y="31.9" font-size="9.3" fill="#222" stroke="#222">0.9</text><text x="479.7" y="11.4" font-size="9.3" fill="#222" stroke="#222">1</text>
<rect x="230.2" y="411.95" width="7.5" height="20.85" fill="#191c46"/><rect x="230.2" y="391.40" width="7.5" height="20.85" fill="#2a3da0"/><rect x="230.2" y="370.85" width="7.5" height="20.85" fill="#237dbe"/><rect x="230.2" y="350.30" width="7.5" height="20.85" fill="#7bafc8"/><rect x="230.2" y="329.75" width="7.5" height="20.85" fill="#c8d4dc"/><rect x="230.2" y="309.20" width="7.5" height="20.85" fill="#edd1c9"/><rect x="230.2" y="288.65" width="7.5" height="20.85" fill="#d88d78"/><rect x="230.2" y="268.10" width="7.5" height="20.85" fill="#c45235"/><rect x="230.2" y="247.55" width="7.5" height="20.85" fill="#8c1233"/><rect x="230.2" y="227.00" width="7.5" height="20.85" fill="#3d0a1b"/><rect x="230.2" y="227.0" width="7.5" height="205.5" fill="none" stroke="#777" stroke-width="0.6"/><text x="240.3" y="435.6" font-size="9.3" fill="#222" stroke="#222">-1</text><path d="M237.7 411.95 h-1.8" stroke="#555" stroke-width="0.5"/><text x="240.3" y="415.1" font-size="9.3" fill="#222" stroke="#222">-0.8</text><path d="M237.7 391.40 h-1.8" stroke="#555" stroke-width="0.5"/><text x="240.3" y="394.5" font-size="9.3" fill="#222" stroke="#222">-0.6</text><path d="M237.7 370.85 h-1.8" stroke="#555" stroke-width="0.5"/><text x="240.3" y="374.0" font-size="9.3" fill="#222" stroke="#222">-0.4</text><path d="M237.7 350.30 h-1.8" stroke="#555" stroke-width="0.5"/><text x="240.3" y="353.4" font-size="9.3" fill="#222" stroke="#222">-0.2</text><path d="M237.7 329.75 h-1.8" stroke="#555" stroke-width="0.5"/><text x="240.3" y="332.9" font-size="9.3" fill="#222" stroke="#222">0</text><path d="M237.7 309.20 h-1.8" stroke="#555" stroke-width="0.5"/><text x="240.3" y="312.3" font-size="9.3" fill="#222" stroke="#222">0.2</text><path d="M237.7 288.65 h-1.8" stroke="#555" stroke-width="0.5"/><text x="240.3" y="291.8" font-size="9.3" fill="#222" stroke="#222">0.4</text><path d="M237.7 268.10 h-1.8" stroke="#555" stroke-width="0.5"/><text x="240.3" y="271.2" font-size="9.3" fill="#222" stroke="#222">0.6</text><path d="M237.7 247.55 h-1.8" stroke="#555" stroke-width="0.5"/><text x="240.3" y="250.7" font-size="9.3" fill="#222" stroke="#222">0.8</text><text x="240.3" y="230.1" font-size="9.3" fill="#222" stroke="#222">1</text>
<rect x="469.6" y="411.95" width="7.5" height="20.85" fill="#191c46"/><rect x="469.6" y="391.40" width="7.5" height="20.85" fill="#2a3da0"/><rect x="469.6" y="370.85" width="7.5" height="20.85" fill="#237dbe"/><rect x="469.6" y="350.30" width="7.5" height="20.85" fill="#7bafc8"/><rect x="469.6" y="329.75" width="7.5" height="20.85" fill="#c8d4dc"/><rect x="469.6" y="309.20" width="7.5" height="20.85" fill="#edd1c9"/><rect x="469.6" y="288.65" width="7.5" height="20.85" fill="#d88d78"/><rect x="469.6" y="268.10" width="7.5" height="20.85" fill="#c45235"/><rect x="469.6" y="247.55" width="7.5" height="20.85" fill="#8c1233"/><rect x="469.6" y="227.00" width="7.5" height="20.85" fill="#3d0a1b"/><rect x="469.6" y="227.0" width="7.5" height="205.5" fill="none" stroke="#777" stroke-width="0.6"/><text x="479.7" y="435.6" font-size="9.3" fill="#222" stroke="#222">-1</text><path d="M477.1 411.95 h-1.8" stroke="#555" stroke-width="0.5"/><text x="479.7" y="415.1" font-size="9.3" fill="#222" stroke="#222">-0.8</text><path d="M477.1 391.40 h-1.8" stroke="#555" stroke-width="0.5"/><text x="479.7" y="394.5" font-size="9.3" fill="#222" stroke="#222">-0.6</text><path d="M477.1 370.85 h-1.8" stroke="#555" stroke-width="0.5"/><text x="479.7" y="374.0" font-size="9.3" fill="#222" stroke="#222">-0.4</text><path d="M477.1 350.30 h-1.8" stroke="#555" stroke-width="0.5"/><text x="479.7" y="353.4" font-size="9.3" fill="#222" stroke="#222">-0.2</text><path d="M477.1 329.75 h-1.8" stroke="#555" stroke-width="0.5"/><text x="479.7" y="332.9" font-size="9.3" fill="#222" stroke="#222">0</text><path d="M477.1 309.20 h-1.8" stroke="#555" stroke-width="0.5"/><text x="479.7" y="312.3" font-size="9.3" fill="#222" stroke="#222">0.2</text><path d="M477.1 288.65 h-1.8" stroke="#555" stroke-width="0.5"/><text x="479.7" y="291.8" font-size="9.3" fill="#222" stroke="#222">0.4</text><path d="M477.1 268.10 h-1.8" stroke="#555" stroke-width="0.5"/><text x="479.7" y="271.2" font-size="9.3" fill="#222" stroke="#222">0.6</text><path d="M477.1 247.55 h-1.8" stroke="#555" stroke-width="0.5"/><text x="479.7" y="250.7" font-size="9.3" fill="#222" stroke="#222">0.8</text><text x="479.7" y="230.1" font-size="9.3" fill="#222" stroke="#222">1</text>
<defs><linearGradient id="mat" x1="0" x2="1" y1="0" y2="0"><stop offset="0" stop-color="#fdedb4"/><stop offset="0.15" stop-color="#fbcf94"/><stop offset="0.3" stop-color="#f5a670"/><stop offset="0.45" stop-color="#e9735f"/><stop offset="0.58" stop-color="#d04b69"/><stop offset="0.7" stop-color="#a9357a"/><stop offset="0.82" stop-color="#7a2a78"/><stop offset="0.92" stop-color="#4c1a5e"/><stop offset="1" stop-color="#2f1040"/></linearGradient><linearGradient id="cb" x1="0" x2="0" y1="1" y2="0"><stop offset="0" stop-color="#f3a774" stop-opacity="0.85"/><stop offset="0.35" stop-color="#f6b880" stop-opacity="0.7"/><stop offset="1" stop-color="#fbd9a0" stop-opacity="0"/></linearGradient><linearGradient id="cl" x1="0" x2="1" y1="0" y2="0"><stop offset="0" stop-color="#f2a070" stop-opacity="0.75"/><stop offset="1" stop-color="#fbd9a0" stop-opacity="0"/></linearGradient><radialGradient id="co" cx="0" cy="1" r="1"><stop offset="0" stop-color="#2f1040"/><stop offset="0.35" stop-color="#5a1f66"/><stop offset="0.6" stop-color="#c2456e" stop-opacity="0.85"/><stop offset="1" stop-color="#f2a070" stop-opacity="0"/></radialGradient><linearGradient id="cd" x1="0" x2="1" y1="0" y2="0"><stop offset="0" stop-color="#2f1040"/><stop offset="0.25" stop-color="#5a1f66"/><stop offset="0.45" stop-color="#b03a73" stop-opacity="0.9"/><stop offset="0.7" stop-color="#ee8f63" stop-opacity="0.7"/><stop offset="1" stop-color="#f8c48c" stop-opacity="0"/></linearGradient><linearGradient id="cv" x1="0" x2="0" y1="1" y2="0"><stop offset="0" stop-color="#3b1452"/><stop offset="0.35" stop-color="#c2456e" stop-opacity="0.85"/><stop offset="1" stop-color="#f2a070" stop-opacity="0"/></linearGradient><linearGradient id="fcol" x1="0" x2="0" y1="1" y2="0"><stop offset="0" stop-color="#fce9b6" stop-opacity="1"/><stop offset="0.2" stop-color="#fdeec6" stop-opacity="0.5"/><stop offset="0.75" stop-color="#fef6df" stop-opacity="0.12"/><stop offset="1" stop-color="#fef6df" stop-opacity="0"/></linearGradient><radialGradient id="cg"><stop offset="0" stop-color="#e9735f" stop-opacity="0.8"/><stop offset="0.5" stop-color="#f5a670" stop-opacity="0.45"/><stop offset="1" stop-color="#fbcf94" stop-opacity="0"/></radialGradient><clipPath id="cc"><rect x="32" y="458.6" width="191.6" height="168.8"/></clipPath><clipPath id="cf"><rect x="271.3" y="458.6" width="191.6" height="168.8"/></clipPath></defs><path d="M70.1 627.4 V458.6M108.2 627.4 V458.6M146.4 627.4 V458.6M184.5 627.4 V458.6M32.0 593.6 H223.6M32.0 559.9 H223.6M32.0 526.1 H223.6M32.0 492.4 H223.6M32.0 458.6 H223.6" stroke="#e2e2e2" stroke-width="0.6" fill="none"/><g clip-path="url(#cc)"><path d="M32.0 627.4 L32.0 458.6 L116.5 458.6 L114.6 458.6 L114.6 460.3 L116.5 460.3 L116.5 465.4 L116.5 465.4 L116.5 467.1 L115.6 467.1 L115.6 472.2 L116.5 472.2 L116.5 475.6 L118.4 475.6 L118.4 477.3 L118.4 477.3 L118.4 479.0 L116.5 479.0 L116.5 480.7 L116.5 480.7 L116.5 484.1 L116.7 484.1 L116.7 485.8 L116.8 485.8 L116.8 490.9 L117.0 490.9 L117.0 492.6 L116.2 492.6 L116.2 497.7 L117.4 497.7 L117.4 499.4 L117.5 499.4 L117.5 504.5 L119.5 504.5 L119.5 506.2 L119.6 506.2 L119.6 511.3 L117.8 511.3 L117.8 513.0 L117.8 513.0 L117.8 514.7 L119.8 514.7 L119.8 516.4 L116.0 516.4 L116.0 519.8 L118.0 519.8 L118.0 524.9 L117.8 524.9 L117.8 530.0 L115.7 530.0 L115.7 535.1 L116.5 535.1 L116.5 540.2 L117.2 540.2 L117.2 541.9 L119.0 541.9 L119.0 547.0 L116.7 547.0 L116.7 548.7 L114.6 548.7 L114.6 550.4 L118.1 550.4 L118.1 555.5 L115.5 555.5 L115.5 560.6 L114.8 560.6 L114.8 565.7 L114.3 565.7 L114.3 569.1 L114.1 569.1 L114.1 574.2 L113.7 574.2 L113.7 577.6 L113.4 577.6 L113.4 582.7 L113.1 582.7 L113.1 586.1 L111.1 586.1 L111.1 587.8 L112.1 587.8 L112.1 589.5 L112.9 589.5 L112.9 591.2 L112.9 591.2 L112.9 596.3 L110.8 596.3 L110.8 601.4 L113.6 601.4 L113.6 604.8 L116.0 604.8 L116.0 608.2 L114.9 608.2 L114.9 613.3 L116.9 613.3 L116.9 615.0 L118.8 615.0 L118.8 618.4 L116.9 618.4 L116.9 621.8 L116.9 621.8 L116.9 625.2 L117.0 627.4Z" fill="#feecb0"/><rect x="80.6" y="458.6" width="36.2" height="168.8" fill="#fde2a0" opacity="0.3"/><path d="M68.1 465.9 h3.8 v1.7 h-3.8zM71.9 513.5 h5.7 v1.7 h-5.7zM62.4 469.3 h3.8 v1.7 h-3.8zM66.2 554.3 h5.7 v1.7 h-5.7zM75.7 474.4 h1.9 v1.7 h-1.9zM52.9 525.4 h3.8 v1.7 h-3.8zM96.6 477.8 h1.9 v1.7 h-1.9zM58.6 503.3 h3.8 v1.7 h-3.8zM43.4 472.7 h1.9 v1.7 h-1.9zM54.8 522.0 h1.9 v1.7 h-1.9zM43.4 533.9 h1.9 v1.7 h-1.9zM113.7 484.6 h5.7 v1.7 h-5.7zM56.7 545.8 h3.8 v1.7 h-3.8zM33.9 561.1 h3.8 v1.7 h-3.8zM52.9 494.8 h1.9 v1.7 h-1.9zM58.6 518.6 h3.8 v1.7 h-3.8zM52.9 498.2 h5.7 v1.7 h-5.7zM58.6 528.8 h1.9 v1.7 h-1.9zM73.8 464.2 h1.9 v1.7 h-1.9zM71.9 544.1 h3.8 v1.7 h-3.8zM51.0 467.6 h3.8 v1.7 h-3.8zM41.5 499.9 h1.9 v1.7 h-1.9zM33.9 540.7 h1.9 v1.7 h-1.9zM66.2 520.3 h1.9 v1.7 h-1.9zM64.3 499.9 h1.9 v1.7 h-1.9zM35.8 494.8 h1.9 v1.7 h-1.9zM35.8 564.5 h5.7 v1.7 h-5.7zM49.1 496.5 h3.8 v1.7 h-3.8zM51.0 498.2 h3.8 v1.7 h-3.8zM60.5 591.7 h1.9 v1.7 h-1.9zM39.6 506.7 h3.8 v1.7 h-3.8zM100.4 496.5 h1.9 v1.7 h-1.9zM71.9 491.4 h1.9 v1.7 h-1.9zM54.8 505.0 h1.9 v1.7 h-1.9zM58.6 508.4 h1.9 v1.7 h-1.9zM35.8 530.5 h3.8 v1.7 h-3.8zM43.4 484.6 h3.8 v1.7 h-3.8zM56.7 474.4 h1.9 v1.7 h-1.9zM35.8 571.3 h1.9 v1.7 h-1.9zM39.6 537.3 h3.8 v1.7 h-3.8zM51.0 559.4 h1.9 v1.7 h-1.9zM71.9 528.8 h3.8 v1.7 h-3.8zM45.3 561.1 h5.7 v1.7 h-5.7zM64.3 539.0 h1.9 v1.7 h-1.9zM47.2 542.4 h1.9 v1.7 h-1.9zM73.8 513.5 h1.9 v1.7 h-1.9zM64.3 467.6 h1.9 v1.7 h-1.9zM62.4 498.2 h3.8 v1.7 h-3.8zM56.7 488.0 h3.8 v1.7 h-3.8zM45.3 511.8 h1.9 v1.7 h-1.9zM35.8 588.3 h1.9 v1.7 h-1.9zM51.0 477.8 h1.9 v1.7 h-1.9zM47.2 472.7 h3.8 v1.7 h-3.8zM51.0 518.6 h1.9 v1.7 h-1.9zM39.6 523.7 h3.8 v1.7 h-3.8zM35.8 578.1 h5.7 v1.7 h-5.7zM94.7 493.1 h3.8 v1.7 h-3.8zM41.5 488.0 h1.9 v1.7 h-1.9zM37.7 562.8 h5.7 v1.7 h-5.7zM62.4 486.3 h1.9 v1.7 h-1.9zM39.6 477.8 h1.9 v1.7 h-1.9zM89.0 522.0 h3.8 v1.7 h-3.8zM41.5 465.9 h3.8 v1.7 h-3.8zM66.2 505.0 h3.8 v1.7 h-3.8zM70.0 460.8 h3.8 v1.7 h-3.8zM51.0 465.9 h5.7 v1.7 h-5.7zM39.6 528.8 h1.9 v1.7 h-1.9zM73.8 498.2 h1.9 v1.7 h-1.9zM75.7 496.5 h3.8 v1.7 h-3.8zM43.4 464.2 h1.9 v1.7 h-1.9zM37.7 488.0 h5.7 v1.7 h-5.7zM33.9 479.5 h1.9 v1.7 h-1.9zM85.2 469.3 h3.8 v1.7 h-3.8zM43.4 467.6 h3.8 v1.7 h-3.8zM54.8 498.2 h1.9 v1.7 h-1.9zM33.9 576.4 h3.8 v1.7 h-3.8zM60.5 537.3 h1.9 v1.7 h-1.9zM75.7 595.1 h3.8 v1.7 h-3.8zM62.4 535.6 h1.9 v1.7 h-1.9zM49.1 482.9 h1.9 v1.7 h-1.9zM43.4 542.4 h1.9 v1.7 h-1.9zM45.3 486.3 h3.8 v1.7 h-3.8zM45.3 479.5 h3.8 v1.7 h-3.8zM56.7 489.7 h1.9 v1.7 h-1.9zM58.6 474.4 h3.8 v1.7 h-3.8zM37.7 503.3 h5.7 v1.7 h-5.7zM33.9 489.7 h1.9 v1.7 h-1.9zM56.7 561.1 h3.8 v1.7 h-3.8zM51.0 527.1 h1.9 v1.7 h-1.9zM49.1 569.6 h5.7 v1.7 h-5.7zM37.7 489.7 h5.7 v1.7 h-5.7zM70.0 535.6 h5.7 v1.7 h-5.7zM41.5 520.3 h1.9 v1.7 h-1.9zM54.8 488.0 h1.9 v1.7 h-1.9zM35.8 464.2 h1.9 v1.7 h-1.9zM35.8 516.9 h5.7 v1.7 h-5.7zM35.8 601.9 h1.9 v1.7 h-1.9zM68.1 467.6 h1.9 v1.7 h-1.9zM70.0 508.4 h3.8 v1.7 h-3.8zM56.7 460.8 h1.9 v1.7 h-1.9zM70.0 501.6 h1.9 v1.7 h-1.9zM68.1 511.8 h1.9 v1.7 h-1.9zM68.1 474.4 h1.9 v1.7 h-1.9zM54.8 476.1 h3.8 v1.7 h-3.8zM66.2 493.1 h5.7 v1.7 h-5.7zM49.1 518.6 h1.9 v1.7 h-1.9zM70.0 520.3 h1.9 v1.7 h-1.9zM47.2 525.4 h1.9 v1.7 h-1.9zM49.1 464.2 h3.8 v1.7 h-3.8zM68.1 573.0 h1.9 v1.7 h-1.9zM71.9 491.4 h1.9 v1.7 h-1.9zM43.4 506.7 h3.8 v1.7 h-3.8zM54.8 496.5 h5.7 v1.7 h-5.7zM71.9 459.1 h5.7 v1.7 h-5.7zM58.6 494.8 h1.9 v1.7 h-1.9zM41.5 516.9 h5.7 v1.7 h-5.7zM49.1 503.3 h3.8 v1.7 h-3.8zM51.0 527.1 h3.8 v1.7 h-3.8zM98.5 501.6 h1.9 v1.7 h-1.9zM33.9 564.5 h3.8 v1.7 h-3.8zM37.7 460.8 h3.8 v1.7 h-3.8zM35.8 591.7 h5.7 v1.7 h-5.7zM41.5 579.8 h1.9 v1.7 h-1.9zM37.7 552.6 h5.7 v1.7 h-5.7zM54.8 528.8 h1.9 v1.7 h-1.9zM45.3 518.6 h1.9 v1.7 h-1.9zM35.8 513.5 h5.7 v1.7 h-5.7zM37.7 494.8 h3.8 v1.7 h-3.8zM33.9 472.7 h5.7 v1.7 h-5.7zM113.7 535.6 h1.9 v1.7 h-1.9zM73.8 472.7 h1.9 v1.7 h-1.9zM39.6 506.7 h1.9 v1.7 h-1.9zM37.7 508.4 h5.7 v1.7 h-5.7zM62.4 511.8 h5.7 v1.7 h-5.7zM106.1 481.2 h3.8 v1.7 h-3.8zM58.6 513.5 h1.9 v1.7 h-1.9zM45.3 510.1 h3.8 v1.7 h-3.8zM75.7 539.0 h1.9 v1.7 h-1.9zM64.3 505.0 h3.8 v1.7 h-3.8zM68.1 522.0 h1.9 v1.7 h-1.9zM64.3 511.8 h1.9 v1.7 h-1.9zM33.9 581.5 h3.8 v1.7 h-3.8zM33.9 460.8 h1.9 v1.7 h-1.9zM87.1 501.6 h1.9 v1.7 h-1.9zM56.7 491.4 h5.7 v1.7 h-5.7zM66.2 503.3 h1.9 v1.7 h-1.9zM37.7 481.2 h3.8 v1.7 h-3.8zM52.9 464.2 h1.9 v1.7 h-1.9zM68.1 510.1 h1.9 v1.7 h-1.9zM47.2 493.1 h1.9 v1.7 h-1.9zM52.9 527.1 h1.9 v1.7 h-1.9zM33.9 467.6 h5.7 v1.7 h-5.7zM35.8 556.0 h1.9 v1.7 h-1.9zM39.6 564.5 h1.9 v1.7 h-1.9zM66.2 554.3 h1.9 v1.7 h-1.9zM45.3 537.3 h1.9 v1.7 h-1.9zM33.9 477.8 h3.8 v1.7 h-3.8zM43.4 510.1 h1.9 v1.7 h-1.9zM33.9 469.3 h1.9 v1.7 h-1.9zM56.7 496.5 h3.8 v1.7 h-3.8zM35.8 530.5 h1.9 v1.7 h-1.9zM47.2 501.6 h1.9 v1.7 h-1.9zM37.7 574.7 h5.7 v1.7 h-5.7zM54.8 496.5 h5.7 v1.7 h-5.7zM68.1 489.7 h1.9 v1.7 h-1.9zM51.0 482.9 h1.9 v1.7 h-1.9zM62.4 506.7 h1.9 v1.7 h-1.9zM81.4 523.7 h3.8 v1.7 h-3.8zM35.8 537.3 h1.9 v1.7 h-1.9zM62.4 477.8 h1.9 v1.7 h-1.9zM52.9 474.4 h1.9 v1.7 h-1.9zM54.8 593.4 h1.9 v1.7 h-1.9zM64.3 479.5 h1.9 v1.7 h-1.9zM56.7 554.3 h5.7 v1.7 h-5.7zM37.7 520.3 h1.9 v1.7 h-1.9zM52.9 552.6 h1.9 v1.7 h-1.9zM33.9 496.5 h1.9 v1.7 h-1.9zM54.8 496.5 h1.9 v1.7 h-1.9zM37.7 578.1 h3.8 v1.7 h-3.8zM51.0 607.0 h1.9 v1.7 h-1.9zM96.6 471.0 h5.7 v1.7 h-5.7zM47.2 481.2 h1.9 v1.7 h-1.9zM85.2 508.4 h5.7 v1.7 h-5.7zM64.3 474.4 h1.9 v1.7 h-1.9zM70.0 482.9 h1.9 v1.7 h-1.9zM58.6 493.1 h1.9 v1.7 h-1.9zM35.8 590.0 h5.7 v1.7 h-5.7zM35.8 559.4 h1.9 v1.7 h-1.9zM54.8 528.8 h3.8 v1.7 h-3.8zM81.4 477.8 h1.9 v1.7 h-1.9zM70.0 523.7 h3.8 v1.7 h-3.8zM49.1 508.4 h1.9 v1.7 h-1.9zM66.2 465.9 h1.9 v1.7 h-1.9zM56.7 530.5 h1.9 v1.7 h-1.9zM54.8 607.0 h1.9 v1.7 h-1.9zM43.4 481.2 h3.8 v1.7 h-3.8zM41.5 525.4 h5.7 v1.7 h-5.7zM35.8 537.3 h5.7 v1.7 h-5.7zM58.6 503.3 h3.8 v1.7 h-3.8zM39.6 471.0 h3.8 v1.7 h-3.8zM52.9 464.2 h1.9 v1.7 h-1.9zM75.7 491.4 h3.8 v1.7 h-3.8zM71.9 460.8 h3.8 v1.7 h-3.8zM60.5 488.0 h1.9 v1.7 h-1.9zM41.5 566.2 h1.9 v1.7 h-1.9zM35.8 523.7 h5.7 v1.7 h-5.7zM43.4 459.1 h1.9 v1.7 h-1.9zM60.5 501.6 h3.8 v1.7 h-3.8zM45.3 549.2 h1.9 v1.7 h-1.9zM54.8 535.6 h3.8 v1.7 h-3.8zM60.5 527.1 h1.9 v1.7 h-1.9zM35.8 566.2 h3.8 v1.7 h-3.8zM56.7 535.6 h3.8 v1.7 h-3.8zM60.5 488.0 h5.7 v1.7 h-5.7zM51.0 549.2 h5.7 v1.7 h-5.7zM45.3 484.6 h3.8 v1.7 h-3.8zM64.3 508.4 h5.7 v1.7 h-5.7zM58.6 498.2 h3.8 v1.7 h-3.8zM73.8 486.3 h3.8 v1.7 h-3.8zM39.6 494.8 h1.9 v1.7 h-1.9zM70.0 559.4 h5.7 v1.7 h-5.7zM90.9 465.9 h1.9 v1.7 h-1.9zM51.0 576.4 h1.9 v1.7 h-1.9zM35.8 584.9 h1.9 v1.7 h-1.9zM41.5 573.0 h1.9 v1.7 h-1.9zM89.0 505.0 h1.9 v1.7 h-1.9zM43.4 472.7 h3.8 v1.7 h-3.8zM68.1 532.2 h1.9 v1.7 h-1.9zM33.9 476.1 h1.9 v1.7 h-1.9zM70.0 510.1 h3.8 v1.7 h-3.8zM68.1 591.7 h1.9 v1.7 h-1.9zM39.6 491.4 h1.9 v1.7 h-1.9zM64.3 511.8 h1.9 v1.7 h-1.9zM68.1 523.7 h1.9 v1.7 h-1.9zM37.7 561.1 h3.8 v1.7 h-3.8zM49.1 494.8 h1.9 v1.7 h-1.9zM41.5 545.8 h3.8 v1.7 h-3.8zM52.9 482.9 h3.8 v1.7 h-3.8zM41.5 533.9 h1.9 v1.7 h-1.9zM60.5 484.6 h3.8 v1.7 h-3.8zM35.8 476.1 h1.9 v1.7 h-1.9zM64.3 501.6 h1.9 v1.7 h-1.9zM73.8 530.5 h1.9 v1.7 h-1.9zM33.9 476.1 h5.7 v1.7 h-5.7zM35.8 503.3 h5.7 v1.7 h-5.7zM70.0 491.4 h1.9 v1.7 h-1.9zM52.9 508.4 h1.9 v1.7 h-1.9zM49.1 464.2 h1.9 v1.7 h-1.9zM54.8 590.0 h3.8 v1.7 h-3.8zM54.8 540.7 h1.9 v1.7 h-1.9zM35.8 547.5 h3.8 v1.7 h-3.8zM41.5 471.0 h1.9 v1.7 h-1.9zM66.2 498.2 h1.9 v1.7 h-1.9zM68.1 527.1 h5.7 v1.7 h-5.7zM58.6 491.4 h5.7 v1.7 h-5.7zM87.1 508.4 h1.9 v1.7 h-1.9zM49.1 532.2 h1.9 v1.7 h-1.9zM45.3 528.8 h1.9 v1.7 h-1.9zM56.7 510.1 h3.8 v1.7 h-3.8zM33.9 542.4 h1.9 v1.7 h-1.9zM33.9 603.6 h3.8 v1.7 h-3.8zM81.4 511.8 h3.8 v1.7 h-3.8zM79.5 460.8 h3.8 v1.7 h-3.8zM45.3 501.6 h3.8 v1.7 h-3.8zM37.7 472.7 h1.9 v1.7 h-1.9zM35.8 564.5 h3.8 v1.7 h-3.8zM73.8 496.5 h3.8 v1.7 h-3.8zM39.6 556.0 h3.8 v1.7 h-3.8zM64.3 486.3 h1.9 v1.7 h-1.9zM66.2 528.8 h1.9 v1.7 h-1.9zM58.6 503.3 h3.8 v1.7 h-3.8zM64.3 460.8 h1.9 v1.7 h-1.9zM56.7 508.4 h3.8 v1.7 h-3.8zM56.7 540.7 h1.9 v1.7 h-1.9zM58.6 472.7 h1.9 v1.7 h-1.9zM47.2 501.6 h3.8 v1.7 h-3.8zM111.8 465.9 h1.9 v1.7 h-1.9zM73.8 472.7 h1.9 v1.7 h-1.9zM35.8 574.7 h1.9 v1.7 h-1.9zM35.8 540.7 h1.9 v1.7 h-1.9zM35.8 540.7 h1.9 v1.7 h-1.9zM33.9 471.0 h3.8 v1.7 h-3.8zM54.8 544.1 h1.9 v1.7 h-1.9zM43.4 471.0 h1.9 v1.7 h-1.9zM64.3 579.8 h1.9 v1.7 h-1.9zM49.1 503.3 h5.7 v1.7 h-5.7zM43.4 528.8 h1.9 v1.7 h-1.9zM70.0 503.3 h5.7 v1.7 h-5.7zM70.0 474.4 h1.9 v1.7 h-1.9zM47.2 488.0 h3.8 v1.7 h-3.8zM47.2 472.7 h1.9 v1.7 h-1.9zM54.8 482.9 h5.7 v1.7 h-5.7zM52.9 494.8 h3.8 v1.7 h-3.8zM47.2 479.5 h1.9 v1.7 h-1.9zM35.8 559.4 h1.9 v1.7 h-1.9zM35.8 567.9 h3.8 v1.7 h-3.8zM70.0 499.9 h3.8 v1.7 h-3.8zM60.5 481.2 h1.9 v1.7 h-1.9zM66.2 530.5 h1.9 v1.7 h-1.9zM52.9 494.8 h3.8 v1.7 h-3.8zM35.8 549.2 h3.8 v1.7 h-3.8zM77.6 465.9 h5.7 v1.7 h-5.7zM66.2 528.8 h3.8 v1.7 h-3.8zM37.7 598.5 h3.8 v1.7 h-3.8zM71.9 462.5 h1.9 v1.7 h-1.9zM41.5 472.7 h5.7 v1.7 h-5.7zM35.8 484.6 h1.9 v1.7 h-1.9zM70.0 462.5 h1.9 v1.7 h-1.9zM66.2 462.5 h1.9 v1.7 h-1.9zM62.4 462.5 h1.9 v1.7 h-1.9zM43.4 498.2 h1.9 v1.7 h-1.9zM33.9 578.1 h3.8 v1.7 h-3.8zM37.7 511.8 h5.7 v1.7 h-5.7zM35.8 564.5 h1.9 v1.7 h-1.9zM41.5 477.8 h3.8 v1.7 h-3.8zM43.4 566.2 h3.8 v1.7 h-3.8zM60.5 460.8 h3.8 v1.7 h-3.8zM49.1 569.6 h1.9 v1.7 h-1.9zM66.2 528.8 h1.9 v1.7 h-1.9zM71.9 482.9 h1.9 v1.7 h-1.9zM51.0 513.5 h1.9 v1.7 h-1.9zM33.9 588.3 h1.9 v1.7 h-1.9zM52.9 557.7 h3.8 v1.7 h-3.8zM60.5 467.6 h3.8 v1.7 h-3.8zM98.5 471.0 h1.9 v1.7 h-1.9zM35.8 544.1 h1.9 v1.7 h-1.9zM58.6 540.7 h1.9 v1.7 h-1.9zM70.0 518.6 h1.9 v1.7 h-1.9zM33.9 596.8 h1.9 v1.7 h-1.9zM49.1 535.6 h3.8 v1.7 h-3.8zM71.9 544.1 h1.9 v1.7 h-1.9zM56.7 482.9 h5.7 v1.7 h-5.7zM33.9 522.0 h1.9 v1.7 h-1.9zM68.1 471.0 h1.9 v1.7 h-1.9zM62.4 505.0 h3.8 v1.7 h-3.8zM47.2 527.1 h1.9 v1.7 h-1.9zM35.8 601.9 h1.9 v1.7 h-1.9zM35.8 537.3 h3.8 v1.7 h-3.8zM35.8 481.2 h3.8 v1.7 h-3.8zM35.8 477.8 h3.8 v1.7 h-3.8zM70.0 510.1 h1.9 v1.7 h-1.9zM41.5 520.3 h3.8 v1.7 h-3.8zM45.3 544.1 h5.7 v1.7 h-5.7zM58.6 532.2 h1.9 v1.7 h-1.9zM73.8 513.5 h1.9 v1.7 h-1.9zM45.3 459.1 h5.7 v1.7 h-5.7zM51.0 525.4 h3.8 v1.7 h-3.8zM35.8 562.8 h3.8 v1.7 h-3.8zM66.2 561.1 h3.8 v1.7 h-3.8zM41.5 561.1 h3.8 v1.7 h-3.8zM43.4 544.1 h1.9 v1.7 h-1.9zM62.4 532.2 h3.8 v1.7 h-3.8zM39.6 476.1 h3.8 v1.7 h-3.8zM64.3 471.0 h1.9 v1.7 h-1.9zM71.9 465.9 h3.8 v1.7 h-3.8zM51.0 532.2 h5.7 v1.7 h-5.7zM37.7 474.4 h3.8 v1.7 h-3.8zM37.7 477.8 h1.9 v1.7 h-1.9zM45.3 530.5 h1.9 v1.7 h-1.9zM45.3 496.5 h1.9 v1.7 h-1.9zM68.1 537.3 h5.7 v1.7 h-5.7zM47.2 528.8 h1.9 v1.7 h-1.9zM37.7 545.8 h3.8 v1.7 h-3.8zM41.5 477.8 h1.9 v1.7 h-1.9zM75.7 476.1 h3.8 v1.7 h-3.8zM47.2 484.6 h1.9 v1.7 h-1.9zM39.6 539.0 h1.9 v1.7 h-1.9zM58.6 498.2 h5.7 v1.7 h-5.7zM47.2 539.0 h1.9 v1.7 h-1.9zM39.6 484.6 h3.8 v1.7 h-3.8zM51.0 544.1 h1.9 v1.7 h-1.9zM43.4 511.8 h5.7 v1.7 h-5.7zM54.8 465.9 h3.8 v1.7 h-3.8zM73.8 484.6 h1.9 v1.7 h-1.9zM66.2 464.2 h5.7 v1.7 h-5.7zM70.0 617.2 h1.9 v1.7 h-1.9zM33.9 586.6 h1.9 v1.7 h-1.9zM33.9 477.8 h1.9 v1.7 h-1.9zM37.7 573.0 h5.7 v1.7 h-5.7zM45.3 523.7 h1.9 v1.7 h-1.9zM47.2 579.8 h3.8 v1.7 h-3.8zM35.8 460.8 h1.9 v1.7 h-1.9zM64.3 489.7 h1.9 v1.7 h-1.9zM75.7 496.5 h1.9 v1.7 h-1.9zM77.6 471.0 h1.9 v1.7 h-1.9zM41.5 494.8 h5.7 v1.7 h-5.7zM58.6 474.4 h5.7 v1.7 h-5.7zM75.7 491.4 h3.8 v1.7 h-3.8zM68.1 513.5 h3.8 v1.7 h-3.8zM49.1 586.6 h3.8 v1.7 h-3.8zM37.7 590.0 h3.8 v1.7 h-3.8zM33.9 476.1 h1.9 v1.7 h-1.9zM66.2 467.6 h5.7 v1.7 h-5.7zM75.7 528.8 h3.8 v1.7 h-3.8zM54.8 523.7 h1.9 v1.7 h-1.9zM33.9 562.8 h1.9 v1.7 h-1.9zM39.6 510.1 h1.9 v1.7 h-1.9zM37.7 540.7 h5.7 v1.7 h-5.7zM77.6 505.0 h5.7 v1.7 h-5.7zM33.9 596.8 h3.8 v1.7 h-3.8zM60.5 503.3 h1.9 v1.7 h-1.9zM58.6 508.4 h1.9 v1.7 h-1.9zM60.5 515.2 h3.8 v1.7 h-3.8zM45.3 472.7 h1.9 v1.7 h-1.9zM33.9 488.0 h3.8 v1.7 h-3.8zM70.0 540.7 h1.9 v1.7 h-1.9zM39.6 520.3 h5.7 v1.7 h-5.7zM58.6 464.2 h1.9 v1.7 h-1.9zM58.6 471.0 h1.9 v1.7 h-1.9zM60.5 491.4 h3.8 v1.7 h-3.8zM60.5 494.8 h5.7 v1.7 h-5.7zM62.4 554.3 h3.8 v1.7 h-3.8zM47.2 496.5 h3.8 v1.7 h-3.8zM52.9 489.7 h1.9 v1.7 h-1.9zM39.6 506.7 h3.8 v1.7 h-3.8zM68.1 539.0 h1.9 v1.7 h-1.9zM41.5 522.0 h3.8 v1.7 h-3.8zM62.4 496.5 h1.9 v1.7 h-1.9zM39.6 532.2 h3.8 v1.7 h-3.8zM58.6 469.3 h3.8 v1.7 h-3.8zM35.8 550.9 h1.9 v1.7 h-1.9zM75.7 569.6 h1.9 v1.7 h-1.9zM83.3 460.8 h5.7 v1.7 h-5.7zM37.7 501.6 h1.9 v1.7 h-1.9zM39.6 528.8 h1.9 v1.7 h-1.9zM35.8 469.3 h1.9 v1.7 h-1.9zM66.2 583.2 h3.8 v1.7 h-3.8zM51.0 462.5 h3.8 v1.7 h-3.8zM62.4 527.1 h3.8 v1.7 h-3.8zM49.1 489.7 h5.7 v1.7 h-5.7zM71.9 493.1 h5.7 v1.7 h-5.7zM104.2 469.3 h3.8 v1.7 h-3.8zM77.6 462.5 h3.8 v1.7 h-3.8zM51.0 511.8 h1.9 v1.7 h-1.9zM64.3 510.1 h3.8 v1.7 h-3.8zM52.9 505.0 h3.8 v1.7 h-3.8zM54.8 522.0 h3.8 v1.7 h-3.8zM89.0 554.3 h1.9 v1.7 h-1.9zM33.9 486.3 h3.8 v1.7 h-3.8zM39.6 544.1 h1.9 v1.7 h-1.9zM66.2 496.5 h3.8 v1.7 h-3.8zM45.3 482.9 h3.8 v1.7 h-3.8zM62.4 505.0 h1.9 v1.7 h-1.9zM43.4 523.7 h3.8 v1.7 h-3.8zM43.4 518.6 h1.9 v1.7 h-1.9zM70.0 472.7 h1.9 v1.7 h-1.9zM35.8 499.9 h1.9 v1.7 h-1.9zM35.8 479.5 h1.9 v1.7 h-1.9zM52.9 494.8 h5.7 v1.7 h-5.7zM47.2 484.6 h1.9 v1.7 h-1.9zM66.2 505.0 h3.8 v1.7 h-3.8zM35.8 532.2 h1.9 v1.7 h-1.9zM45.3 494.8 h1.9 v1.7 h-1.9zM79.5 494.8 h5.7 v1.7 h-5.7zM68.1 486.3 h1.9 v1.7 h-1.9zM73.8 474.4 h1.9 v1.7 h-1.9zM51.0 465.9 h1.9 v1.7 h-1.9zM52.9 498.2 h1.9 v1.7 h-1.9zM66.2 477.8 h5.7 v1.7 h-5.7zM73.8 544.1 h3.8 v1.7 h-3.8zM43.4 523.7 h3.8 v1.7 h-3.8zM37.7 499.9 h1.9 v1.7 h-1.9zM58.6 465.9 h1.9 v1.7 h-1.9zM79.5 569.6 h1.9 v1.7 h-1.9zM49.1 550.9 h1.9 v1.7 h-1.9zM41.5 530.5 h1.9 v1.7 h-1.9zM41.5 508.4 h1.9 v1.7 h-1.9zM64.3 583.2 h3.8 v1.7 h-3.8zM37.7 552.6 h5.7 v1.7 h-5.7zM75.7 518.6 h1.9 v1.7 h-1.9zM33.9 573.0 h3.8 v1.7 h-3.8zM37.7 591.7 h3.8 v1.7 h-3.8zM66.2 477.8 h1.9 v1.7 h-1.9zM73.8 493.1 h1.9 v1.7 h-1.9zM35.8 469.3 h3.8 v1.7 h-3.8zM41.5 501.6 h3.8 v1.7 h-3.8zM96.6 581.5 h1.9 v1.7 h-1.9zM64.3 574.7 h1.9 v1.7 h-1.9zM68.1 556.0 h3.8 v1.7 h-3.8zM58.6 479.5 h1.9 v1.7 h-1.9zM47.2 522.0 h5.7 v1.7 h-5.7zM39.6 520.3 h3.8 v1.7 h-3.8zM47.2 506.7 h1.9 v1.7 h-1.9zM62.4 471.0 h1.9 v1.7 h-1.9zM33.9 491.4 h3.8 v1.7 h-3.8zM70.0 549.2 h3.8 v1.7 h-3.8zM58.6 467.6 h1.9 v1.7 h-1.9zM39.6 462.5 h5.7 v1.7 h-5.7zM35.8 471.0 h3.8 v1.7 h-3.8zM54.8 562.8 h1.9 v1.7 h-1.9zM113.7 460.8 h5.7 v1.7 h-5.7zM85.2 465.9 h1.9 v1.7 h-1.9zM58.6 542.4 h3.8 v1.7 h-3.8zM71.9 489.7 h1.9 v1.7 h-1.9zM33.9 579.8 h5.7 v1.7 h-5.7zM60.5 527.1 h1.9 v1.7 h-1.9zM43.4 518.6 h1.9 v1.7 h-1.9zM37.7 467.6 h3.8 v1.7 h-3.8zM90.9 471.0 h3.8 v1.7 h-3.8zM41.5 539.0 h3.8 v1.7 h-3.8zM47.2 520.3 h1.9 v1.7 h-1.9zM45.3 477.8 h3.8 v1.7 h-3.8zM33.9 489.7 h3.8 v1.7 h-3.8zM70.0 482.9 h3.8 v1.7 h-3.8zM62.4 559.4 h5.7 v1.7 h-5.7zM43.4 525.4 h3.8 v1.7 h-3.8zM39.6 510.1 h1.9 v1.7 h-1.9zM68.1 481.2 h1.9 v1.7 h-1.9zM45.3 528.8 h1.9 v1.7 h-1.9zM39.6 525.4 h3.8 v1.7 h-3.8zM45.3 477.8 h5.7 v1.7 h-5.7zM35.8 583.2 h1.9 v1.7 h-1.9zM37.7 566.2 h5.7 v1.7 h-5.7zM62.4 518.6 h1.9 v1.7 h-1.9zM33.9 486.3 h1.9 v1.7 h-1.9zM52.9 496.5 h1.9 v1.7 h-1.9zM77.6 467.6 h5.7 v1.7 h-5.7zM79.5 547.5 h5.7 v1.7 h-5.7zM66.2 481.2 h5.7 v1.7 h-5.7zM68.1 467.6 h1.9 v1.7 h-1.9zM62.4 493.1 h3.8 v1.7 h-3.8zM39.6 542.4 h1.9 v1.7 h-1.9zM77.6 528.8 h1.9 v1.7 h-1.9zM60.5 515.2 h1.9 v1.7 h-1.9zM70.0 584.9 h5.7 v1.7 h-5.7zM62.4 505.0 h1.9 v1.7 h-1.9zM51.0 477.8 h3.8 v1.7 h-3.8zM56.7 532.2 h1.9 v1.7 h-1.9zM56.7 460.8 h3.8 v1.7 h-3.8zM45.3 557.7 h1.9 v1.7 h-1.9zM56.7 479.5 h5.7 v1.7 h-5.7zM35.8 493.1 h3.8 v1.7 h-3.8zM51.0 569.6 h5.7 v1.7 h-5.7zM62.4 488.0 h1.9 v1.7 h-1.9zM58.6 496.5 h3.8 v1.7 h-3.8zM47.2 573.0 h1.9 v1.7 h-1.9zM49.1 513.5 h3.8 v1.7 h-3.8zM41.5 489.7 h1.9 v1.7 h-1.9zM51.0 467.6 h3.8 v1.7 h-3.8zM64.3 476.1 h1.9 v1.7 h-1.9zM37.7 474.4 h3.8 v1.7 h-3.8zM37.7 516.9 h3.8 v1.7 h-3.8zM51.0 550.9 h3.8 v1.7 h-3.8zM51.0 544.1 h1.9 v1.7 h-1.9zM35.8 484.6 h1.9 v1.7 h-1.9zM45.3 566.2 h1.9 v1.7 h-1.9zM54.8 477.8 h1.9 v1.7 h-1.9zM51.0 516.9 h3.8 v1.7 h-3.8zM51.0 464.2 h1.9 v1.7 h-1.9zM66.2 462.5 h3.8 v1.7 h-3.8zM43.4 477.8 h1.9 v1.7 h-1.9zM56.7 510.1 h5.7 v1.7 h-5.7zM33.9 532.2 h1.9 v1.7 h-1.9zM56.7 499.9 h5.7 v1.7 h-5.7zM58.6 523.7 h3.8 v1.7 h-3.8zM68.1 527.1 h3.8 v1.7 h-3.8zM43.4 508.4 h5.7 v1.7 h-5.7zM49.1 462.5 h1.9 v1.7 h-1.9zM35.8 535.6 h1.9 v1.7 h-1.9zM37.7 523.7 h1.9 v1.7 h-1.9zM73.8 484.6 h5.7 v1.7 h-5.7zM52.9 477.8 h1.9 v1.7 h-1.9zM89.0 510.1 h1.9 v1.7 h-1.9zM58.6 488.0 h3.8 v1.7 h-3.8zM33.9 586.6 h1.9 v1.7 h-1.9zM102.3 464.2 h1.9 v1.7 h-1.9zM43.4 557.7 h1.9 v1.7 h-1.9zM52.9 472.7 h1.9 v1.7 h-1.9zM37.7 464.2 h5.7 v1.7 h-5.7zM37.7 469.3 h3.8 v1.7 h-3.8zM52.9 482.9 h5.7 v1.7 h-5.7zM43.4 477.8 h1.9 v1.7 h-1.9zM64.3 494.8 h5.7 v1.7 h-5.7zM66.2 467.6 h3.8 v1.7 h-3.8zM51.0 505.0 h1.9 v1.7 h-1.9zM54.8 505.0 h1.9 v1.7 h-1.9zM33.9 600.2 h3.8 v1.7 h-3.8zM37.7 469.3 h3.8 v1.7 h-3.8zM64.3 503.3 h5.7 v1.7 h-5.7zM51.0 506.7 h1.9 v1.7 h-1.9zM52.9 481.2 h3.8 v1.7 h-3.8zM89.0 464.2 h5.7 v1.7 h-5.7zM33.9 539.0 h3.8 v1.7 h-3.8zM37.7 465.9 h3.8 v1.7 h-3.8zM41.5 518.6 h5.7 v1.7 h-5.7zM58.6 482.9 h5.7 v1.7 h-5.7zM71.9 530.5 h1.9 v1.7 h-1.9zM70.0 471.0 h3.8 v1.7 h-3.8zM51.0 491.4 h1.9 v1.7 h-1.9zM60.5 474.4 h1.9 v1.7 h-1.9zM73.8 481.2 h3.8 v1.7 h-3.8zM37.7 544.1 h3.8 v1.7 h-3.8zM58.6 508.4 h1.9 v1.7 h-1.9zM56.7 467.6 h1.9 v1.7 h-1.9zM100.4 515.2 h3.8 v1.7 h-3.8zM102.3 464.2 h1.9 v1.7 h-1.9zM45.3 489.7 h3.8 v1.7 h-3.8zM33.9 593.4 h3.8 v1.7 h-3.8zM41.5 567.9 h1.9 v1.7 h-1.9zM49.1 530.5 h1.9 v1.7 h-1.9zM68.1 525.4 h1.9 v1.7 h-1.9zM51.0 488.0 h1.9 v1.7 h-1.9zM66.2 467.6 h3.8 v1.7 h-3.8zM45.3 567.9 h1.9 v1.7 h-1.9zM47.2 499.9 h1.9 v1.7 h-1.9zM52.9 479.5 h1.9 v1.7 h-1.9zM52.9 567.9 h1.9 v1.7 h-1.9zM64.3 542.4 h1.9 v1.7 h-1.9zM58.6 491.4 h1.9 v1.7 h-1.9zM68.1 505.0 h1.9 v1.7 h-1.9zM37.7 499.9 h3.8 v1.7 h-3.8zM54.8 515.2 h3.8 v1.7 h-3.8zM47.2 508.4 h5.7 v1.7 h-5.7zM54.8 465.9 h1.9 v1.7 h-1.9zM51.0 544.1 h3.8 v1.7 h-3.8zM102.3 464.2 h1.9 v1.7 h-1.9zM79.5 481.2 h1.9 v1.7 h-1.9zM68.1 530.5 h1.9 v1.7 h-1.9zM39.6 477.8 h1.9 v1.7 h-1.9zM54.8 467.6 h1.9 v1.7 h-1.9zM66.2 476.1 h3.8 v1.7 h-3.8zM58.6 612.1 h3.8 v1.7 h-3.8zM39.6 469.3 h5.7 v1.7 h-5.7zM77.6 511.8 h3.8 v1.7 h-3.8zM54.8 542.4 h5.7 v1.7 h-5.7zM56.7 499.9 h1.9 v1.7 h-1.9zM43.4 527.1 h1.9 v1.7 h-1.9zM33.9 593.4 h3.8 v1.7 h-3.8zM45.3 559.4 h1.9 v1.7 h-1.9zM43.4 515.2 h1.9 v1.7 h-1.9zM35.8 581.5 h3.8 v1.7 h-3.8zM54.8 474.4 h1.9 v1.7 h-1.9zM45.3 476.1 h1.9 v1.7 h-1.9zM71.9 511.8 h1.9 v1.7 h-1.9zM47.2 506.7 h1.9 v1.7 h-1.9zM66.2 505.0 h1.9 v1.7 h-1.9zM70.0 550.9 h5.7 v1.7 h-5.7zM98.5 561.1 h1.9 v1.7 h-1.9zM51.0 467.6 h1.9 v1.7 h-1.9zM60.5 503.3 h1.9 v1.7 h-1.9zM94.7 494.8 h1.9 v1.7 h-1.9zM54.8 539.0 h1.9 v1.7 h-1.9zM66.2 479.5 h1.9 v1.7 h-1.9zM73.8 491.4 h3.8 v1.7 h-3.8zM35.8 561.1 h1.9 v1.7 h-1.9zM58.6 567.9 h1.9 v1.7 h-1.9zM58.6 539.0 h5.7 v1.7 h-5.7zM62.4 486.3 h5.7 v1.7 h-5.7zM45.3 545.8 h3.8 v1.7 h-3.8zM35.8 562.8 h1.9 v1.7 h-1.9zM47.2 471.0 h1.9 v1.7 h-1.9zM35.8 549.2 h3.8 v1.7 h-3.8zM35.8 482.9 h1.9 v1.7 h-1.9zM98.5 474.4 h1.9 v1.7 h-1.9zM66.2 491.4 h3.8 v1.7 h-3.8zM45.3 542.4 h1.9 v1.7 h-1.9zM47.2 503.3 h1.9 v1.7 h-1.9zM66.2 564.5 h1.9 v1.7 h-1.9zM71.9 505.0 h3.8 v1.7 h-3.8zM62.4 532.2 h3.8 v1.7 h-3.8zM43.4 545.8 h3.8 v1.7 h-3.8zM45.3 467.6 h3.8 v1.7 h-3.8zM98.5 479.5 h1.9 v1.7 h-1.9zM35.8 516.9 h1.9 v1.7 h-1.9zM52.9 474.4 h3.8 v1.7 h-3.8zM73.8 491.4 h3.8 v1.7 h-3.8zM79.5 486.3 h1.9 v1.7 h-1.9zM56.7 460.8 h1.9 v1.7 h-1.9zM64.3 486.3 h5.7 v1.7 h-5.7zM43.4 550.9 h1.9 v1.7 h-1.9zM60.5 523.7 h1.9 v1.7 h-1.9zM60.5 471.0 h1.9 v1.7 h-1.9zM49.1 503.3 h1.9 v1.7 h-1.9zM43.4 494.8 h5.7 v1.7 h-5.7zM60.5 469.3 h3.8 v1.7 h-3.8zM71.9 486.3 h3.8 v1.7 h-3.8zM73.8 506.7 h5.7 v1.7 h-5.7zM64.3 477.8 h3.8 v1.7 h-3.8zM35.8 601.9 h1.9 v1.7 h-1.9zM73.8 465.9 h5.7 v1.7 h-5.7zM52.9 561.1 h3.8 v1.7 h-3.8zM35.8 552.6 h1.9 v1.7 h-1.9zM39.6 527.1 h1.9 v1.7 h-1.9zM62.4 539.0 h5.7 v1.7 h-5.7zM49.1 508.4 h5.7 v1.7 h-5.7zM33.9 550.9 h1.9 v1.7 h-1.9zM70.0 460.8 h1.9 v1.7 h-1.9zM54.8 465.9 h1.9 v1.7 h-1.9zM85.2 537.3 h3.8 v1.7 h-3.8zM70.0 547.5 h1.9 v1.7 h-1.9zM83.3 581.5 h1.9 v1.7 h-1.9zM33.9 556.0 h5.7 v1.7 h-5.7zM33.9 535.6 h5.7 v1.7 h-5.7zM54.8 550.9 h1.9 v1.7 h-1.9zM49.1 511.8 h1.9 v1.7 h-1.9zM54.8 471.0 h3.8 v1.7 h-3.8zM54.8 520.3 h5.7 v1.7 h-5.7zM68.1 491.4 h3.8 v1.7 h-3.8zM43.4 471.0 h3.8 v1.7 h-3.8zM52.9 471.0 h1.9 v1.7 h-1.9zM35.8 595.1 h3.8 v1.7 h-3.8zM64.3 488.0 h5.7 v1.7 h-5.7zM102.3 465.9 h5.7 v1.7 h-5.7zM90.9 518.6 h3.8 v1.7 h-3.8zM81.4 476.1 h1.9 v1.7 h-1.9zM45.3 508.4 h3.8 v1.7 h-3.8zM47.2 465.9 h1.9 v1.7 h-1.9zM51.0 462.5 h3.8 v1.7 h-3.8zM41.5 511.8 h1.9 v1.7 h-1.9zM41.5 533.9 h5.7 v1.7 h-5.7zM52.9 505.0 h3.8 v1.7 h-3.8zM37.7 510.1 h5.7 v1.7 h-5.7zM58.6 493.1 h1.9 v1.7 h-1.9zM58.6 552.6 h3.8 v1.7 h-3.8zM41.5 510.1 h1.9 v1.7 h-1.9zM68.1 477.8 h1.9 v1.7 h-1.9zM58.6 471.0 h3.8 v1.7 h-3.8zM35.8 569.6 h1.9 v1.7 h-1.9zM75.7 532.2 h3.8 v1.7 h-3.8zM90.9 496.5 h1.9 v1.7 h-1.9zM73.8 544.1 h1.9 v1.7 h-1.9zM37.7 537.3 h5.7 v1.7 h-5.7zM33.9 590.0 h1.9 v1.7 h-1.9zM41.5 476.1 h3.8 v1.7 h-3.8zM47.2 535.6 h3.8 v1.7 h-3.8zM35.8 564.5 h1.9 v1.7 h-1.9zM94.7 498.2 h3.8 v1.7 h-3.8zM33.9 549.2 h3.8 v1.7 h-3.8zM75.7 533.9 h1.9 v1.7 h-1.9zM41.5 460.8 h1.9 v1.7 h-1.9zM45.3 525.4 h3.8 v1.7 h-3.8zM73.8 494.8 h5.7 v1.7 h-5.7zM66.2 522.0 h1.9 v1.7 h-1.9zM64.3 583.2 h3.8 v1.7 h-3.8zM56.7 515.2 h1.9 v1.7 h-1.9zM41.5 474.4 h1.9 v1.7 h-1.9zM52.9 486.3 h3.8 v1.7 h-3.8zM35.8 571.3 h1.9 v1.7 h-1.9zM68.1 477.8 h1.9 v1.7 h-1.9zM60.5 467.6 h1.9 v1.7 h-1.9zM108.0 486.3 h3.8 v1.7 h-3.8zM68.1 528.8 h3.8 v1.7 h-3.8zM66.2 489.7 h5.7 v1.7 h-5.7zM39.6 515.2 h3.8 v1.7 h-3.8zM37.7 494.8 h1.9 v1.7 h-1.9zM47.2 462.5 h1.9 v1.7 h-1.9zM71.9 476.1 h3.8 v1.7 h-3.8zM33.9 549.2 h3.8 v1.7 h-3.8zM66.2 467.6 h1.9 v1.7 h-1.9zM35.8 542.4 h1.9 v1.7 h-1.9zM39.6 499.9 h1.9 v1.7 h-1.9zM70.0 493.1 h3.8 v1.7 h-3.8zM100.4 501.6 h1.9 v1.7 h-1.9zM58.6 550.9 h5.7 v1.7 h-5.7zM60.5 535.6 h3.8 v1.7 h-3.8zM41.5 494.8 h1.9 v1.7 h-1.9zM52.9 533.9 h1.9 v1.7 h-1.9zM56.7 584.9 h1.9 v1.7 h-1.9zM58.6 464.2 h5.7 v1.7 h-5.7zM56.7 482.9 h3.8 v1.7 h-3.8zM58.6 477.8 h5.7 v1.7 h-5.7zM45.3 501.6 h1.9 v1.7 h-1.9zM45.3 583.2 h1.9 v1.7 h-1.9zM87.1 471.0 h1.9 v1.7 h-1.9z" fill="#fff"/><rect x="32.0" y="618.4" width="84.8" height="9" fill="url(#cb)"/><rect x="32.0" y="587.4" width="5" height="40" fill="url(#cl)"/><circle cx="32.0" cy="627.4" r="13" fill="url(#cg)"/><rect x="32.0" y="623.4" width="48" height="4.0" fill="url(#cd)" filter="url(#b05)"/><rect x="32.0" y="605.4" width="3.2" height="22" fill="url(#cv)" filter="url(#b05)"/></g><path d="M32.0 627.4 L223.6 458.6" stroke="#111" stroke-width="1.1" stroke-dasharray="4.2 3.2" fill="none"/><path d="M33.5 627.4 L117.0 492.4" stroke="#00e800" stroke-width="1.6" fill="none"/><rect x="32.0" y="458.6" width="191.6" height="168.8" fill="none" stroke="#8c8c8c" stroke-width="0.9"/><text x="32.0" y="641.3" text-anchor="middle" font-size="9.3" fill="#222" stroke="#222">0</text><text x="70.1" y="641.3" text-anchor="middle" font-size="9.3" fill="#222" stroke="#222">0.2</text><text x="108.2" y="641.3" text-anchor="middle" font-size="9.3" fill="#222" stroke="#222">0.4</text><text x="146.4" y="641.3" text-anchor="middle" font-size="9.3" fill="#222" stroke="#222">0.6</text><text x="184.5" y="641.3" text-anchor="middle" font-size="9.3" fill="#222" stroke="#222">0.8</text><text x="28.4" y="630.5" text-anchor="end" font-size="9.3" fill="#222" stroke="#222">0</text><text x="28.4" y="596.7" text-anchor="end" font-size="9.3" fill="#222" stroke="#222">0.2</text><text x="28.4" y="563.0" text-anchor="end" font-size="9.3" fill="#222" stroke="#222">0.4</text><text x="28.4" y="529.2" text-anchor="end" font-size="9.3" fill="#222" stroke="#222">0.6</text><text x="28.4" y="495.5" text-anchor="end" font-size="9.3" fill="#222" stroke="#222">0.8</text><text x="28.4" y="461.7" text-anchor="end" font-size="9.3" fill="#222" stroke="#222">1</text><path d="M32.0 627.4 v-2M70.1 627.4 v-2M108.2 627.4 v-2M146.4 627.4 v-2M184.5 627.4 v-2M32.0 627.4 h2M32.0 593.6 h2M32.0 559.9 h2M32.0 526.1 h2M32.0 492.4 h2M32.0 458.6 h2" stroke="#555" stroke-width="0.6" fill="none"/><text x="127.8" y="652.6" text-anchor="middle" font-size="10.2" fill="#222" stroke="#222">UB</text><text transform="translate(11.3 543.0) rotate(-90)" text-anchor="middle" font-size="10.2" fill="#222" stroke="#222">SOSIM</text><text x="47" y="474.5" font-size="9.0" fill="#222" stroke="#222">SIT in February</text><text x="39.5" y="494" font-size="9.0" fill="#222" stroke="#222">r = 0.68</text><text x="39.5" y="507.2" font-size="9.0" fill="#222" stroke="#222">RMSE = 2.84 m</text><text x="39.5" y="520.2" font-size="9.0" fill="#222" stroke="#222">Bias = 0.04 m</text><text x="35.5" y="612.5" font-size="9.3" fill="#222" stroke="#222">(c)</text><text x="113.4" y="592" font-size="9.0" fill="#222" stroke="#222">bin size: 0.01 m</text><rect x="75.6" y="608.3" width="121.4" height="12.4" fill="url(#mat)" stroke="#444" stroke-width="0.6"/><text x="81" y="605.5" text-anchor="middle" font-size="9.3" fill="#222" stroke="#222">0</text><text x="198.8" y="605.8" text-anchor="end" font-size="9.3" fill="#222" stroke="#222">1×10<tspan font-size="6.8" dy="-3.6">-2</tspan></text><path d="M31.8 458.8 L31.8 453.6 C32.6 456.4 34 458 39 458.3 L39 458.8 Z" fill="#ffa07a" fill-opacity="0.92"/><path d="M35 450.4 H108" stroke="#000" stroke-width="0.8"/><path d="M35 450.2 H48" stroke="#000" stroke-width="2.4"/><circle cx="34.8" cy="450.2" r="2.9" fill="#ff0000"/><path d="M223.6 458.6 V450.2 h-2.2" fill="none" stroke="#ffa07a" stroke-width="0.9"/><text x="227.4" y="453.4" font-size="9.3" fill="#ffa07a">70</text><text x="227.4" y="461.2" font-size="9.3" fill="#ffa07a">0</text><text transform="translate(220.2 632.2) rotate(90)" font-size="9.3" fill="#00ffff" stroke="#00ffff">0</text><text transform="translate(228.4 632.2) rotate(90)" font-size="9.3" fill="#00ffff" stroke="#00ffff">70</text><path d="M231.4 494.6 V624.5" stroke="#222" stroke-width="0.7"/><path d="M231.4 623.0 V626.0" stroke="#000" stroke-width="2.4"/><circle cx="231.4" cy="627.4" r="2.9" fill="#ff0000"/><path d="M223.5 606 V620 C223.7 624 224.8 626.4 228.2 627.2" fill="none" stroke="#00ffff" stroke-width="0.9"/><path d="M319.2 627.4 V458.6M367.1 627.4 V458.6M415.0 627.4 V458.6M271.3 585.2 H462.9M271.3 543.0 H462.9M271.3 500.8 H462.9M271.3 458.6 H462.9" stroke="#e2e2e2" stroke-width="0.6" fill="none"/><g clip-path="url(#cf)"><path d="M280.9 568.3 L285.7 462.8 L296.9 462.8 L296.9 568.3 Z" fill="url(#fcol)"/><path d="M290.5 536.2 h0.7v0.7h-0.7zM290.6 474.6 h0.7v0.7h-0.7zM291.0 530.1 h0.7v0.7h-0.7zM289.3 559.9 h0.7v0.7h-0.7zM294.1 515.6 h0.7v0.7h-0.7zM285.8 565.3 h0.7v0.7h-0.7zM293.9 565.4 h0.7v0.7h-0.7zM284.2 507.4 h0.7v0.7h-0.7zM296.5 465.6 h0.7v0.7h-0.7zM291.7 512.5 h0.7v0.7h-0.7zM281.4 561.7 h0.7v0.7h-0.7zM283.6 527.8 h0.7v0.7h-0.7zM285.1 559.6 h0.7v0.7h-0.7zM288.3 567.8 h0.7v0.7h-0.7zM294.6 537.5 h0.7v0.7h-0.7zM291.8 528.9 h0.7v0.7h-0.7zM292.1 531.0 h0.7v0.7h-0.7zM286.4 535.7 h0.7v0.7h-0.7zM296.9 463.2 h0.7v0.7h-0.7zM293.3 487.1 h0.7v0.7h-0.7zM285.2 549.6 h0.7v0.7h-0.7zM282.7 551.9 h0.7v0.7h-0.7zM289.2 497.6 h0.7v0.7h-0.7zM289.4 486.1 h0.7v0.7h-0.7zM295.2 469.4 h0.7v0.7h-0.7zM284.2 568.3 h0.7v0.7h-0.7zM290.6 476.7 h0.7v0.7h-0.7zM290.1 465.9 h0.7v0.7h-0.7zM291.0 566.2 h0.7v0.7h-0.7zM287.6 495.9 h0.7v0.7h-0.7zM286.3 565.6 h0.7v0.7h-0.7zM294.1 468.5 h0.7v0.7h-0.7zM285.0 564.0 h0.7v0.7h-0.7zM282.0 564.9 h0.7v0.7h-0.7zM286.5 493.3 h0.7v0.7h-0.7zM289.2 524.2 h0.7v0.7h-0.7zM292.7 559.5 h0.7v0.7h-0.7zM291.3 563.3 h0.7v0.7h-0.7zM287.7 564.1 h0.7v0.7h-0.7zM285.6 558.0 h0.7v0.7h-0.7zM294.7 467.4 h0.7v0.7h-0.7zM295.2 550.6 h0.7v0.7h-0.7zM287.5 558.1 h0.7v0.7h-0.7zM292.5 485.0 h0.7v0.7h-0.7zM296.8 565.0 h0.7v0.7h-0.7zM285.4 557.9 h0.7v0.7h-0.7zM288.3 496.7 h0.7v0.7h-0.7zM282.8 551.3 h0.7v0.7h-0.7zM290.3 565.5 h0.7v0.7h-0.7zM290.8 555.7 h0.7v0.7h-0.7zM288.7 544.4 h0.7v0.7h-0.7zM291.0 469.2 h0.7v0.7h-0.7zM295.1 522.4 h0.7v0.7h-0.7zM283.7 560.1 h0.7v0.7h-0.7zM294.8 477.0 h0.7v0.7h-0.7zM284.4 555.2 h0.7v0.7h-0.7zM296.2 501.2 h0.7v0.7h-0.7zM296.1 559.1 h0.7v0.7h-0.7zM292.1 480.9 h0.7v0.7h-0.7zM283.7 539.5 h0.7v0.7h-0.7zM296.3 567.5 h0.7v0.7h-0.7zM292.4 556.0 h0.7v0.7h-0.7zM294.2 554.6 h0.7v0.7h-0.7zM287.1 519.7 h0.7v0.7h-0.7zM292.5 560.6 h0.7v0.7h-0.7zM284.6 566.4 h0.7v0.7h-0.7zM294.9 524.2 h0.7v0.7h-0.7zM287.0 517.5 h0.7v0.7h-0.7zM287.5 475.6 h0.7v0.7h-0.7zM285.2 568.1 h0.7v0.7h-0.7zM283.2 536.9 h0.7v0.7h-0.7zM287.0 560.5 h0.7v0.7h-0.7zM284.8 522.7 h0.7v0.7h-0.7zM295.3 545.3 h0.7v0.7h-0.7zM293.0 465.9 h0.7v0.7h-0.7zM291.4 507.7 h0.7v0.7h-0.7zM281.7 562.8 h0.7v0.7h-0.7zM295.5 568.1 h0.7v0.7h-0.7zM296.4 506.4 h0.7v0.7h-0.7zM291.1 568.0 h0.7v0.7h-0.7zM293.0 533.0 h0.7v0.7h-0.7zM296.9 549.3 h0.7v0.7h-0.7zM289.7 566.1 h0.7v0.7h-0.7zM295.6 501.6 h0.7v0.7h-0.7zM293.1 501.6 h0.7v0.7h-0.7zM295.9 493.8 h0.7v0.7h-0.7zM292.2 546.3 h0.7v0.7h-0.7zM295.4 478.1 h0.7v0.7h-0.7zM293.8 539.9 h0.7v0.7h-0.7zM291.7 483.7 h0.7v0.7h-0.7zM288.5 516.2 h0.7v0.7h-0.7zM291.5 521.4 h0.7v0.7h-0.7zM291.2 565.9 h0.7v0.7h-0.7zM295.6 463.9 h0.7v0.7h-0.7zM288.9 502.8 h0.7v0.7h-0.7zM291.5 501.8 h0.7v0.7h-0.7zM294.6 537.5 h0.7v0.7h-0.7zM292.9 565.8 h0.7v0.7h-0.7zM290.5 567.8 h0.7v0.7h-0.7zM285.8 533.1 h0.7v0.7h-0.7zM290.3 506.8 h0.7v0.7h-0.7zM295.8 517.5 h0.7v0.7h-0.7zM281.7 554.7 h0.7v0.7h-0.7zM292.0 550.9 h0.7v0.7h-0.7zM284.0 558.7 h0.7v0.7h-0.7zM292.9 477.4 h0.7v0.7h-0.7zM295.3 537.3 h0.7v0.7h-0.7zM291.9 548.6 h0.7v0.7h-0.7zM288.0 559.0 h0.7v0.7h-0.7zM295.8 492.0 h0.7v0.7h-0.7zM289.5 481.2 h0.7v0.7h-0.7zM287.4 521.3 h0.7v0.7h-0.7zM289.0 563.0 h0.7v0.7h-0.7zM295.1 487.5 h0.7v0.7h-0.7zM296.3 505.0 h0.7v0.7h-0.7zM284.2 553.0 h0.7v0.7h-0.7zM286.3 536.4 h0.7v0.7h-0.7zM287.8 557.9 h0.7v0.7h-0.7zM290.0 516.1 h0.7v0.7h-0.7zM294.5 549.6 h0.7v0.7h-0.7zM290.7 465.6 h0.7v0.7h-0.7zM281.5 566.2 h0.7v0.7h-0.7zM285.3 482.3 h0.7v0.7h-0.7zM291.3 505.4 h0.7v0.7h-0.7zM293.8 550.2 h0.7v0.7h-0.7zM283.1 568.0 h0.7v0.7h-0.7zM282.7 536.0 h0.7v0.7h-0.7zM287.5 488.6 h0.7v0.7h-0.7zM281.9 562.7 h0.7v0.7h-0.7zM289.4 515.7 h0.7v0.7h-0.7zM292.2 515.6 h0.7v0.7h-0.7zM296.4 491.8 h0.7v0.7h-0.7zM286.3 508.6 h0.7v0.7h-0.7zM285.0 533.8 h0.7v0.7h-0.7zM288.5 568.2 h0.7v0.7h-0.7zM286.1 504.6 h0.7v0.7h-0.7zM286.9 553.3 h0.7v0.7h-0.7zM290.6 506.9 h0.7v0.7h-0.7zM293.6 517.5 h0.7v0.7h-0.7zM293.8 542.3 h0.7v0.7h-0.7zM286.1 477.3 h0.7v0.7h-0.7zM293.7 473.3 h0.7v0.7h-0.7zM288.3 563.4 h0.7v0.7h-0.7zM295.7 516.1 h0.7v0.7h-0.7zM290.5 543.9 h0.7v0.7h-0.7zM294.5 481.3 h0.7v0.7h-0.7zM290.7 471.5 h0.7v0.7h-0.7zM286.2 512.9 h0.7v0.7h-0.7zM294.5 503.6 h0.7v0.7h-0.7zM293.1 514.1 h0.7v0.7h-0.7zM295.4 557.9 h0.7v0.7h-0.7zM296.7 465.9 h0.7v0.7h-0.7zM294.0 526.8 h0.7v0.7h-0.7zM295.6 549.2 h0.7v0.7h-0.7zM288.9 484.8 h0.7v0.7h-0.7zM288.0 565.8 h0.7v0.7h-0.7zM293.7 525.3 h0.7v0.7h-0.7zM282.9 532.4 h0.7v0.7h-0.7zM285.2 491.5 h0.7v0.7h-0.7zM286.5 492.9 h0.7v0.7h-0.7zM293.7 547.9 h0.7v0.7h-0.7zM283.5 562.8 h0.7v0.7h-0.7zM293.0 529.2 h0.7v0.7h-0.7zM293.1 487.1 h0.7v0.7h-0.7zM291.0 471.3 h0.7v0.7h-0.7zM286.3 470.8 h0.7v0.7h-0.7zM289.6 557.3 h0.7v0.7h-0.7zM292.8 551.8 h0.7v0.7h-0.7zM290.4 514.4 h0.7v0.7h-0.7zM291.5 486.6 h0.7v0.7h-0.7zM287.5 550.0 h0.7v0.7h-0.7zM295.7 486.3 h0.7v0.7h-0.7zM294.6 558.3 h0.7v0.7h-0.7zM291.5 467.8 h0.7v0.7h-0.7zM285.8 522.6 h0.7v0.7h-0.7zM289.9 526.9 h0.7v0.7h-0.7zM283.5 518.6 h0.7v0.7h-0.7zM291.4 467.6 h0.7v0.7h-0.7zM294.0 541.6 h0.7v0.7h-0.7zM289.8 523.8 h0.7v0.7h-0.7zM284.5 507.7 h0.7v0.7h-0.7zM288.6 526.6 h0.7v0.7h-0.7zM296.0 469.6 h0.7v0.7h-0.7zM288.8 553.6 h0.7v0.7h-0.7zM288.0 563.5 h0.7v0.7h-0.7zM295.7 490.6 h0.7v0.7h-0.7zM287.0 533.6 h0.7v0.7h-0.7zM290.9 559.5 h0.7v0.7h-0.7zM286.7 474.4 h0.7v0.7h-0.7zM284.5 495.7 h0.7v0.7h-0.7zM284.8 559.3 h0.7v0.7h-0.7zM287.9 508.2 h0.7v0.7h-0.7zM291.2 546.0 h0.7v0.7h-0.7zM292.7 564.7 h0.7v0.7h-0.7zM289.2 563.8 h0.7v0.7h-0.7zM284.5 555.1 h0.7v0.7h-0.7zM288.9 527.6 h0.7v0.7h-0.7zM288.2 544.0 h0.7v0.7h-0.7zM285.0 527.7 h0.7v0.7h-0.7zM291.2 558.6 h0.7v0.7h-0.7zM290.5 514.5 h0.7v0.7h-0.7zM292.2 485.5 h0.7v0.7h-0.7zM287.5 484.7 h0.7v0.7h-0.7zM294.5 501.1 h0.7v0.7h-0.7zM288.8 477.8 h0.7v0.7h-0.7zM295.8 549.7 h0.7v0.7h-0.7zM296.9 557.6 h0.7v0.7h-0.7zM286.5 480.1 h0.7v0.7h-0.7zM292.7 556.0 h0.7v0.7h-0.7zM283.0 554.4 h0.7v0.7h-0.7zM289.7 488.2 h0.7v0.7h-0.7zM285.8 494.3 h0.7v0.7h-0.7zM292.3 541.4 h0.7v0.7h-0.7zM284.1 568.1 h0.7v0.7h-0.7zM295.7 508.9 h0.7v0.7h-0.7zM286.8 467.8 h0.7v0.7h-0.7zM293.5 530.4 h0.7v0.7h-0.7zM292.4 530.7 h0.7v0.7h-0.7zM282.4 559.7 h0.7v0.7h-0.7zM281.6 564.7 h0.7v0.7h-0.7zM290.1 525.1 h0.7v0.7h-0.7zM285.0 523.1 h0.7v0.7h-0.7zM284.5 560.0 h0.7v0.7h-0.7zM296.8 487.1 h0.7v0.7h-0.7zM286.3 474.2 h0.7v0.7h-0.7zM296.2 566.7 h0.7v0.7h-0.7zM293.5 535.2 h0.7v0.7h-0.7zM288.9 548.6 h0.7v0.7h-0.7zM288.8 529.3 h0.7v0.7h-0.7zM283.3 519.2 h0.7v0.7h-0.7zM294.9 506.4 h0.7v0.7h-0.7zM288.4 560.2 h0.7v0.7h-0.7zM289.2 501.3 h0.7v0.7h-0.7zM283.9 559.2 h0.7v0.7h-0.7zM282.9 529.6 h0.7v0.7h-0.7zM294.5 479.3 h0.7v0.7h-0.7zM295.1 505.9 h0.7v0.7h-0.7zM288.8 515.6 h0.7v0.7h-0.7zM290.1 519.3 h0.7v0.7h-0.7zM294.7 465.5 h0.7v0.7h-0.7zM295.6 554.5 h0.7v0.7h-0.7zM294.0 500.6 h0.7v0.7h-0.7zM289.5 490.7 h0.7v0.7h-0.7zM295.5 478.8 h0.7v0.7h-0.7zM293.8 507.2 h0.7v0.7h-0.7zM289.3 497.7 h0.7v0.7h-0.7zM284.7 503.5 h0.7v0.7h-0.7zM288.9 547.2 h0.7v0.7h-0.7zM286.6 568.2 h0.7v0.7h-0.7zM291.8 514.5 h0.7v0.7h-0.7zM296.1 556.5 h0.7v0.7h-0.7zM288.0 511.0 h0.7v0.7h-0.7zM291.1 511.8 h0.7v0.7h-0.7zM288.3 527.3 h0.7v0.7h-0.7zM292.9 462.8 h0.7v0.7h-0.7zM293.8 506.4 h0.7v0.7h-0.7zM285.8 466.0 h0.7v0.7h-0.7zM293.3 517.4 h0.7v0.7h-0.7zM287.7 554.6 h0.7v0.7h-0.7zM284.1 567.1 h0.7v0.7h-0.7zM283.5 544.0 h0.7v0.7h-0.7zM295.5 555.1 h0.7v0.7h-0.7zM290.0 525.3 h0.7v0.7h-0.7zM292.0 468.0 h0.7v0.7h-0.7zM292.8 463.6 h0.7v0.7h-0.7zM285.3 491.5 h0.7v0.7h-0.7zM293.6 519.6 h0.7v0.7h-0.7zM295.8 567.3 h0.7v0.7h-0.7zM288.6 561.6 h0.7v0.7h-0.7zM289.0 561.0 h0.7v0.7h-0.7zM284.0 517.9 h0.7v0.7h-0.7zM290.2 471.4 h0.7v0.7h-0.7zM291.2 528.0 h0.7v0.7h-0.7zM286.2 545.0 h0.7v0.7h-0.7zM291.0 512.4 h0.7v0.7h-0.7zM292.6 552.4 h0.7v0.7h-0.7zM281.9 551.3 h0.7v0.7h-0.7zM282.1 555.5 h0.7v0.7h-0.7zM293.1 561.8 h0.7v0.7h-0.7zM295.4 542.6 h0.7v0.7h-0.7zM284.6 500.0 h0.7v0.7h-0.7zM296.3 464.6 h0.7v0.7h-0.7zM295.4 566.2 h0.7v0.7h-0.7zM289.2 538.6 h0.7v0.7h-0.7zM288.3 467.0 h0.7v0.7h-0.7zM296.0 528.4 h0.7v0.7h-0.7zM290.0 503.5 h0.7v0.7h-0.7zM294.8 466.2 h0.7v0.7h-0.7zM284.7 518.8 h0.7v0.7h-0.7zM289.5 516.3 h0.7v0.7h-0.7zM282.1 558.6 h0.7v0.7h-0.7zM284.5 527.8 h0.7v0.7h-0.7zM292.1 537.2 h0.7v0.7h-0.7zM286.2 535.9 h0.7v0.7h-0.7zM288.8 521.4 h0.7v0.7h-0.7zM290.9 495.9 h0.7v0.7h-0.7zM296.4 463.2 h0.7v0.7h-0.7zM287.0 501.9 h0.7v0.7h-0.7zM295.2 564.3 h0.7v0.7h-0.7zM292.2 495.0 h0.7v0.7h-0.7zM286.0 545.6 h0.7v0.7h-0.7zM291.1 508.5 h0.7v0.7h-0.7zM291.8 520.3 h0.7v0.7h-0.7zM286.5 499.3 h0.7v0.7h-0.7zM296.6 555.2 h0.7v0.7h-0.7zM295.5 475.9 h0.7v0.7h-0.7zM281.9 567.5 h0.7v0.7h-0.7zM288.1 553.4 h0.7v0.7h-0.7zM284.6 516.4 h0.7v0.7h-0.7zM283.8 526.3 h0.7v0.7h-0.7zM291.8 565.6 h0.7v0.7h-0.7zM291.7 525.2 h0.7v0.7h-0.7zM289.1 544.3 h0.7v0.7h-0.7zM286.7 558.1 h0.7v0.7h-0.7zM294.8 500.5 h0.7v0.7h-0.7zM282.9 566.2 h0.7v0.7h-0.7zM292.2 491.5 h0.7v0.7h-0.7zM286.8 497.2 h0.7v0.7h-0.7zM286.0 539.2 h0.7v0.7h-0.7zM289.0 491.4 h0.7v0.7h-0.7zM296.8 512.6 h0.7v0.7h-0.7zM290.1 548.7 h0.7v0.7h-0.7zM295.9 500.3 h0.7v0.7h-0.7zM287.7 538.8 h0.7v0.7h-0.7zM294.9 565.1 h0.7v0.7h-0.7zM282.3 566.0 h0.7v0.7h-0.7zM289.7 523.6 h0.7v0.7h-0.7zM287.6 508.5 h0.7v0.7h-0.7zM285.1 496.3 h0.7v0.7h-0.7zM291.7 557.9 h0.7v0.7h-0.7zM285.8 565.9 h0.7v0.7h-0.7zM292.9 503.2 h0.7v0.7h-0.7zM283.8 552.4 h0.7v0.7h-0.7zM292.8 545.7 h0.7v0.7h-0.7zM283.7 544.9 h0.7v0.7h-0.7zM291.2 505.3 h0.7v0.7h-0.7zM296.2 475.4 h0.7v0.7h-0.7zM290.3 476.2 h0.7v0.7h-0.7zM288.2 492.4 h0.7v0.7h-0.7zM287.8 549.4 h0.7v0.7h-0.7zM295.7 473.0 h0.7v0.7h-0.7zM287.1 555.3 h0.7v0.7h-0.7zM287.4 545.0 h0.7v0.7h-0.7zM287.8 542.1 h0.7v0.7h-0.7zM290.1 559.2 h0.7v0.7h-0.7zM291.1 493.2 h0.7v0.7h-0.7zM291.5 487.6 h0.7v0.7h-0.7zM293.1 560.5 h0.7v0.7h-0.7zM288.2 481.1 h0.7v0.7h-0.7zM289.2 568.0 h0.7v0.7h-0.7zM290.8 526.0 h0.7v0.7h-0.7zM292.9 468.1 h0.7v0.7h-0.7zM285.1 492.2 h0.7v0.7h-0.7zM293.9 525.7 h0.7v0.7h-0.7zM282.3 565.7 h0.7v0.7h-0.7zM295.6 501.6 h0.7v0.7h-0.7zM291.1 565.7 h0.7v0.7h-0.7zM292.9 562.6 h0.7v0.7h-0.7zM286.7 513.2 h0.7v0.7h-0.7zM293.3 557.4 h0.7v0.7h-0.7zM293.6 528.6 h0.7v0.7h-0.7zM287.1 542.2 h0.7v0.7h-0.7zM293.2 467.8 h0.7v0.7h-0.7zM290.3 531.7 h0.7v0.7h-0.7zM293.1 503.7 h0.7v0.7h-0.7zM289.9 476.0 h0.7v0.7h-0.7zM292.8 489.1 h0.7v0.7h-0.7zM294.5 485.1 h0.7v0.7h-0.7zM295.5 488.0 h0.7v0.7h-0.7zM292.8 469.4 h0.7v0.7h-0.7zM292.8 528.3 h0.7v0.7h-0.7zM289.6 492.5 h0.7v0.7h-0.7zM284.3 539.6 h0.7v0.7h-0.7zM296.8 501.0 h0.7v0.7h-0.7zM284.5 544.0 h0.7v0.7h-0.7zM288.0 558.6 h0.7v0.7h-0.7zM296.5 551.7 h0.7v0.7h-0.7zM285.9 566.8 h0.7v0.7h-0.7zM291.3 564.2 h0.7v0.7h-0.7zM286.4 496.2 h0.7v0.7h-0.7zM288.3 566.7 h0.7v0.7h-0.7zM295.7 521.2 h0.7v0.7h-0.7zM282.7 567.6 h0.7v0.7h-0.7zM284.7 560.0 h0.7v0.7h-0.7zM292.5 556.3 h0.7v0.7h-0.7zM286.2 519.9 h0.7v0.7h-0.7zM285.7 559.9 h0.7v0.7h-0.7zM293.1 560.8 h0.7v0.7h-0.7zM290.1 550.0 h0.7v0.7h-0.7zM290.4 490.4 h0.7v0.7h-0.7zM295.2 554.3 h0.7v0.7h-0.7zM289.1 476.1 h0.7v0.7h-0.7zM296.3 525.6 h0.7v0.7h-0.7zM285.7 532.9 h0.7v0.7h-0.7zM296.1 567.2 h0.7v0.7h-0.7zM289.2 492.6 h0.7v0.7h-0.7zM290.0 527.9 h0.7v0.7h-0.7zM296.8 553.1 h0.7v0.7h-0.7zM286.6 512.1 h0.7v0.7h-0.7zM288.5 568.2 h0.7v0.7h-0.7zM293.9 544.4 h0.7v0.7h-0.7zM291.7 504.8 h0.7v0.7h-0.7zM283.6 561.7 h0.7v0.7h-0.7zM285.7 549.1 h0.7v0.7h-0.7zM291.0 482.8 h0.7v0.7h-0.7zM296.8 514.7 h0.7v0.7h-0.7zM289.8 553.8 h0.7v0.7h-0.7zM293.3 562.2 h0.7v0.7h-0.7zM294.1 568.3 h0.7v0.7h-0.7zM294.7 486.2 h0.7v0.7h-0.7zM285.3 565.8 h0.7v0.7h-0.7zM285.1 504.3 h0.7v0.7h-0.7zM289.2 533.2 h0.7v0.7h-0.7zM292.1 469.8 h0.7v0.7h-0.7zM288.4 484.6 h0.7v0.7h-0.7zM289.5 494.3 h0.7v0.7h-0.7zM286.2 475.7 h0.7v0.7h-0.7zM287.1 489.1 h0.7v0.7h-0.7zM290.2 526.1 h0.7v0.7h-0.7zM294.3 561.7 h0.7v0.7h-0.7z" fill="#fbe3a4" opacity="0.55"/><path d="M271.3 627.4 L271.3 622.3 L272.3 612.6 L273.7 602.1 L275.6 591.5 L277.5 583.1 L279.0 574.6 L280.4 567.5 L281.4 559.9 L282.3 553.5 L285.7 551.4 L290.5 552.3 L295.2 551.4 L296.9 551.4 L296.9 585.2 L296.9 602.1 L296.7 614.7 L295.2 621.1 L292.4 624.4 L285.7 626.6 L278.5 627.4Z" fill="#feecb4"/><path d="M271.3 627.4 L271.8 619.0 L274.2 609.7 L278.0 602.1 L283.3 593.6 L288.5 587.3 L293.3 581.0 L296.2 576.8 L296.4 606.3 L295.2 610.5 L290.5 614.7 L283.3 621.5 L276.1 626.1Z" fill="#f8c48c" opacity="0.45" filter="url(#b1)"/><path d="M295.5 576.8 L295.5 608.4" stroke="#5a1f66" stroke-width="1.4" fill="none" opacity="0.9"/><path d="M294.8 572.5 L295.2 606.3" stroke="#a9357a" stroke-width="1" fill="none" opacity="0.7"/><path d="M271.8 626.1 Q280.9 609.7 295.2 601.2" stroke="#8a2a70" stroke-width="1.1" fill="none" opacity="0.85"/><path d="M271.8 625.7 Q278.5 604.2 295.2 587.3" stroke="#c2456e" stroke-width="1" fill="none" opacity="0.8"/><path d="M272.3 626.6 Q285.7 622.3 295.2 610.5" stroke="#d96a5f" stroke-width="0.9" fill="none" opacity="0.7"/><circle cx="272.7" cy="625.3" r="2.2" fill="#7a2a78" opacity="0.8"/></g><path d="M271.3 627.4 L462.9 458.6" stroke="#111" stroke-width="1.1" stroke-dasharray="4.2 3.2" fill="none"/><path d="M271.3 625.3 L296.2 595.5" stroke="#00e800" stroke-width="1.6" fill="none"/><rect x="271.3" y="458.6" width="191.6" height="168.8" fill="none" stroke="#8c8c8c" stroke-width="0.9"/><text x="271.3" y="641.3" text-anchor="middle" font-size="9.3" fill="#222" stroke="#222">0</text><text x="319.2" y="641.3" text-anchor="middle" font-size="9.3" fill="#222" stroke="#222">1</text><text x="367.1" y="641.3" text-anchor="middle" font-size="9.3" fill="#222" stroke="#222">2</text><text x="415.0" y="641.3" text-anchor="middle" font-size="9.3" fill="#222" stroke="#222">3</text><text x="267.7" y="630.5" text-anchor="end" font-size="9.3" fill="#222" stroke="#222">0</text><text x="267.7" y="588.3" text-anchor="end" font-size="9.3" fill="#222" stroke="#222">1</text><text x="267.7" y="546.1" text-anchor="end" font-size="9.3" fill="#222" stroke="#222">2</text><text x="267.7" y="503.9" text-anchor="end" font-size="9.3" fill="#222" stroke="#222">3</text><text x="267.7" y="461.7" text-anchor="end" font-size="9.3" fill="#222" stroke="#222">4</text><path d="M271.3 627.4 v-2M319.2 627.4 v-2M367.1 627.4 v-2M415.0 627.4 v-2M271.3 627.4 h2M271.3 585.2 h2M271.3 543.0 h2M271.3 500.8 h2M271.3 458.6 h2" stroke="#555" stroke-width="0.6" fill="none"/><text x="367.1" y="652.6" text-anchor="middle" font-size="10.2" fill="#222" stroke="#222">UB</text><text transform="translate(260.6 543.0) rotate(-90)" text-anchor="middle" font-size="10.2" fill="#222" stroke="#222">SOSIM</text><text x="286.3" y="474.5" font-size="9.0" fill="#222" stroke="#222">SIT in September</text><text x="278.8" y="494" font-size="9.0" fill="#222" stroke="#222">r = 0.88</text><text x="278.8" y="507.2" font-size="9.0" fill="#222" stroke="#222">RMSE = 1.51 m</text><text x="278.8" y="520.2" font-size="9.0" fill="#222" stroke="#222">Bias = 0.16 m</text><text x="275.7" y="611.8" font-size="9.3" fill="#222" stroke="#222">(f)</text><text x="352.5" y="591.6" font-size="9.0" fill="#222" stroke="#222">bin size: 0.01 m</text><rect x="316.3" y="608.3" width="119.7" height="12.4" fill="url(#mat)" stroke="#444" stroke-width="0.6"/><text x="320.8" y="604.8" text-anchor="middle" font-size="9.3" fill="#222" stroke="#222">0</text><text x="438.8" y="606.2" text-anchor="end" font-size="9.3" fill="#222" stroke="#222">1×10<tspan font-size="6.8" dy="-3.6">-3</tspan></text><path d="M271.4 458.6 L271.4 451.6 C272.6 455 274.6 457 280 457.4 L289 457.4 C294.2 457 296.2 455 297.4 451.6 L297.4 458.6 Z" fill="#ffa07a" fill-opacity="0.92"/><path d="M272 450.2 H297" stroke="#222" stroke-width="0.7"/><path d="M272 450.2 H295" stroke="#000" stroke-width="2.4"/><circle cx="285" cy="450.2" r="2.9" fill="#ff0000"/><path d="M462.9 458.6 V450.2 h-2.2" fill="none" stroke="#ffa07a" stroke-width="0.9"/><text x="466.7" y="453.4" font-size="9.3" fill="#ffa07a">6</text><text x="466.7" y="461.2" font-size="9.3" fill="#ffa07a">0</text><text transform="translate(459.5 632.2) rotate(90)" font-size="9.3" fill="#00ffff" stroke="#00ffff">0</text><text transform="translate(467.7 632.2) rotate(90)" font-size="9.3" fill="#00ffff" stroke="#00ffff">6</text><path d="M471.5 577.6 V601.4" stroke="#222" stroke-width="0.7"/><path d="M471.5 601.4 V624.8" stroke="#000" stroke-width="2.4"/><circle cx="471.5" cy="610.0" r="2.9" fill="#ff0000"/><path d="M463 574.5 C463.6 590 464.2 600 464.6 610 C465.2 620 466 625.5 469.3 627.2" fill="none" stroke="#00ffff" stroke-width="0.9"/>
</svg></body></html>
